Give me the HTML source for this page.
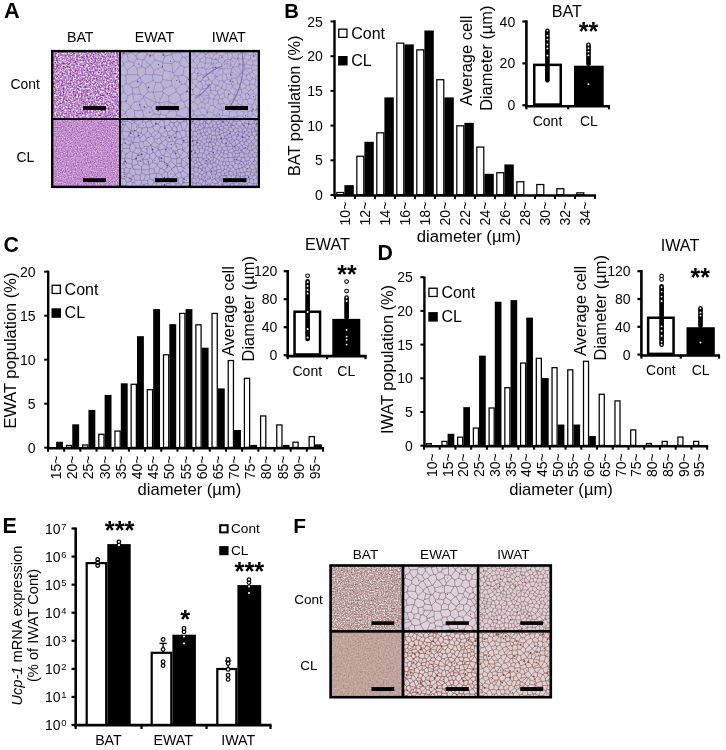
<!DOCTYPE html><html><head><meta charset="utf-8"><style>html,body{margin:0;padding:0;background:#fff;}svg{display:block;will-change:transform;filter:blur(0.3px);}text{font-family:"Liberation Sans", sans-serif;fill:#000;}</style></head><body>
<svg width="726" height="750" viewBox="0 0 726 750">
<rect x="0" y="0" width="726" height="750" fill="#fff"/>
<text x="4.1" y="17.8" font-size="21.7" font-weight="bold">A</text>
<text x="80.2" y="42.4" font-size="14.2" text-anchor="middle">BAT</text>
<text x="154.4" y="42.4" font-size="14.2" text-anchor="middle">EWAT</text>
<text x="228.7" y="42.4" font-size="14.2" text-anchor="middle">IWAT</text>
<text x="25.1" y="88.7" font-size="13.9" text-anchor="middle">Cont</text>
<text x="25.4" y="161.8" font-size="13.9" text-anchor="middle">CL</text>
<rect x="53" y="52" width="66" height="66" filter="url(#n1)"/>
<rect x="53" y="120" width="66" height="66" filter="url(#n2)"/>
<clipPath id="c1"><rect x="121" y="52" width="68" height="66"/></clipPath>
<g clip-path="url(#c1)">
<rect x="121" y="52" width="68" height="66" fill="#bbb5d5"/>
<path fill="none" stroke="#8f7cba" stroke-width="0.65" stroke-linecap="round" d="M117.6 59.6L113.1 57.4M117.6 59.6L116.0 68.7M111.5 68.0L116.0 68.7M114.4 85.4L122.6 86.1M114.3 79.6L118.9 74.1M122.6 86.1L126.4 83.5M126.4 83.5L125.9 76.0M125.9 76.0L118.9 74.1M116.0 68.7L116.5 68.9M116.5 68.9L118.9 74.1M117.6 59.6L120.6 59.7M123.2 65.2L116.5 68.9M123.2 65.2L123.5 63.4M120.6 59.7L123.5 63.4M133.9 65.1L127.4 70.2M133.9 65.1L137.2 68.4M137.2 68.4L137.7 74.7M137.7 74.7L127.1 74.6M127.1 74.6L127.4 70.2M125.9 76.0L127.1 74.6M123.2 65.2L127.4 70.2M123.5 63.4L128.5 60.8M133.9 65.1L133.6 62.7M133.6 62.7L128.5 60.8M137.2 68.4L141.5 66.6M133.6 62.7L136.7 58.6M136.7 58.6L143.1 59.6M141.5 66.6L143.1 59.6M120.6 59.7L122.9 54.9M122.9 54.9L115.2 52.1M115.2 52.1L120.4 46.5M196.4 78.0L192.4 76.1M191.4 69.9L192.4 76.1M191.4 69.9L200.3 68.0M189.8 66.4L194.3 61.8M189.8 66.4L189.7 66.5M189.7 66.5L191.4 69.9M189.8 66.4L185.1 57.4M185.1 57.4L190.8 55.5M190.8 55.5L194.3 57.0M196.0 47.2L193.8 46.5M190.8 55.5L188.4 48.0M193.8 46.5L188.4 48.0M171.3 54.6L174.3 61.4M171.3 54.6L165.0 56.1M165.0 56.1L162.5 62.1M162.9 63.0L171.9 63.6M162.9 63.0L162.5 62.1M171.9 63.6L174.3 61.4M162.6 66.9L164.4 70.4M162.6 66.9L153.9 70.4M153.4 73.8L153.9 70.4M153.4 73.8L162.0 75.9M164.4 70.4L162.0 75.9M162.6 66.9L162.9 63.0M171.9 63.6L172.7 72.4M164.4 70.4L172.7 72.4M122.6 86.1L123.4 91.8M111.3 92.3L118.1 97.8M123.4 91.8L118.1 97.8M198.8 129.6L193.6 122.7M193.6 122.7L186.8 128.6M193.5 119.2L197.9 117.3M193.5 119.2L188.0 115.9M188.0 115.9L188.3 109.2M188.3 109.2L192.7 107.6M192.7 107.6L197.5 108.1M193.6 122.7L193.5 119.2M185.1 117.7L182.7 125.3M185.1 117.7L188.0 115.9M176.2 111.8L185.7 106.8M176.2 111.8L177.0 115.2M185.7 106.8L188.3 109.2M185.1 117.7L177.0 115.2M186.9 91.0L191.2 96.2M186.9 91.0L180.1 95.2M180.1 95.2L181.2 100.0M183.8 102.0L181.2 100.0M183.8 102.0L188.6 99.4M188.6 99.4L191.2 96.2M185.7 106.8L183.8 102.0M192.7 107.6L193.3 102.1M188.6 99.4L193.3 102.1M176.2 111.8L175.0 110.6M181.2 100.0L174.7 104.1M175.0 110.6L174.7 104.1M168.8 96.0L176.1 91.7M168.8 96.0L168.7 101.4M176.1 91.7L180.1 95.2M168.7 101.4L169.3 102.2M174.7 104.1L169.3 102.2M122.9 54.9L124.8 53.8M128.5 60.8L127.0 54.4M124.8 53.8L127.0 54.4M120.4 46.5L123.1 47.4M124.8 53.8L123.1 47.4M155.2 51.5L162.7 52.4M155.2 51.5L153.9 44.7M164.4 46.2L162.7 52.4M153.1 55.0L155.1 60.1M153.1 55.0L146.6 54.6M146.6 54.6L143.9 59.4M143.9 59.4L150.1 65.1M155.1 60.1L150.4 65.1M150.4 65.1L150.1 65.1M165.0 56.1L162.7 52.4M162.5 62.1L155.1 60.1M155.2 51.5L153.1 55.0M141.5 66.6L145.8 68.3M145.8 68.3L150.1 65.1M143.1 59.6L143.9 59.4M153.9 70.4L150.4 65.1M152.5 74.9L145.2 74.2M152.5 74.9L153.0 80.5M153.0 80.5L145.4 84.0M145.2 74.2L140.3 77.6M140.3 77.6L140.3 77.8M140.3 77.8L142.2 82.0M142.2 82.0L145.4 84.0M153.4 73.8L152.5 74.9M145.8 68.3L145.2 74.2M160.9 82.1L155.8 82.6M160.9 82.1L162.7 79.7M155.8 82.6L153.0 80.5M162.7 79.7L162.0 75.9M137.7 74.7L140.3 77.6M126.4 83.5L128.8 84.3M128.8 84.3L140.3 77.8M128.8 84.3L132.3 88.1M132.3 88.1L138.2 87.0M138.2 87.0L142.2 82.0M182.3 57.0L180.5 52.7M182.3 57.0L179.4 62.2M171.3 54.6L172.0 53.7M179.4 62.2L174.3 61.4M180.5 52.7L172.0 53.7M165.3 45.7L171.1 47.0M172.0 53.7L171.1 47.0M185.1 57.4L182.3 57.0M189.7 66.5L184.4 67.3M179.4 62.2L180.6 65.1M184.4 67.3L180.6 65.1M172.7 72.4L173.7 73.1M180.6 65.1L173.7 73.1M118.1 97.8L118.9 100.6M118.9 100.6L111.4 107.4M114.1 130.3L118.8 122.2M122.1 123.7L119.2 121.9M119.2 121.9L118.8 122.2M132.5 124.5L130.5 121.2M129.0 120.7L130.5 121.2M129.0 120.7L122.1 123.7M111.3 123.4L118.8 122.2M118.2 117.3L119.2 121.9M118.2 117.3L125.4 113.2M125.4 113.2L129.0 120.7M118.2 117.3L115.1 115.0M139.3 124.9L140.7 119.1M130.5 121.2L134.5 116.6M134.5 116.6L140.7 119.1M149.3 118.7L150.3 124.1M149.3 118.7L143.9 116.4M140.7 119.1L143.9 116.4M118.9 100.6L121.4 101.6M113.5 110.0L121.1 109.2M121.4 101.6L121.1 109.2M125.4 113.2L125.8 111.9M134.6 110.6L134.5 116.6M134.6 110.6L130.6 107.6M130.6 107.6L125.8 111.9M121.1 109.2L125.8 111.9M168.8 96.0L163.4 92.8M168.7 101.4L159.3 103.0M159.3 103.0L158.9 102.8M163.4 92.8L158.9 102.8M139.5 101.1L143.4 97.5M139.5 101.1L141.1 110.3M143.4 97.5L148.1 106.6M148.1 106.6L142.3 110.8M141.1 110.3L142.3 110.8M149.3 118.7L153.9 113.9M143.9 116.4L142.3 110.8M151.1 107.1L153.9 113.9M151.1 107.1L148.1 106.6M134.6 110.6L141.1 110.3M143.6 96.4L143.6 96.5M143.6 96.4L148.2 91.9M143.6 96.5L156.0 102.5M148.2 91.9L153.2 92.1M153.2 92.1L153.4 92.2M153.4 92.2L156.2 102.4M156.0 102.5L156.2 102.4M138.2 87.0L140.8 94.6M140.8 94.6L143.6 96.4M145.4 84.0L148.2 91.9M151.1 107.1L156.0 102.5M143.4 97.5L143.6 96.5M155.8 82.6L153.2 92.1M160.9 82.1L163.3 89.2M163.3 89.2L162.6 91.5M162.6 91.5L153.4 92.2M163.4 92.8L162.6 91.5M158.9 102.8L156.2 102.4M177.0 115.2L174.5 118.4M174.5 118.4L175.5 125.5M188.3 87.9L194.8 87.2M188.3 87.9L186.9 91.0M191.2 96.2L197.3 95.6M193.3 102.1L198.0 97.1M136.7 58.6L136.1 56.0M146.6 54.6L142.6 46.9M136.1 56.0L142.6 46.9M127.0 54.4L131.2 52.5M136.1 56.0L131.2 52.5M188.4 48.0L183.8 46.0M180.5 52.7L182.4 46.9M171.1 47.0L174.6 43.8M162.7 79.7L171.4 80.6M173.7 73.1L174.6 75.5M174.6 75.5L171.4 80.6M163.3 89.2L172.2 85.2M171.4 80.6L172.2 85.2M176.1 91.7L175.8 89.2M175.8 89.2L172.2 85.2M126.0 101.8L130.5 106.3M126.0 101.8L127.9 95.6M127.9 95.6L132.6 93.7M134.4 102.3L132.6 93.8M134.4 102.3L130.5 106.3M132.6 93.7L132.6 93.8M121.4 101.6L126.0 101.8M130.6 107.6L130.5 106.3M123.4 91.8L127.9 95.6M132.3 88.1L132.6 93.7M140.8 94.6L132.6 93.8M139.5 101.1L134.4 102.3M153.9 113.9L159.2 114.7M159.2 114.7L158.6 125.0M174.5 118.4L167.0 117.5M173.1 127.2L166.4 121.2M167.0 117.5L166.4 121.2M166.4 121.2L160.6 126.6M131.2 52.5L132.3 46.0M123.1 47.4L129.6 43.5M182.7 75.0L177.4 76.1M182.7 75.0L187.7 77.8M177.4 76.1L181.5 84.3M187.7 77.8L185.5 84.0M185.5 84.0L181.5 84.3M184.4 67.3L182.7 75.0M174.6 75.5L177.4 76.1M192.4 76.1L187.7 77.8M175.8 89.2L181.5 84.3M188.3 87.9L185.5 84.0M161.5 108.3L160.7 114.1M161.5 108.3L167.5 107.4M160.7 114.1L165.9 115.7M165.9 115.7L169.3 111.2M169.3 111.2L167.5 107.4M159.3 103.0L161.5 108.3M159.2 114.7L160.7 114.1M169.3 102.2L167.5 107.4M167.0 117.5L165.9 115.7M175.0 110.6L169.3 111.2"/>
<path stroke="#6a4c98" stroke-width="0.8" stroke-linecap="round" d="M159.8 98.2h0M140.0 104.8h0M149.9 56.8h0M164.1 104.9h0M137.2 59.2h0M163.7 87.1h0M140.7 85.0h0M141.9 66.2h0M187.8 107.2h0M140.9 82.3h0"/>
<path stroke="#6a4c98" stroke-width="1.3" stroke-linecap="round" d="M149.7 112.2h0M162.4 66.7h0M179.7 81.9h0M188.6 79.6h0M138.8 64.0h0M139.4 105.0h0M158.5 64.5h0M176.7 80.5h0M170.6 61.2h0M125.8 100.9h0M139.3 52.2h0"/>
<path stroke="#6a4c98" stroke-width="1.8" stroke-linecap="round" d="M148.6 87.4h0M163.3 54.9h0M123.5 53.2h0M137.7 81.5h0M158.1 110.7h0M144.3 106.9h0M150.3 55.7h0M178.2 109.5h0M187.0 91.5h0"/>
</g>
<clipPath id="c2"><rect x="121" y="120" width="68" height="66"/></clipPath>
<g clip-path="url(#c2)">
<rect x="121" y="120" width="68" height="66" fill="#b9b3d4"/>
<path fill="none" stroke="#8a74b6" stroke-width="0.65" stroke-linecap="round" d="M117.3 117.0L115.2 114.7M117.3 117.0L116.9 121.1M116.9 121.1L114.4 122.7M117.3 117.0L122.3 117.8M122.3 117.8L122.5 117.0M121.6 111.2L122.5 117.0M158.5 149.1L159.2 144.2M158.5 149.1L150.9 145.2M150.9 145.2L150.8 145.0M154.2 141.7L159.2 144.2M154.2 141.7L150.9 144.9M150.9 144.9L150.8 145.0M122.3 117.8L123.7 120.9M116.9 121.1L121.1 122.3M123.7 120.9L121.1 122.3M114.5 125.0L117.1 126.5M117.1 126.5L119.9 124.7M121.1 122.3L119.9 124.7M128.3 113.6L130.1 115.6M134.6 110.4L132.6 115.5M130.1 115.6L132.6 115.5M122.5 117.0L128.3 113.6M127.2 121.2L125.6 121.6M127.2 121.2L130.1 115.6M123.7 120.9L125.6 121.6M138.0 136.5L138.1 132.7M138.0 136.5L134.5 137.4M135.8 130.8L138.1 132.7M135.8 130.8L133.0 131.3M134.5 137.4L133.0 131.3M145.9 110.4L146.8 115.2M153.0 110.0L152.6 115.5M146.8 115.2L148.8 116.2M152.6 115.5L148.8 116.2M139.5 115.8L134.8 116.9M139.5 115.8L142.3 119.2M142.3 119.2L134.7 121.4M134.8 116.9L134.7 121.4M140.4 111.1L139.5 115.8M132.6 115.5L134.8 116.9M146.8 115.2L142.5 119.4M142.5 119.4L142.3 119.2M127.2 121.2L131.8 123.6M131.8 123.6L134.4 122.6M134.4 122.6L134.7 121.4M195.8 139.9L193.4 136.5M201.1 133.7L193.4 136.5M191.5 130.9L193.1 136.5M191.5 130.9L191.9 130.4M193.4 136.5L193.1 136.5M191.9 130.4L195.7 130.1M195.3 147.2L193.9 143.8M195.2 147.5L190.1 147.0M193.9 143.8L189.4 140.5M190.1 147.0L188.3 145.6M188.3 145.6L187.8 142.4M189.4 140.5L187.8 142.4M195.8 139.9L193.9 143.8M189.7 138.8L193.1 136.5M189.7 138.8L189.4 140.5M174.9 142.3L175.2 143.2M174.9 142.3L177.1 139.3M181.8 138.6L177.1 139.3M181.8 138.6L183.3 142.2M183.3 142.2L181.7 144.6M175.2 143.2L181.7 144.6M183.3 142.2L187.8 142.4M183.5 149.5L188.3 145.6M183.5 149.5L182.6 148.8M182.6 148.8L181.7 144.6M113.2 184.4L117.4 181.2M113.8 176.9L117.4 181.2M155.3 173.3L149.6 174.1M155.3 173.3L153.7 169.0M153.7 169.0L149.5 168.5M149.5 168.5L148.9 169.7M149.6 174.1L148.9 169.7M182.8 170.8L183.3 167.5M182.8 170.8L187.8 174.5M187.8 174.5L191.1 171.8M187.1 165.1L183.3 167.5M187.1 165.1L191.1 171.7M191.1 171.7L191.1 171.8M198.1 170.6L193.9 169.4M193.9 169.4L191.1 171.7M191.1 171.8L194.6 174.9M164.1 161.7L159.7 161.5M164.1 161.7L166.1 163.4M166.1 163.4L161.2 168.4M159.7 161.5L157.1 164.4M160.1 168.4L161.2 168.4M160.1 168.4L157.3 165.2M157.3 165.2L157.1 164.4M155.3 173.3L156.5 173.9M153.7 169.0L157.3 165.2M156.5 173.9L158.5 173.1M158.5 173.1L160.1 168.4M167.8 163.8L168.4 165.2M167.8 163.8L166.1 163.4M161.2 168.4L164.5 170.3M168.4 165.2L164.5 170.3M158.5 173.1L161.6 174.9M161.6 174.9L165.3 171.7M165.3 171.7L164.5 170.3M125.4 124.7L123.0 128.8M125.4 124.7L130.9 130.9M129.6 131.8L130.9 130.9M129.6 131.8L122.7 131.0M122.7 131.0L123.0 128.8M125.6 121.6L125.4 124.7M119.9 124.7L123.0 128.8M131.8 123.6L131.2 130.8M131.2 130.8L130.9 130.9M143.0 141.6L146.1 140.3M143.0 141.6L140.3 141.1M140.3 141.1L140.0 138.2M140.0 138.2L143.3 134.5M146.5 138.6L144.1 134.5M146.5 138.6L146.1 140.3M144.1 134.5L143.3 134.5M144.3 146.6L143.0 141.6M144.3 146.6L148.3 146.7M148.3 146.7L150.8 145.0M150.9 144.9L146.1 140.3M138.0 136.5L140.0 138.2M141.4 133.0L138.1 132.7M141.4 133.0L143.3 134.5M147.6 130.9L151.3 134.4M147.6 130.9L144.1 134.5M151.8 136.0L151.3 134.4M151.8 136.0L146.5 138.6M138.1 125.1L142.9 120.5M138.1 125.1L138.4 127.1M138.4 127.1L142.0 128.2M142.0 128.2L146.6 127.1M146.6 127.1L145.7 122.7M145.7 122.7L142.9 120.5M134.4 122.6L138.1 125.1M142.5 119.4L142.9 120.5M135.8 130.8L138.4 127.1M131.2 130.8L133.0 131.3M141.4 133.0L142.0 128.2M147.6 130.9L147.6 128.0M147.6 128.0L146.6 127.1M148.8 116.2L148.9 120.8M148.9 120.8L145.7 122.7M134.5 137.4L134.2 138.1M129.6 131.8L128.7 135.7M134.2 138.1L128.7 135.7M195.9 118.1L191.0 116.3M193.0 112.4L191.0 116.3M151.3 134.4L154.6 130.5M147.6 128.0L152.3 126.8M154.6 130.5L152.3 126.8M171.4 115.8L167.6 112.8M171.4 115.8L174.8 114.8M173.8 151.6L173.2 151.6M173.8 151.6L177.0 150.6M173.2 151.6L171.2 148.2M177.0 150.6L177.8 149.6M177.8 149.6L175.1 143.6M171.2 148.2L175.1 143.6M179.7 155.9L179.2 157.6M179.7 155.9L177.0 150.6M179.2 157.6L177.5 158.1M177.5 158.1L173.8 151.6M184.2 151.3L179.7 155.9M184.2 151.3L183.5 149.5M182.6 148.8L177.8 149.6M175.2 143.2L175.1 143.6M174.9 142.3L172.6 141.1M166.5 147.8L171.2 148.2M166.5 147.8L166.4 147.0M166.4 147.0L168.2 142.0M172.6 141.1L168.2 142.0M177.1 139.3L176.0 132.8M176.0 132.8L171.2 136.3M172.6 141.1L171.2 136.3M166.4 147.0L161.2 143.2M161.7 142.0L161.2 143.2M161.7 142.0L165.9 139.5M168.2 142.0L165.9 139.5M157.4 196.3L160.4 190.1M160.4 190.1L165.3 193.3M132.5 166.3L131.8 164.2M132.5 166.3L137.3 164.1M131.8 164.2L132.4 159.7M137.3 164.1L137.9 161.3M137.9 161.3L135.3 159.3M135.3 159.3L132.4 159.7M131.8 164.2L124.7 162.1M125.1 158.0L131.8 158.9M125.1 158.0L124.4 158.7M124.4 158.7L124.7 162.1M132.4 159.7L131.8 158.9M115.6 133.7L118.6 131.6M115.4 134.6L119.5 138.6M118.6 131.6L122.0 131.5M122.0 131.5L123.7 139.0M123.7 139.0L119.5 138.6M117.1 126.5L118.6 131.6M115.1 143.3L116.2 143.1M116.2 143.1L119.5 138.6M122.7 131.0L122.0 131.5M125.2 138.9L124.0 139.3M125.2 138.9L128.6 135.9M124.0 139.3L123.7 139.0M128.6 135.9L128.7 135.7M124.0 139.3L123.6 142.7M123.6 142.7L122.1 144.5M122.1 144.5L120.4 144.6M120.4 144.6L116.2 143.1M126.2 167.4L124.1 163.5M126.2 167.4L130.2 168.9M132.5 166.3L132.3 167.5M124.7 162.1L124.1 163.5M132.3 167.5L130.2 168.9M158.5 149.1L158.7 149.6M159.2 144.2L161.2 143.2M166.5 147.8L166.1 148.6M158.7 149.6L159.6 150.0M166.1 148.6L159.6 150.0M182.8 170.8L180.6 172.2M183.3 167.5L182.1 166.6M178.9 172.4L180.6 172.2M178.9 172.4L176.6 166.4M176.6 166.4L182.1 166.6M187.8 163.9L181.6 159.3M187.8 163.9L187.1 165.1M181.6 159.3L180.9 163.6M182.1 166.6L180.9 163.6M167.5 172.7L171.6 169.6M167.5 172.7L167.9 177.3M167.9 177.3L171.0 178.9M171.0 178.9L175.3 175.1M171.6 169.6L175.5 174.2M175.5 174.2L175.3 175.1M171.6 168.8L168.4 165.2M171.6 168.8L171.6 169.6M165.3 171.7L167.5 172.7M171.6 168.8L175.7 165.9M178.9 172.4L175.5 174.2M175.7 165.9L176.6 166.4M180.6 172.2L181.9 177.5M175.3 175.1L177.9 178.2M177.9 178.2L181.9 177.5M191.9 130.4L191.8 126.0M191.8 126.0L194.2 124.1M191.0 116.3L188.7 116.7M187.5 111.2L187.9 115.0M188.7 116.7L187.9 115.0M194.7 121.8L187.5 119.7M188.7 116.7L187.5 119.7M182.2 112.0L182.0 115.1M187.9 115.0L182.0 115.1M176.1 132.5L177.6 131.7M176.1 132.5L172.2 130.0M172.2 130.0L172.1 128.5M177.6 131.7L176.7 127.3M172.1 128.5L174.2 125.7M176.7 127.3L174.2 125.7M181.8 138.6L182.0 138.1M176.0 132.8L176.1 132.5M177.6 131.7L179.4 131.7M179.4 131.7L182.0 138.1M189.7 138.8L186.1 136.0M191.5 130.9L185.7 131.3M186.1 136.0L185.7 131.3M186.1 136.0L182.0 138.1M190.1 147.0L188.1 152.9M194.1 150.4L188.1 152.9M184.2 151.3L187.6 153.4M179.2 157.6L181.6 159.2M181.6 159.2L188.2 155.7M188.2 155.7L187.6 153.4M188.1 152.9L187.6 153.4M172.1 128.5L168.7 124.7M173.8 122.9L174.2 125.7M173.8 122.9L170.5 122.0M168.7 124.7L170.5 122.0M154.2 141.7L154.4 139.3M161.7 142.0L160.0 138.0M160.0 138.0L154.4 139.3M151.8 136.0L153.6 137.3M153.6 137.3L154.4 139.3M154.6 130.5L158.4 131.5M153.6 137.3L158.6 132.2M158.4 131.5L158.6 132.2M153.0 126.0L156.9 124.0M153.0 126.0L150.7 120.9M156.9 124.0L154.2 118.7M150.7 120.9L154.2 118.7M158.1 124.2L156.9 124.0M158.1 124.2L160.6 126.8M152.3 126.8L153.0 126.0M160.6 126.8L158.4 131.5M148.9 120.8L150.7 120.9M152.6 115.5L154.4 117.8M154.4 117.8L154.2 118.7M154.4 117.8L159.7 115.9M157.1 110.0L159.7 115.9M119.4 172.6L119.7 172.8M119.4 172.6L113.8 176.9M117.4 181.2L118.3 181.3M118.3 181.3L122.0 178.5M122.0 178.5L119.7 172.8M124.6 168.8L126.2 167.4M124.6 168.8L124.3 172.2M129.0 172.5L130.2 168.9M129.0 172.5L127.3 173.6M124.3 172.2L127.3 173.6M154.1 189.0L151.4 186.3M154.1 189.0L157.3 188.4M151.4 186.3L154.0 182.3M154.0 182.3L156.6 183.1M156.6 183.1L157.3 188.4M160.4 190.1L160.3 189.9M154.1 189.0L152.4 193.7M160.3 189.9L157.3 188.4M124.6 168.8L118.8 168.4M124.1 163.5L123.5 163.9M123.5 163.9L118.8 168.4M111.6 169.5L116.3 167.7M119.4 172.6L118.1 168.8M116.3 167.7L118.1 168.8M119.7 172.8L124.3 172.2M118.1 168.8L118.8 168.4M123.5 163.9L115.7 161.9M116.3 167.7L115.7 161.9M141.7 166.9L143.8 163.9M141.7 166.9L137.3 164.1M137.9 161.3L142.7 159.6M142.7 159.6L142.8 159.8M143.8 163.9L142.8 159.8M125.8 154.5L125.1 158.0M125.8 154.5L130.5 151.2M131.8 158.9L132.5 152.3M130.5 151.2L132.5 152.3M125.8 154.5L122.3 150.7M122.3 150.7L123.2 148.5M123.2 148.5L129.6 148.2M130.5 151.2L129.6 148.2M123.2 148.5L122.1 144.5M123.6 142.7L130.0 146.0M129.6 148.2L130.0 146.0M125.2 138.9L132.8 142.9M130.0 146.0L132.8 142.9M128.6 135.9L133.1 142.7M132.8 142.9L133.1 142.7M120.4 144.6L118.1 148.7M118.1 148.7L114.1 148.0M129.0 172.5L132.9 176.0M132.9 176.0L130.6 178.0M127.3 173.6L126.2 176.9M130.6 178.0L126.2 176.9M122.0 178.5L124.6 178.9M126.2 176.9L124.6 178.9M134.8 169.4L135.5 174.4M134.8 169.4L141.5 169.4M135.5 174.4L140.1 175.0M140.1 175.0L141.8 172.7M141.8 172.7L141.8 170.0M141.5 169.4L141.8 170.0M132.9 176.0L133.5 176.1M133.5 176.1L135.5 174.4M132.3 167.5L134.8 169.4M141.7 166.9L141.5 169.4M135.4 180.4L140.4 179.9M135.4 180.4L133.5 176.1M140.4 179.9L140.1 175.0M164.7 156.3L163.9 155.4M164.7 156.3L170.4 157.0M163.9 155.4L166.2 150.5M166.2 150.5L170.6 155.0M170.4 157.0L170.6 155.0M159.0 157.2L159.7 161.5M159.0 157.2L161.7 155.2M164.1 161.7L164.7 156.3M161.7 155.2L163.9 155.4M166.1 148.6L166.2 150.5M159.6 150.0L161.7 155.2M173.2 151.6L170.6 155.0M175.8 165.5L176.7 163.3M175.8 165.5L170.5 160.7M176.7 163.3L176.8 158.6M176.8 158.6L171.3 158.7M170.5 160.7L171.3 158.7M175.7 165.9L175.8 165.5M180.9 163.6L176.7 163.3M167.8 163.8L170.5 160.7M181.6 159.3L181.6 159.2M177.5 158.1L176.8 158.6M170.4 157.0L171.3 158.7M187.8 174.5L187.8 175.8M181.9 177.5L183.1 178.3M187.8 175.8L183.1 178.3M194.6 174.9L192.1 179.0M195.2 179.9L192.1 179.0M187.8 175.8L189.9 179.4M192.1 179.0L189.9 179.4M183.1 178.3L182.6 183.2M182.6 183.2L189.2 182.3M189.9 179.4L189.2 182.3M177.9 178.2L178.3 183.5M182.6 183.2L181.3 184.5M181.3 184.5L178.3 183.5M171.5 181.3L176.3 184.0M171.5 181.3L171.0 178.9M176.3 184.0L178.3 183.5M191.8 126.0L187.6 124.2M187.5 119.7L186.2 121.0M187.6 124.2L186.2 121.0M185.7 131.3L184.5 130.3M187.6 124.2L184.5 130.3M179.4 131.7L182.5 130.1M184.5 130.3L182.5 130.1M194.6 157.6L193.4 157.5M193.4 157.5L190.7 158.3M190.7 158.3L189.6 162.6M189.6 162.6L194.0 165.2M194.0 165.2L199.6 163.2M194.1 150.4L193.4 157.5M188.2 155.7L190.7 158.3M187.8 163.9L189.6 162.6M193.9 169.4L194.0 165.2M167.5 131.7L166.4 130.7M167.5 131.7L167.9 135.1M166.4 130.7L160.8 134.3M167.9 135.1L165.8 137.2M165.8 137.2L161.3 135.7M161.3 135.7L160.8 134.3M172.2 130.0L167.5 131.7M164.6 126.7L168.7 124.7M164.6 126.7L164.6 126.7M164.6 126.7L166.4 130.7M171.2 136.3L167.9 135.1M164.6 126.7L160.6 126.8M158.6 132.2L160.8 134.3M165.9 139.5L165.8 137.2M160.0 138.0L161.3 135.7M163.4 115.3L162.9 115.3M163.4 115.3L166.2 119.3M162.9 115.3L160.4 116.2M160.4 116.2L160.8 119.8M160.8 119.8L164.2 121.3M164.2 121.3L166.2 119.3M167.6 112.8L163.4 115.3M162.0 109.4L162.9 115.3M171.4 115.8L169.8 119.7M169.8 119.7L166.2 119.3M159.7 115.9L160.4 116.2M158.1 124.2L160.8 119.8M164.6 126.7L164.2 121.3M169.8 119.7L170.5 122.0M123.4 189.5L125.7 185.2M123.4 189.5L119.7 189.7M125.7 185.2L120.0 185.2M120.0 185.2L118.9 188.2M118.9 188.2L119.7 189.7M119.6 193.7L119.7 189.7M127.2 194.0L123.4 189.5M114.5 188.3L118.9 188.2M118.3 181.3L120.0 185.2M156.5 173.9L156.2 176.8M149.6 174.1L149.2 174.8M156.2 176.8L152.9 180.0M152.9 180.0L150.0 178.8M150.0 178.8L149.2 174.8M148.9 169.7L141.8 170.0M141.8 172.7L145.7 174.8M149.2 174.8L145.7 174.8M148.6 191.9L147.8 187.9M151.4 186.3L149.4 186.5M147.8 187.9L149.4 186.5M165.1 186.4L166.6 183.8M165.1 186.4L162.6 186.7M162.6 186.7L160.5 181.6M166.6 183.8L163.6 178.9M163.4 178.9L160.8 180.9M163.4 178.9L163.6 178.9M160.8 180.9L160.5 181.6M170.4 182.7L170.1 189.0M170.4 182.7L166.6 183.8M168.8 189.2L170.1 189.0M168.8 189.2L165.1 186.4M165.3 193.3L168.8 189.2M160.3 189.9L162.6 186.7M156.6 183.1L160.5 181.6M171.5 181.3L170.4 182.7M167.9 177.3L163.6 178.9M161.6 174.9L163.4 178.9M156.2 176.8L160.8 180.9M152.9 180.0L154.0 182.3M149.5 168.5L149.1 165.0M157.1 164.4L152.9 162.2M149.1 165.0L152.9 162.2M143.8 163.9L148.8 164.9M149.1 165.0L148.8 164.9M142.8 159.8L147.5 159.2M148.8 164.9L147.5 159.2M135.3 159.3L138.5 154.2M132.5 152.3L133.2 152.2M133.2 152.2L138.5 154.2M146.7 153.1L146.8 153.2M146.7 153.1L141.3 150.9M142.7 159.5L146.8 153.2M142.7 159.5L138.6 154.1M138.6 154.1L141.3 150.9M142.7 159.6L142.7 159.5M138.6 154.1L138.5 154.2M144.3 146.6L141.1 149.2M148.3 146.7L146.7 153.1M141.1 149.2L141.3 150.9M121.9 150.8L119.8 150.8M121.9 150.8L119.7 157.9M119.8 150.8L115.7 154.7M115.7 154.7L117.8 158.0M119.7 157.9L117.8 158.0M122.3 150.7L121.9 150.8M118.1 148.7L119.8 150.8M124.4 158.7L119.7 157.9M115.7 161.9L117.8 158.0M126.1 185.0L130.0 188.8M126.1 185.0L126.6 182.2M126.6 182.2L130.2 181.4M130.7 188.6L130.0 188.8M130.7 188.6L133.2 182.5M133.2 182.5L130.2 181.4M128.0 194.1L130.0 188.8M125.7 185.2L126.1 185.0M124.6 178.9L126.6 182.2M130.6 178.0L130.2 181.4M136.6 189.4L137.6 192.3M136.6 189.4L130.7 188.6M136.6 189.4L137.7 187.3M137.7 187.3L134.1 182.2M134.1 182.2L133.2 182.5M134.1 182.2L135.4 180.4M184.5 190.2L193.3 188.6M184.5 190.2L189.8 183.6M193.3 188.6L190.9 184.5M189.8 183.6L190.9 184.5M189.2 182.3L189.8 183.6M183.8 190.6L184.5 190.2M183.8 190.6L182.7 189.6M181.3 184.5L182.7 189.6M196.5 181.6L190.9 184.5M194.3 189.4L188.2 193.9M193.3 188.6L194.3 189.4M184.2 192.2L183.8 190.6M181.9 189.8L174.2 188.5M181.9 189.8L175.3 193.4M173.7 193.2L172.6 190.2M172.6 190.2L174.2 188.5M182.7 189.6L181.9 189.8M176.3 184.0L174.2 188.5M170.1 189.0L172.6 190.2M184.1 120.9L180.5 123.0M184.1 120.9L181.5 116.0M177.2 121.4L179.7 122.9M177.2 121.4L176.6 116.4M179.7 122.9L180.5 123.0M176.6 116.4L181.5 116.0M186.2 121.0L184.1 120.9M182.5 130.1L180.5 123.0M182.0 115.1L181.5 116.0M176.7 127.3L179.7 122.9M173.8 122.9L177.2 121.4M174.8 114.8L176.6 116.4M142.4 193.1L143.6 189.2M137.7 187.3L138.6 186.8M143.6 189.2L138.6 186.8M147.8 187.9L145.3 187.8M143.6 189.2L145.3 187.8M147.7 180.6L143.9 180.1M147.7 180.6L147.9 183.0M147.9 183.0L143.5 184.8M143.9 180.1L141.4 180.7M141.4 180.7L141.5 183.1M141.5 183.1L143.5 184.8M150.0 178.8L147.7 180.6M145.7 174.8L143.9 180.1M149.4 186.5L147.9 183.0M145.3 187.8L143.5 184.8M140.4 179.9L141.4 180.7M138.6 186.8L141.5 183.1M152.6 160.4L149.9 157.8M152.6 160.4L156.5 156.2M149.9 157.8L149.6 154.4M149.6 154.4L153.0 152.5M156.5 156.2L154.8 152.8M153.0 152.5L154.8 152.8M152.9 162.2L152.6 160.4M147.5 159.2L149.9 157.8M159.0 157.2L156.5 156.2M146.8 153.2L149.6 154.4M150.9 145.2L153.0 152.5M158.7 149.6L154.8 152.8M140.2 148.2L135.9 148.1M140.2 148.2L138.5 142.5M135.9 148.1L133.3 142.7M138.5 142.5L133.6 142.5M133.6 142.5L133.3 142.7M133.2 152.2L135.9 148.1M141.1 149.2L140.2 148.2M140.3 141.1L138.5 142.5M133.1 142.7L133.3 142.7M134.2 138.1L133.6 142.5"/>
<path stroke="#5e4290" stroke-width="0.8" stroke-linecap="round" d="M174.0 150.2h0M176.1 146.4h0M129.7 148.4h0M123.8 162.0h0M181.9 163.1h0M170.8 173.8h0M186.1 180.5h0M167.7 167.6h0M155.2 180.7h0M161.2 160.6h0M142.7 122.4h0M167.2 179.1h0M158.8 158.3h0M143.5 125.4h0M133.0 169.1h0M121.1 122.2h0M155.9 179.1h0M154.2 160.4h0M131.8 120.9h0M169.1 149.8h0M148.3 137.4h0M184.7 168.4h0M132.2 120.0h0M157.1 146.8h0M131.8 180.2h0M121.8 156.4h0M174.2 167.2h0M126.5 163.3h0M136.4 126.9h0M187.1 139.5h0M126.8 153.5h0"/>
<path stroke="#5e4290" stroke-width="1.3" stroke-linecap="round" d="M165.8 149.5h0M133.2 120.2h0M129.9 178.5h0M125.5 143.2h0M131.8 179.2h0M182.5 150.1h0M148.4 162.0h0M124.3 176.6h0M138.1 155.4h0M171.2 144.5h0M188.4 158.1h0M141.2 154.1h0M140.8 161.3h0M122.5 120.2h0M130.1 144.2h0M164.4 177.5h0M124.8 174.2h0M164.7 162.7h0M176.3 131.5h0M146.5 148.8h0M183.9 182.2h0M134.8 130.5h0"/>
<path stroke="#5e4290" stroke-width="1.8" stroke-linecap="round" d="M152.6 149.5h0M175.6 153.3h0M183.7 140.7h0M155.8 123.6h0M122.8 124.4h0M174.9 137.4h0M164.5 184.9h0M184.1 179.1h0M141.7 154.5h0M136.2 158.5h0M161.4 158.2h0M130.7 133.2h0M125.3 161.3h0M164.8 128.1h0M169.4 137.6h0M167.2 165.3h0M138.7 135.6h0"/>
</g>
<clipPath id="c3"><rect x="191" y="52" width="66.5" height="66"/></clipPath>
<g clip-path="url(#c3)">
<rect x="191" y="52" width="66.5" height="66" fill="#bab4d5"/>
<path fill="none" stroke="#917fbd" stroke-width="0.55" stroke-linecap="round" d="M182.8 122.5L188.6 122.9M189.7 124.7L188.6 122.9M223.9 124.5L223.8 122.1M216.9 123.3L221.1 119.4M223.8 122.1L221.1 119.4M188.8 86.7L192.2 82.7M188.8 86.7L189.7 88.5M189.7 88.5L192.2 89.5M192.2 89.5L196.0 86.5M196.0 86.5L196.0 86.1M192.2 82.7L196.0 86.1M260.0 90.6L263.5 88.4M260.0 90.6L259.7 93.7M259.7 93.7L263.3 96.0M260.0 90.6L256.3 87.4M259.7 93.7L255.8 95.2M255.8 95.2L253.9 93.3M256.3 87.4L253.1 90.5M253.9 93.3L253.1 90.5M249.5 98.1L249.6 95.5M249.5 98.1L247.0 99.8M247.0 99.8L245.8 99.4M245.8 99.4L245.5 93.6M249.6 95.5L247.2 93.3M245.5 93.6L247.2 93.3M255.8 95.2L255.2 99.7M254.9 99.9L255.2 99.7M254.9 99.9L249.5 98.1M253.9 93.3L249.6 95.5M243.6 99.8L245.8 99.4M243.6 99.8L241.1 104.8M241.1 104.8L241.4 105.2M241.4 105.2L245.3 106.9M248.4 104.0L245.3 106.9M248.4 104.0L247.0 99.8M248.8 90.8L251.1 89.7M248.8 90.8L247.2 93.3M251.1 89.7L253.1 90.5M224.2 103.5L226.6 105.1M224.2 103.5L220.0 104.0M226.6 105.1L225.5 108.6M222.3 109.9L220.0 104.0M222.3 109.9L222.8 110.1M225.5 108.6L222.8 110.1M234.3 110.1L234.1 106.6M234.3 110.1L229.6 112.0M226.6 105.1L229.5 103.2M225.5 108.6L229.6 112.0M229.5 103.2L234.1 106.6M245.0 88.0L248.8 90.8M245.0 88.0L241.3 89.7M245.5 93.6L241.9 92.3M241.9 92.3L241.3 89.7M236.8 77.9L232.2 78.2M236.8 77.9L237.8 83.6M237.8 83.6L232.4 85.6M230.9 79.4L232.2 78.2M230.9 79.4L231.6 84.5M231.6 84.5L232.4 85.6M218.2 85.1L215.8 85.5M218.2 85.1L221.4 88.3M215.8 85.5L215.4 90.4M215.4 90.4L217.3 91.2M217.3 91.2L221.4 88.3M222.1 98.9L225.2 97.1M222.1 98.9L220.1 98.6M225.2 97.1L224.0 92.9M224.0 92.9L219.1 95.1M220.1 98.6L219.1 95.1M217.3 91.2L217.9 94.0M221.5 88.3L224.8 90.1M221.5 88.3L221.4 88.3M224.8 90.1L224.0 92.9M217.9 94.0L219.1 95.1M197.8 105.1L194.1 101.9M197.8 105.1L201.2 102.2M194.1 101.9L196.4 95.6M196.4 95.6L198.1 95.2M201.2 102.2L198.1 95.2M209.9 119.1L210.2 120.2M209.9 119.1L213.9 114.7M210.2 120.2L211.6 122.1M213.9 114.7L216.3 115.8M214.4 121.8L216.9 116.4M214.4 121.8L211.6 122.1M216.9 116.4L216.3 115.8M204.7 123.0L210.2 120.2M210.5 125.9L211.6 122.1M216.9 123.3L214.4 121.8M221.1 119.4L220.5 117.4M220.5 117.4L216.9 116.4M220.5 117.4L222.4 115.2M219.3 109.6L222.3 109.9M219.3 109.6L216.3 115.8M222.4 115.2L222.8 110.1M186.4 85.5L185.7 79.4M186.4 85.5L184.5 86.4M186.4 85.5L188.8 86.7M189.7 88.5L187.4 91.2M187.4 91.2L183.3 90.4M185.8 79.0L190.9 78.4M192.2 82.7L191.8 79.2M190.9 78.4L191.8 79.2M189.5 117.4L190.9 116.9M189.5 117.4L188.2 116.8M194.1 111.3L193.9 114.0M194.1 111.3L193.6 111.0M193.6 111.0L187.4 111.4M190.9 116.9L193.9 114.0M187.4 111.4L188.2 116.8M188.6 122.9L189.5 117.4M188.2 116.8L183.9 116.6M187.0 105.5L184.8 109.6M187.0 105.5L181.7 104.1M187.4 111.4L184.8 109.6M197.8 105.1L198.0 108.6M194.1 111.3L198.0 108.7M193.6 111.0L189.4 105.4M194.1 101.9L192.8 102.2M198.0 108.6L198.0 108.7M192.8 102.2L189.4 105.4M187.0 105.5L187.3 105.3M187.3 105.3L189.4 105.4M190.9 78.4L191.9 74.0M191.9 74.0L187.0 70.6M187.0 70.6L184.6 72.9M209.1 79.7L205.3 81.2M209.1 79.7L212.1 81.3M210.4 85.3L211.9 83.0M210.4 85.3L205.9 84.1M205.9 84.1L205.3 81.2M212.1 81.3L211.9 83.0M219.2 81.0L215.1 78.4M219.2 81.0L218.2 85.1M215.1 78.4L212.1 81.3M215.8 85.5L211.9 83.0M204.5 68.0L205.3 63.2M204.5 68.0L205.8 69.6M205.8 69.6L206.1 69.5M206.1 69.5L211.8 63.9M205.5 63.1L205.3 63.2M205.5 63.1L211.3 62.9M211.3 62.9L211.8 63.9M215.9 36.3L219.9 47.2M219.9 47.2L221.0 46.9M256.4 87.0L254.8 84.9M256.4 87.0L261.0 83.5M254.8 84.9L255.7 79.5M255.7 79.5L260.8 82.4M260.8 82.4L261.0 83.5M264.3 85.6L261.0 83.5M256.3 87.4L256.4 87.0M257.3 106.1L253.7 103.5M257.3 106.1L255.4 110.4M255.4 110.4L252.2 111.0M252.1 104.6L252.2 110.9M252.1 104.6L253.7 103.5M252.2 110.9L252.2 111.0M248.4 104.0L252.1 104.6M245.3 106.9L246.1 110.0M248.1 110.9L246.1 110.0M248.1 110.9L252.2 110.9M254.9 99.9L253.7 103.5M262.1 98.9L267.0 101.1M262.1 98.9L260.9 101.0M260.9 101.0L262.3 104.6M267.0 101.1L262.3 104.6M263.3 96.0L262.1 98.9M255.2 99.7L260.9 101.0M262.4 106.1L257.3 106.1M262.4 106.1L262.3 104.6M262.7 106.6L262.4 106.1M225.6 121.0L228.9 116.4M225.6 121.0L229.8 122.0M229.8 122.0L231.3 118.3M229.0 116.3L228.9 116.4M229.0 116.3L231.3 117.9M231.3 117.9L231.3 118.3M223.8 122.1L225.6 121.0M222.4 115.2L228.9 116.4M230.5 125.3L229.8 122.0M234.5 123.6L231.3 118.3M229.6 112.0L229.0 116.3M237.6 122.7L236.9 116.6M237.6 122.7L237.3 123.1M236.9 116.6L231.3 117.9M244.0 111.8L242.7 116.3M244.0 111.8L239.5 110.2M242.7 116.3L237.4 115.8M237.4 115.8L236.6 112.1M236.6 112.1L239.5 110.2M241.4 105.2L239.5 110.2M246.1 110.0L244.0 111.8M236.9 116.6L237.4 115.8M234.3 110.1L236.6 112.1M241.1 104.8L238.2 103.9M238.2 103.9L234.1 106.6M248.1 110.9L247.5 116.7M242.7 116.3L244.1 117.7M244.1 117.7L247.5 116.7M252.7 114.0L252.2 111.0M252.7 114.0L250.4 117.5M247.5 116.7L250.4 117.5M233.2 58.0L232.0 53.9M233.2 58.0L230.7 59.8M230.7 59.8L228.1 59.2M228.1 59.2L227.3 53.3M232.0 53.9L229.5 52.6M227.3 53.3L229.5 52.6M241.2 52.6L239.6 48.5M241.2 52.6L238.6 54.8M238.6 54.8L235.2 51.9M239.6 48.5L235.8 49.0M235.8 49.0L235.2 51.9M230.9 79.4L227.4 79.1M226.6 84.1L231.6 84.5M226.6 84.1L224.2 81.4M227.4 79.1L224.2 81.4M219.2 81.0L222.6 80.7M221.5 88.3L223.9 81.4M222.6 80.7L223.9 81.4M226.6 84.1L225.8 89.9M225.8 89.9L224.8 90.1M223.9 81.4L224.2 81.4M239.6 84.6L240.9 89.4M239.6 84.6L242.8 82.4M245.0 88.0L246.7 85.6M241.3 89.7L240.9 89.4M242.8 82.4L246.7 85.6M239.6 84.6L237.8 83.6M236.8 77.9L238.1 76.5M238.1 76.5L239.2 75.6M239.2 75.6L243.6 80.4M242.8 82.4L243.6 80.4M251.1 89.7L249.2 84.8M246.7 85.6L249.2 84.8M254.8 84.9L249.7 84.0M249.7 84.0L249.2 84.8M219.3 109.6L215.4 107.4M213.9 114.7L212.7 112.6M215.4 107.4L212.7 112.6M204.6 115.6L207.2 111.5M204.6 115.6L209.9 119.1M212.7 112.6L207.2 111.5M224.2 103.5L222.1 98.9M225.2 97.1L227.4 97.7M229.5 103.2L229.9 101.4M227.4 97.7L229.9 101.4M240.7 97.2L240.3 95.2M240.7 97.2L237.2 100.8M240.3 95.2L234.4 95.1M237.2 100.8L233.8 98.9M233.8 98.9L234.4 95.1M243.6 99.8L240.7 97.2M241.9 92.3L240.3 95.2M238.2 103.9L237.2 100.8M229.9 101.4L233.8 98.9M220.0 104.0L218.3 103.4M220.1 98.6L218.3 100.2M218.3 100.2L218.3 103.4M215.4 107.4L215.2 106.8M218.3 103.4L215.2 106.8M211.1 105.5L207.0 110.4M211.1 105.5L213.3 105.6M207.2 111.5L207.0 110.4M213.3 105.6L215.2 106.8M217.9 94.0L215.2 95.6M218.3 100.2L213.9 99.1M215.2 95.6L213.9 99.1M213.3 105.6L213.3 99.2M213.3 99.2L213.9 99.1M215.4 90.4L211.5 90.7M215.2 95.6L210.7 92.5M210.7 92.5L211.5 90.7M210.4 85.3L210.1 87.6M210.1 87.6L211.5 90.7M261.5 125.0L263.0 122.0M262.7 106.6L262.2 109.6M262.2 109.6L267.0 114.2M255.4 110.4L259.6 112.1M262.2 109.6L259.6 112.1M190.9 116.9L195.1 122.0M195.1 122.0L191.0 125.4M201.9 121.4L199.6 122.5M201.9 121.4L204.4 115.7M196.5 116.0L198.3 121.8M196.5 116.0L203.0 115.0M199.6 122.5L198.3 121.8M204.4 115.7L203.0 115.0M204.7 123.0L201.9 121.4M199.2 127.1L199.6 122.5M204.6 115.6L204.4 115.7M193.9 114.0L196.5 116.0M195.1 122.0L198.3 121.8M198.0 108.7L203.0 115.0M204.7 107.9L207.0 110.4M204.7 107.9L198.0 108.6M200.2 61.4L205.3 63.2M200.2 61.4L197.4 65.1M197.4 65.1L197.2 67.8M204.5 68.0L197.2 67.8M197.2 67.8L197.2 67.8M188.8 98.2L185.5 98.4M188.8 98.2L192.3 95.0M192.3 95.0L187.7 92.9M187.7 92.9L184.8 97.2M192.8 102.2L188.8 98.2M187.3 105.3L185.5 98.4M196.4 95.6L194.0 94.5M194.0 94.5L192.3 95.0M192.2 89.5L194.0 94.5M187.4 91.2L187.7 92.9M200.2 61.4L199.9 59.4M206.0 57.7L204.8 56.3M206.0 57.7L205.5 63.1M199.9 59.4L204.8 56.3M210.7 47.7L207.6 41.8M210.7 47.7L214.7 46.9M217.8 48.4L219.9 47.2M217.8 48.4L214.7 46.9M206.0 57.7L211.3 58.5M212.0 59.4L211.3 62.9M212.0 59.4L211.9 58.8M211.9 58.8L211.3 58.5M204.8 56.3L204.9 53.8M211.3 58.5L207.8 53.1M204.9 53.8L207.8 53.1M214.0 54.5L211.9 58.8M214.0 54.5L209.9 51.7M207.8 53.1L209.9 51.7M217.2 53.0L217.8 48.4M217.2 53.0L214.0 54.5M210.7 47.7L210.1 48.4M210.1 48.4L209.9 51.7M206.3 73.4L212.8 73.0M206.3 73.4L205.8 69.6M206.1 69.5L213.9 67.9M212.8 73.0L213.9 67.9M225.8 53.0L222.0 56.0M225.8 53.0L227.3 53.3M228.1 59.2L224.8 60.6M224.8 60.6L222.0 56.0M212.0 59.4L218.0 60.0M217.2 53.0L219.8 55.7M218.0 60.0L219.8 55.7M224.2 49.7L221.0 46.9M224.2 49.7L225.8 53.0M219.8 55.7L222.0 56.0M243.0 122.0L244.1 119.5M243.0 122.0L244.9 126.4M244.1 119.5L249.4 122.3M249.4 122.3L245.3 126.5M237.6 122.7L243.0 122.0M244.1 117.7L244.1 119.5M250.4 117.5L252.2 121.7M252.2 121.7L249.4 122.3M254.0 122.6L252.2 121.7M254.0 122.6L254.3 123.5M256.1 76.4L252.1 72.0M256.1 76.4L261.0 73.4M252.1 72.0L252.6 70.6M252.6 70.6L258.1 69.5M258.1 69.5L260.6 71.8M261.0 73.4L260.6 71.8M229.8 46.7L230.6 47.2M230.6 47.2L233.3 46.6M224.2 49.7L229.8 46.7M229.5 52.6L230.6 47.2M232.0 53.9L235.2 51.9M235.8 49.0L233.3 46.6M240.7 46.8L239.6 48.5M232.2 78.2L230.7 72.8M227.4 79.1L226.2 74.8M226.2 74.8L230.7 72.8M238.1 76.5L231.1 71.6M239.2 75.6L240.0 73.9M240.0 73.9L232.6 68.0M232.6 68.0L231.5 68.9M231.5 68.9L231.1 71.6M230.7 72.8L231.1 71.6M233.2 67.2L238.5 66.2M233.2 67.2L237.2 59.0M237.2 59.0L237.6 59.0M237.6 59.0L240.0 64.8M238.5 66.2L240.0 64.8M241.5 72.8L240.0 73.9M241.5 72.8L238.5 66.2M232.7 67.5L233.2 67.2M232.7 67.5L232.6 68.0M231.1 64.3L230.7 59.8M231.1 64.3L232.7 67.5M233.2 58.0L237.2 59.0M238.6 54.8L237.9 58.7M237.9 58.7L237.6 59.0M252.1 72.0L249.8 73.3M252.6 70.6L251.6 68.2M244.8 69.3L249.8 73.3M244.8 69.3L245.1 68.5M251.6 68.2L245.1 68.5M241.5 72.8L241.6 72.7M244.8 69.3L241.6 72.7M240.0 64.8L244.6 65.2M245.1 68.5L244.6 65.2M252.8 61.0L257.8 59.8M252.8 61.0L252.8 64.8M252.8 64.8L257.6 66.0M257.6 66.0L260.8 61.7M257.8 59.8L260.4 60.8M260.8 61.7L260.4 60.8M258.1 69.5L257.6 66.0M251.6 68.2L252.2 65.4M252.2 65.4L252.8 64.8M264.3 63.8L260.8 61.7M264.3 66.5L260.6 71.8M246.4 75.9L249.6 74.0M246.4 75.9L246.5 79.4M249.6 74.0L251.7 79.3M246.5 79.4L249.6 80.9M251.7 79.3L249.6 80.9M241.6 72.7L246.4 75.9M249.8 73.3L249.6 74.0M243.6 80.4L246.5 79.4M255.2 78.7L251.7 79.3M255.2 78.7L256.1 76.4M249.7 84.0L249.6 80.9M255.7 79.5L255.2 78.7M230.5 92.8L234.2 94.8M230.5 92.8L229.4 90.3M234.2 94.8L236.5 90.1M236.5 90.1L232.2 87.0M229.4 90.3L232.2 87.0M227.4 97.7L230.5 92.8M234.4 95.1L234.2 94.8M225.8 89.9L229.4 90.3M240.9 89.4L236.5 90.1M232.4 85.6L232.2 87.0M259.4 114.4L263.7 116.5M259.4 114.4L257.5 116.8M257.5 118.4L257.5 116.8M257.5 118.4L262.2 120.5M262.2 120.5L263.7 116.5M259.6 112.1L259.4 114.4M252.7 114.0L257.5 116.8M254.0 122.6L257.5 118.4M263.0 122.0L262.2 120.5M197.9 75.7L201.5 74.6M197.9 75.7L196.2 79.2M196.2 79.2L199.0 81.4M203.1 75.2L202.2 80.0M203.1 75.2L201.5 74.6M202.2 80.0L200.7 81.3M200.7 81.3L199.0 81.4M194.1 72.1L197.9 75.7M194.1 72.1L195.6 68.6M195.6 68.6L197.2 67.8M197.2 67.8L201.5 74.6M191.8 79.2L196.2 79.2M191.9 74.0L194.1 72.1M196.0 86.1L199.0 81.4M206.2 73.7L209.1 79.7M206.2 73.7L203.1 75.2M205.3 81.2L202.2 80.0M206.2 73.7L206.3 73.4M202.7 86.7L200.7 81.3M202.7 86.7L205.9 84.1M187.0 70.6L187.2 68.9M187.2 68.9L183.6 65.9M195.6 68.6L190.3 66.6M187.2 68.9L190.3 66.6M210.1 48.4L204.2 48.1M203.7 44.0L204.2 48.1M204.0 52.8L204.9 53.8M204.0 52.8L203.9 48.8M203.9 48.8L204.2 48.1M199.9 59.4L196.7 56.2M204.0 52.8L200.5 53.1M200.5 53.1L196.7 56.2M203.9 48.8L198.2 48.8M200.5 53.1L198.2 48.8M215.1 78.4L215.3 76.6M222.6 80.7L222.0 74.5M215.3 76.6L222.0 74.5M212.8 73.0L214.8 75.3M215.3 76.6L214.8 75.3M226.2 74.8L223.0 73.2M222.0 74.5L223.0 73.2M211.8 63.9L213.4 65.5M218.0 60.0L218.8 61.9M213.4 65.5L218.8 61.9M213.9 67.9L214.1 67.5M213.4 65.5L214.1 67.5M214.8 75.3L220.9 68.6M214.1 67.5L220.9 68.6M261.0 73.4L263.3 74.9M260.8 82.4L263.9 75.9M260.4 60.8L262.3 56.6M263.2 56.3L262.3 56.6M248.6 60.2L243.5 58.0M248.6 60.2L245.9 64.0M245.9 64.0L244.9 64.6M244.9 64.6L242.5 59.0M242.5 59.0L243.5 58.0M250.5 58.9L248.6 60.2M250.5 58.9L252.8 61.0M252.2 65.4L245.9 64.0M244.6 65.2L244.9 64.6M237.9 58.7L242.5 59.0M250.5 58.9L250.5 55.8M243.5 58.0L245.4 53.8M250.5 55.8L245.4 53.8M250.8 44.1L252.7 48.9M245.2 46.2L246.5 48.5M252.7 48.9L246.5 48.5M241.2 52.6L245.2 53.4M246.5 48.5L245.2 53.4M245.2 53.4L245.4 53.8M209.2 98.0L208.8 97.5M209.2 98.0L208.0 102.7M208.8 97.5L204.2 99.2M208.0 102.7L205.1 104.0M204.2 99.2L202.3 102.2M202.3 102.2L205.1 104.0M211.1 105.5L208.0 102.7M213.3 99.2L209.2 98.0M204.7 107.9L205.1 104.0M201.2 102.2L202.3 102.2M208.9 94.5L203.1 89.0M208.9 94.5L208.5 95.7M208.5 95.7L199.9 94.6M200.7 89.9L199.3 94.3M200.7 89.9L202.3 88.8M199.3 94.3L199.9 94.6M202.3 88.8L203.1 89.0M210.7 92.5L208.9 94.5M210.1 87.6L203.1 89.0M208.8 97.5L208.5 95.7M204.2 99.2L199.9 94.6M196.0 86.5L200.7 89.9M198.1 95.2L199.3 94.3M202.7 86.7L202.3 88.8M184.8 46.1L187.6 47.3M185.3 55.9L189.1 51.7M187.6 47.3L189.1 51.7M188.1 62.3L189.9 64.0M188.1 62.3L186.9 58.1M186.9 58.1L188.5 57.9M188.5 57.9L193.4 60.3M189.9 64.0L193.5 61.5M193.5 61.5L193.4 60.3M190.3 66.6L189.9 64.0M183.6 65.9L188.1 62.3M185.7 57.4L186.9 58.1M194.4 53.9L193.9 52.4M194.4 53.9L188.5 57.9M189.1 51.7L193.9 52.4M194.4 53.9L196.7 56.2M196.7 56.2L193.4 60.3M197.4 65.1L193.5 61.5M196.7 56.2L196.7 56.2M222.5 69.1L221.9 68.5M222.5 69.1L227.5 68.5M221.9 68.5L222.0 64.1M227.5 68.5L226.8 63.4M222.0 64.1L224.4 61.7M226.8 63.4L224.4 61.7M223.0 73.2L222.5 69.1M220.9 68.6L221.9 68.5M231.5 68.9L227.5 68.5M218.8 61.9L222.0 64.1M231.1 64.3L226.8 63.4M224.8 60.6L224.4 61.7M261.0 48.7L261.0 54.7M261.0 48.7L255.9 48.5M261.0 54.7L255.1 54.1M255.9 48.5L254.1 49.7M254.1 49.7L253.7 53.0M255.1 54.1L253.7 53.0M262.3 56.6L261.0 54.7M264.0 47.0L261.0 48.7M256.0 41.4L255.9 48.5M257.8 59.8L255.1 54.1M252.7 48.9L254.1 49.7M250.5 55.8L253.7 53.0M197.7 48.5L195.0 49.3M197.7 48.5L199.1 44.6M195.0 49.3L192.4 45.9M198.2 48.8L197.7 48.5M193.9 52.4L195.0 49.3M187.6 47.3L192.4 45.9"/>
<path stroke="#6a4c98" stroke-width="0.8" stroke-linecap="round" d="M217.8 86.1h0M231.4 58.2h0M247.1 74.4h0M216.2 53.8h0M223.4 107.8h0M248.4 94.2h0M224.7 64.1h0M251.2 107.3h0M234.0 117.0h0M197.7 73.0h0M202.2 67.7h0M238.7 64.9h0M201.4 107.0h0M200.3 81.5h0M252.6 77.4h0M212.5 67.4h0M232.8 61.4h0M227.8 61.6h0M208.7 79.2h0"/>
<path stroke="#6a4c98" stroke-width="1.2" stroke-linecap="round" d="M210.3 90.1h0M207.4 112.9h0M221.8 57.4h0M256.9 109.2h0M230.0 66.1h0M245.5 115.6h0M228.1 109.5h0M238.0 57.9h0M205.7 54.5h0M253.5 96.7h0M198.0 73.4h0M216.9 76.7h0M251.8 110.9h0M232.8 81.9h0M239.9 63.9h0M192.7 89.7h0M213.2 63.1h0"/>
<path stroke="#6a4c98" stroke-width="1.6" stroke-linecap="round" d="M215.9 59.0h0M230.7 74.8h0M219.3 114.5h0M228.5 94.3h0M215.7 67.5h0M253.6 55.9h0M208.2 85.9h0M230.2 81.1h0M253.1 109.2h0"/>
</g>
<path d="M242 52Q247 82 229 108M203 78Q212 70 222 66M196 98Q205 92 210 84" fill="none" stroke="#7a5cab" stroke-width="1.1" opacity="0.8"/>
<clipPath id="c4"><rect x="191" y="120" width="66.5" height="66"/></clipPath>
<g clip-path="url(#c4)">
<rect x="191" y="120" width="66.5" height="66" fill="#b7b0d3"/>
<path fill="none" stroke="#8670b4" stroke-width="0.6" stroke-linecap="round" d="M220.6 193.5L224.9 190.8M224.9 190.8L220.1 188.9M219.5 191.3L220.1 188.9M191.2 137.0L188.9 139.2M191.2 137.0L191.8 136.9M191.8 136.9L193.7 140.4M188.9 139.2L188.7 141.4M192.8 141.6L193.7 140.4M192.8 141.6L189.0 141.6M189.0 141.6L188.7 141.4M193.7 145.1L195.9 145.0M193.7 145.1L192.8 141.6M197.0 142.8L195.9 145.0M197.0 142.8L197.1 140.4M197.1 140.4L193.7 140.4M260.2 190.6L261.6 188.9M262.9 188.8L261.6 188.9M222.4 164.8L224.3 165.8M222.4 164.8L223.0 161.9M225.8 162.2L223.9 161.2M225.8 162.2L225.9 165.1M225.9 165.1L224.3 165.8M223.0 161.9L223.9 161.2M213.2 201.7L210.1 190.7M215.5 191.4L214.8 190.0M210.1 190.7L211.8 189.3M211.8 189.3L214.8 190.0M219.9 187.2L220.1 188.9M219.9 187.2L216.2 187.9M216.2 187.9L214.8 190.0M189.9 162.2L191.6 160.8M189.9 162.2L186.7 159.5M186.7 159.5L187.4 156.8M191.8 159.0L187.6 156.8M191.8 159.0L191.6 160.8M187.6 156.8L187.4 156.8M184.1 160.9L186.7 159.5M184.1 160.9L186.2 164.1M186.2 164.1L189.3 163.8M189.3 163.8L189.9 162.2M185.6 155.7L187.4 156.8M185.4 184.9L186.8 186.1M179.1 187.3L187.0 190.4M186.8 186.1L187.0 190.4M187.0 190.5L187.0 190.4M189.5 171.2L191.9 174.2M189.5 171.2L186.7 174.8M186.7 174.8L188.5 176.5M188.5 176.5L191.9 174.2M187.2 190.6L187.0 190.5M187.2 190.6L193.8 207.4M204.6 150.2L204.4 149.8M204.6 150.2L203.8 152.8M203.8 152.8L202.6 153.4M204.4 149.8L202.4 148.2M199.6 152.8L202.6 153.4M199.6 152.8L199.3 149.1M202.4 148.2L199.3 149.1M188.1 138.7L184.2 138.5M188.1 138.7L186.4 135.7M186.4 135.7L184.9 134.5M191.2 137.0L190.2 136.2M188.9 139.2L188.1 138.7M190.2 136.2L186.4 135.7M187.9 132.5L186.9 132.5M187.9 132.5L190.2 136.2M186.9 132.5L184.9 134.5M185.1 127.2L186.9 132.5M188.7 141.4L187.6 142.1M187.6 142.1L184.0 141.0M191.8 136.9L192.9 135.8M187.9 132.5L191.6 130.7M192.9 135.8L193.0 131.7M191.6 130.7L193.0 131.7M185.1 127.0L186.4 123.1M174.5 120.9L186.1 121.6M186.4 123.1L186.1 121.6M185.8 118.5L186.3 121.2M186.1 121.6L186.3 121.2M251.4 169.8L251.0 171.7M251.4 169.8L255.9 168.8M255.9 168.8L256.4 170.3M251.0 171.7L254.1 173.4M256.4 170.3L254.1 173.4M262.8 183.3L261.5 183.4M261.6 188.9L259.2 186.9M261.5 183.4L259.2 186.9M260.2 190.6L256.8 191.4M259.2 186.9L257.9 186.9M257.9 186.9L256.8 191.4M249.8 167.8L251.4 169.8M249.8 167.8L249.9 165.4M255.9 168.8L256.0 168.6M256.0 168.6L254.3 165.4M254.3 165.4L251.9 163.6M249.9 165.4L251.9 163.6M257.5 162.0L256.1 164.2M257.5 162.0L254.6 160.6M254.6 160.6L252.0 163.3M256.1 164.2L254.3 165.4M251.9 163.6L252.0 163.3M225.8 162.2L228.5 161.3M225.9 165.1L228.0 165.7M228.5 161.3L229.4 162.2M229.4 162.2L229.5 164.4M228.0 165.7L229.5 164.4M205.4 163.3L206.8 163.7M205.4 163.3L203.5 158.9M203.5 158.9L206.3 157.6M206.8 163.7L208.4 159.3M208.4 159.3L206.3 157.6M294.1 136.2L261.3 131.7M266.8 127.2L261.8 129.1M261.8 129.1L261.3 131.7M260.6 132.8L261.3 131.7M260.6 132.8L260.5 134.6M260.5 134.6L284.8 136.8M259.6 139.1L262.8 138.7M259.6 139.1L261.5 142.1M262.4 142.0L261.5 142.1M262.4 142.0L264.9 140.0M263.3 145.8L262.4 142.0M260.5 134.6L260.5 134.7M260.5 134.7L262.8 138.7M260.5 134.7L259.6 135.2M259.6 139.1L259.0 138.8M259.0 138.8L259.6 135.2M211.7 187.5L215.1 186.1M211.7 187.5L210.3 184.5M210.3 184.5L212.1 182.4M212.1 182.4L215.0 183.6M215.0 183.6L215.1 186.1M211.8 189.3L211.7 187.5M216.2 187.9L215.1 186.1M215.3 174.3L211.7 174.2M215.3 174.3L215.3 178.1M211.7 174.2L210.3 177.7M215.3 178.1L214.9 178.5M214.9 178.5L211.8 179.9M211.8 179.9L210.3 178.4M210.3 177.7L210.3 178.4M206.2 181.5L210.2 184.5M206.2 181.5L208.1 179.0M210.2 184.5L210.3 184.5M208.1 179.0L210.3 178.4M212.1 182.4L211.8 179.9M224.3 169.4L224.3 165.8M224.3 169.4L223.1 170.4M222.4 164.8L219.9 165.5M219.9 165.5L220.6 169.0M223.1 170.4L222.2 170.4M220.6 169.0L222.2 170.4M216.4 166.3L212.6 167.4M216.4 166.3L217.1 170.0M212.6 167.4L212.2 168.2M217.1 170.0L216.3 171.2M216.3 171.2L215.7 170.9M212.2 168.2L215.7 170.9M208.1 179.0L204.9 177.3M206.3 174.0L204.9 177.3M206.3 174.0L210.3 177.7M204.9 177.3L204.9 177.3M206.3 174.0L206.1 172.7M202.1 175.3L204.9 177.3M202.1 175.3L201.6 174.5M206.1 172.7L201.6 174.5M197.6 157.1L198.3 157.5M197.6 157.1L197.8 154.1M197.8 154.1L199.6 152.8M202.6 153.4L201.9 157.8M198.3 157.5L201.9 157.8M203.5 158.9L203.1 158.9M203.8 152.8L206.8 155.2M206.8 155.2L206.3 157.6M203.1 158.9L201.9 157.8M186.2 164.1L185.2 165.4M190.0 165.3L189.3 163.8M190.0 165.3L189.0 168.4M189.0 168.4L188.6 169.0M188.6 169.0L185.9 168.8M187.6 142.1L186.4 145.9M182.5 146.2L186.4 145.9M193.7 145.1L192.8 145.7M189.0 141.6L191.4 145.7M192.8 145.7L191.4 145.7M189.6 170.7L193.6 170.4M189.6 170.7L188.6 169.0M189.0 168.4L193.9 168.1M193.9 168.1L193.6 170.4M190.0 165.3L194.0 166.3M194.0 166.3L194.4 167.0M193.9 168.1L194.4 167.0M189.5 171.2L189.6 170.7M193.3 174.3L191.9 174.2M193.3 174.3L194.7 171.9M194.7 171.9L193.6 170.4M194.0 166.3L194.8 163.8M191.6 160.8L193.0 161.5M193.0 161.5L194.8 163.8M193.1 157.2L191.8 159.0M193.1 157.2L196.8 157.5M196.8 157.5L196.0 160.2M193.0 161.5L196.0 160.2M186.8 186.1L188.6 185.8M185.6 183.4L187.1 181.6M187.1 181.6L190.2 183.2M188.6 185.8L190.2 183.2M187.1 181.6L187.2 180.3M187.2 180.3L189.0 178.0M189.0 178.0L191.8 179.2M191.8 179.2L192.6 182.6M190.2 183.2L192.6 182.6M187.2 190.6L189.9 189.5M188.6 185.8L190.8 187.2M189.9 189.5L190.8 187.2M192.6 182.6L193.0 183.0M193.0 183.0L191.7 186.8M191.7 186.8L190.8 187.2M187.2 180.3L184.6 179.2M193.9 175.8L193.1 178.1M193.9 175.8L198.1 176.3M193.1 178.1L195.8 179.0M195.8 179.0L198.2 177.1M198.1 176.3L198.2 177.1M188.5 176.5L189.0 178.0M193.3 174.3L193.9 175.8M191.8 179.2L193.1 178.1M210.1 190.7L208.3 190.5M210.2 184.5L206.3 186.6M208.3 190.5L206.3 186.6M202.4 148.2L202.5 146.4M199.3 149.1L197.8 148.2M197.4 146.8L200.2 145.1M197.4 146.8L197.8 148.2M202.5 146.4L200.2 145.1M197.0 142.8L200.0 143.7M195.9 145.0L197.4 146.8M200.0 143.7L200.2 145.1M260.6 132.8L257.3 130.6M259.6 135.2L256.9 135.0M256.9 135.0L255.9 131.0M257.3 130.6L255.9 131.0M256.2 183.7L257.7 186.8M256.2 183.7L253.9 183.5M257.7 186.8L253.2 188.1M253.9 183.5L253.2 183.9M253.2 183.9L252.6 185.9M252.6 185.9L253.2 188.1M257.7 186.8L257.9 186.9M256.0 192.2L253.1 188.3M253.2 188.1L253.1 188.3M249.8 167.8L246.7 169.1M251.0 171.7L250.8 172.0M246.7 169.1L245.9 171.7M250.8 172.0L245.9 171.7M258.2 144.0L257.9 145.3M258.2 144.0L261.5 142.1M263.3 145.8L260.0 146.8M257.9 145.3L260.0 146.8M264.5 150.2L260.4 148.5M260.4 148.5L260.0 146.8M237.7 150.4L238.9 148.6M237.7 150.4L239.2 153.0M238.9 148.6L242.3 149.6M242.3 149.6L242.1 152.0M239.2 153.0L242.1 152.0M258.7 175.4L257.2 176.3M258.7 175.4L261.1 175.9M261.1 175.9L261.1 178.8M261.1 178.8L258.8 181.7M257.2 176.3L256.6 178.4M256.6 178.4L258.4 181.6M258.8 181.7L258.4 181.6M256.4 170.3L258.2 172.3M258.2 172.3L258.7 175.4M254.4 175.1L254.1 173.4M254.4 175.1L257.2 176.3M258.2 172.3L260.6 171.0M262.7 175.4L261.1 175.9M260.6 171.0L263.7 171.6M262.7 180.3L261.1 178.8M261.5 183.4L258.8 181.7M256.2 183.7L258.4 181.6M253.9 183.5L253.7 179.7M253.7 179.7L256.6 178.4M260.0 167.3L262.4 167.2M260.0 167.3L259.0 167.0M259.0 167.0L258.9 166.1M258.9 166.1L259.3 162.5M262.4 167.2L262.8 164.1M262.8 164.1L260.9 162.2M259.3 162.5L260.9 162.2M260.6 171.0L260.0 167.3M265.9 169.3L262.4 167.2M256.0 168.6L259.0 167.0M256.1 164.2L258.9 166.1M257.5 162.0L258.7 162.0M258.7 162.0L259.3 162.5M277.1 160.9L261.9 161.1M261.9 161.1L260.9 162.2M233.8 183.9L234.4 185.9M233.8 183.9L237.5 181.6M238.0 186.4L234.4 185.9M238.0 186.4L239.1 183.8M239.1 183.8L237.5 181.6M235.3 178.1L237.6 181.2M235.3 178.1L231.9 180.1M233.8 183.9L232.6 183.2M231.9 180.1L232.6 183.2M237.6 181.2L237.5 181.6M224.9 190.8L226.0 190.6M226.0 190.6L228.4 199.2M249.9 165.4L246.9 164.3M246.9 164.3L246.3 161.0M252.0 163.3L249.4 160.2M246.3 161.0L249.4 160.2M235.9 150.2L235.3 145.7M235.9 150.2L234.1 151.0M234.1 151.0L232.3 148.5M232.3 148.5L232.6 146.2M235.3 145.7L232.6 146.2M219.9 187.2L219.9 187.1M215.0 183.6L217.8 183.0M219.9 187.1L217.8 183.0M214.9 178.5L218.1 182.6M217.8 183.0L218.1 182.6M229.4 162.2L233.8 160.7M229.5 164.4L233.3 166.1M235.1 163.4L233.3 166.1M235.1 163.4L234.7 161.9M234.7 161.9L233.8 160.7M240.4 160.8L237.7 160.3M240.4 160.8L240.4 161.1M240.4 161.1L239.6 163.4M239.6 163.4L238.1 164.2M235.1 163.4L238.1 164.2M234.7 161.9L237.7 160.3M230.4 168.8L228.1 166.5M230.4 168.8L229.6 171.2M228.9 171.5L229.6 171.2M228.9 171.5L226.4 169.5M226.4 169.5L228.1 166.5M228.0 165.7L228.1 166.5M233.4 166.8L233.3 166.1M233.4 166.8L230.4 168.8M232.9 172.3L235.3 169.3M232.9 172.3L229.6 171.2M233.4 166.8L235.3 169.3M224.3 169.4L226.4 169.5M219.2 160.7L219.1 160.3M219.2 160.7L218.2 164.6M219.1 160.3L216.7 158.9M216.7 158.9L214.9 162.8M214.9 162.8L217.6 164.7M218.2 164.6L217.6 164.7M224.3 158.2L223.9 161.2M224.3 158.2L222.5 156.9M222.5 156.9L221.9 156.9M223.0 161.9L219.2 160.7M221.9 156.9L219.1 160.3M219.9 165.5L218.2 164.6M221.9 156.9L219.5 155.1M219.5 155.1L216.5 158.7M216.5 158.7L216.7 158.9M216.4 166.3L217.6 164.7M212.6 167.4L211.9 163.9M211.9 163.9L213.5 162.7M213.5 162.7L214.9 162.8M217.1 170.0L220.6 169.0M258.2 144.0L256.6 140.4M259.0 138.8L256.6 140.3M256.6 140.4L256.6 140.3M215.3 174.3L216.4 173.5M211.7 174.2L210.9 172.5M216.3 171.2L216.6 172.9M215.7 170.9L210.9 172.5M216.4 173.5L216.6 172.9M222.2 170.4L220.7 172.6M216.6 172.9L220.7 172.6M210.4 169.3L209.8 171.0M210.4 169.3L207.4 166.1M209.8 171.0L206.3 172.2M206.3 172.2L205.2 168.0M207.4 166.1L205.2 168.0M212.2 168.2L210.4 169.3M210.9 172.5L209.8 171.0M211.9 163.9L210.7 163.5M210.7 163.5L207.2 164.2M207.2 164.2L207.4 166.1M206.2 172.2L206.1 172.7M206.2 172.2L206.3 172.2M198.3 157.5L199.2 161.8M203.1 158.9L200.3 162.4M199.2 161.8L200.3 162.4M196.8 157.5L197.6 157.1M196.0 160.2L197.1 162.3M199.2 161.8L197.1 162.3M194.8 163.8L196.4 163.2M197.1 162.3L196.4 163.2M185.1 149.9L187.0 149.6M186.4 145.9L188.3 147.7M188.3 147.7L187.0 149.6M191.4 145.7L188.5 147.7M188.3 147.7L188.5 147.7M185.4 153.2L187.1 152.2M187.0 149.6L187.1 152.2M194.4 167.0L198.0 167.5M194.7 171.9L197.7 172.0M198.0 167.5L197.7 172.0M206.2 172.2L202.0 170.2M201.6 174.5L199.4 173.6M199.4 173.6L199.3 173.3M202.0 170.2L199.3 173.3M199.4 173.6L198.1 176.3M199.3 173.3L197.7 172.0M184.2 176.3L186.5 174.8M184.5 172.1L186.5 174.8M186.7 174.8L186.5 174.8M208.3 190.5L205.8 192.5M194.4 124.2L194.4 126.0M194.4 124.2L192.0 123.2M194.4 126.0L191.3 129.6M191.2 123.9L192.0 123.2M191.2 123.9L189.5 127.3M189.5 127.3L191.3 129.6M197.6 120.1L196.7 118.9M197.6 120.1L194.7 124.1M194.7 124.1L194.4 124.2M191.7 121.8L196.7 118.9M191.7 121.8L192.0 123.2M191.6 130.7L191.3 129.6M193.0 131.7L194.9 131.3M194.9 131.3L195.6 127.8M195.6 127.8L194.4 126.0M185.1 127.1L189.5 127.3M186.4 123.1L191.2 123.9M196.4 131.6L194.9 131.3M196.4 131.6L199.1 129.7M195.6 127.8L198.1 127.6M198.1 127.6L199.1 129.7M194.7 124.1L198.5 125.4M198.1 127.6L198.5 125.4M199.8 115.0L202.0 117.0M199.8 115.0L201.0 113.1M202.0 117.0L203.8 115.5M203.8 115.5L203.4 113.6M185.8 118.5L187.6 116.6M187.6 116.6L187.5 113.9M199.8 115.0L198.4 114.9M238.8 147.5L241.5 145.5M238.8 147.5L236.0 145.2M236.1 144.8L236.0 145.2M236.1 144.8L239.6 143.1M239.6 143.1L241.5 145.5M238.9 148.6L238.8 147.5M242.3 145.7L241.5 145.5M242.3 145.7L243.3 148.4M243.3 148.4L242.3 149.6M237.7 150.4L235.9 150.2M235.3 145.7L236.0 145.2M244.3 144.0L244.5 142.0M244.3 144.0L242.3 145.7M244.5 142.0L242.6 140.9M239.8 141.7L242.6 140.9M239.8 141.7L239.6 143.1M246.1 140.9L244.5 142.0M246.1 140.9L246.7 139.7M242.6 140.9L242.3 137.0M242.3 137.0L245.1 137.8M246.7 139.7L245.1 137.8M265.8 119.0L261.2 115.9M261.9 113.7L261.2 115.9M259.8 119.2L263.1 121.2M259.8 119.2L259.7 119.0M259.7 119.0L260.1 117.0M261.2 115.9L260.1 117.0M263.1 123.3L261.0 124.3M261.8 129.1L259.8 127.7M261.0 124.3L259.8 127.7M257.3 130.6L259.0 127.8M259.8 127.7L259.0 127.8M260.1 117.0L256.0 114.4M253.2 183.9L249.1 182.2M252.6 185.9L247.2 186.5M247.2 186.5L247.2 183.5M249.1 182.2L247.2 183.5M250.4 191.4L251.2 189.3M251.2 189.3L247.1 186.9M247.7 192.3L245.7 188.9M247.1 186.9L245.8 188.3M245.8 188.3L245.7 188.9M253.1 188.3L251.2 189.3M247.2 186.5L247.1 186.9M242.4 191.5L245.7 188.9M243.4 182.2L241.8 184.2M243.4 182.2L244.9 182.2M241.8 184.2L242.2 186.5M242.2 186.5L245.8 188.3M244.9 182.2L247.2 183.5M235.3 178.1L235.6 175.8M236.3 175.5L235.6 175.8M236.3 175.5L240.1 176.6M240.1 176.6L240.2 176.7M237.6 181.2L240.5 179.2M240.2 176.7L240.5 179.2M243.4 182.2L241.8 179.9M241.8 184.2L239.1 183.8M240.5 179.2L241.8 179.9M243.4 163.7L241.4 164.6M243.4 163.7L245.2 165.4M241.4 164.6L242.2 167.6M242.2 167.6L244.6 166.8M245.2 165.4L244.6 166.8M240.4 161.1L243.5 162.2M239.6 163.4L241.4 164.6M243.5 162.2L243.4 163.7M246.9 164.3L245.2 165.4M243.5 162.2L245.7 160.6M245.7 160.6L246.3 161.0M246.7 169.1L244.6 166.8M242.1 167.8L242.2 167.6M242.1 167.8L244.4 172.4M244.4 172.4L244.9 172.6M245.9 171.7L244.9 172.6M235.8 169.4L238.8 168.7M235.8 169.4L237.2 173.4M240.2 172.2L239.1 168.8M240.2 172.2L237.2 173.4M239.1 168.8L238.8 168.7M238.1 164.2L238.8 168.7M235.3 169.3L235.8 169.4M232.9 172.3L233.5 174.6M233.5 174.6L235.6 175.8M236.3 175.5L237.2 173.4M242.1 167.8L239.1 168.8M244.4 172.4L240.9 172.7M240.9 172.7L240.2 172.2M240.9 172.7L240.1 176.6M261.9 158.6L260.5 157.4M261.9 158.6L267.5 157.2M260.5 157.4L261.8 153.7M262.6 153.6L261.8 153.7M258.9 157.9L260.5 157.4M258.9 157.9L258.7 162.0M261.9 161.1L261.9 158.6M259.0 152.3L260.4 148.5M259.0 152.3L261.8 153.7M254.6 160.6L254.5 157.6M258.9 157.9L256.3 156.8M254.5 157.6L256.3 156.8M240.0 190.7L240.7 190.5M240.0 190.7L237.6 190.1M240.7 190.5L241.1 187.4M237.6 190.1L238.5 187.1M238.5 187.1L241.1 187.4M236.6 202.2L240.0 190.7M242.4 191.5L240.7 190.5M235.5 191.0L237.6 190.1M242.2 186.5L241.1 187.4M238.0 186.4L238.5 187.1M234.4 185.9L233.4 189.4M235.5 191.0L233.4 189.4M232.7 189.5L230.0 184.9M232.7 189.5L232.0 189.7M232.0 189.7L229.2 189.1M229.2 189.1L228.9 186.1M230.0 184.9L228.9 186.1M232.6 183.2L230.4 184.1M230.4 184.1L230.0 184.9M233.4 189.4L232.7 189.5M228.4 199.2L232.0 189.7M226.0 190.6L226.0 190.4M226.0 190.4L229.2 189.1M249.4 160.2L250.1 157.9M254.5 157.6L252.9 156.8M250.1 157.9L252.9 156.8M231.9 180.1L231.0 179.5M230.4 184.1L227.2 182.2M231.0 179.5L227.2 182.2M233.5 174.6L231.6 175.8M231.6 175.8L230.6 178.8M231.0 179.5L230.6 178.8M223.1 170.4L224.8 173.4M228.9 171.5L228.8 171.8M224.8 173.4L228.8 171.8M231.6 175.8L228.7 174.6M228.8 171.8L228.7 174.6M203.8 115.5L205.7 115.7M205.7 115.7L207.7 114.7M204.4 149.8L206.2 146.4M202.5 146.4L204.1 144.1M204.1 144.1L206.2 146.4M204.6 150.2L207.9 150.0M207.9 150.0L209.2 147.0M209.2 147.0L208.7 146.4M206.2 146.4L208.7 146.4M213.2 148.9L217.1 150.3M213.2 148.9L212.7 147.2M217.1 150.3L218.9 146.1M218.9 146.1L215.5 144.9M212.7 147.2L212.9 146.7M215.5 144.9L212.9 146.7M230.8 113.5L227.6 116.9M226.2 116.4L227.5 116.9M226.2 116.4L227.0 113.3M227.6 116.9L227.5 116.9M235.6 153.7L234.7 157.2M235.6 153.7L239.1 153.4M239.1 153.4L239.2 156.2M239.2 156.2L237.1 157.1M237.1 157.1L234.7 157.2M239.2 153.0L239.1 153.4M234.1 151.0L233.9 151.5M233.9 151.5L235.6 153.7M240.4 160.8L241.3 157.8M241.3 157.8L239.2 156.2M237.7 160.3L237.1 157.1M233.8 160.7L233.6 157.7M233.6 157.7L234.7 157.2M233.2 157.4L232.0 153.0M233.2 157.4L228.1 157.6M228.0 157.5L228.1 157.6M228.0 157.5L227.8 154.1M232.0 153.0L228.7 152.3M227.8 154.1L228.7 152.3M233.9 151.5L232.0 153.0M233.6 157.7L233.2 157.4M228.5 161.3L228.1 157.6M224.3 158.2L228.0 157.5M223.8 153.9L222.5 156.9M223.8 153.9L227.8 154.1M232.3 148.5L228.1 150.4M228.1 150.4L228.7 152.3M219.2 154.4L217.1 153.0M219.2 154.4L221.1 152.7M221.1 152.7L221.0 150.6M221.0 150.6L217.2 150.8M217.2 150.8L217.1 153.0M223.6 153.2L221.1 152.7M223.6 153.2L223.8 153.9M219.5 155.1L219.2 154.4M213.5 162.7L212.9 160.1M216.5 158.7L214.0 157.3M214.0 157.3L212.9 160.1M210.7 163.5L210.3 160.6M212.9 160.1L210.3 160.6M207.2 164.2L206.8 163.7M208.4 159.3L208.8 159.3M210.3 160.6L208.8 159.3M214.0 157.3L213.8 157.0M208.8 159.3L211.2 157.2M211.2 157.2L213.8 157.0M206.8 155.2L208.4 154.4M211.2 157.2L208.4 154.4M251.5 141.0L254.6 138.9M251.5 141.0L248.8 138.9M248.8 138.9L249.4 136.4M249.4 136.4L252.2 134.9M252.2 134.9L254.4 136.5M254.4 136.5L254.6 138.9M256.6 140.4L253.0 144.1M256.6 140.3L254.6 138.9M251.5 142.1L253.0 144.1M251.5 142.1L251.5 141.0M246.1 140.9L248.9 143.8M246.7 139.7L248.8 138.9M248.9 143.8L251.5 142.1M256.9 135.0L254.4 136.5M252.0 132.4L252.2 134.9M252.0 132.4L255.5 130.9M255.9 131.0L255.5 130.9M239.8 141.7L238.6 140.1M242.3 137.0L242.1 136.7M242.1 136.7L238.6 140.1M248.6 132.0L247.7 135.1M248.6 132.0L246.8 130.6M246.8 130.6L244.2 133.0M244.2 133.0L246.6 135.0M246.6 135.0L247.7 135.1M251.8 132.2L252.0 132.4M251.8 132.2L248.6 132.0M249.4 136.4L247.7 135.1M251.8 132.2L251.2 129.2M247.1 128.3L246.8 130.6M247.1 128.3L247.7 127.9M251.2 129.2L247.7 127.9M243.0 133.1L244.2 133.0M243.0 133.1L242.0 136.3M245.1 137.8L246.6 135.0M242.1 136.7L242.0 136.3M240.6 120.9L242.4 124.1M240.6 120.9L242.5 119.2M242.5 119.2L245.6 119.8M245.6 119.8L244.7 123.3M244.7 123.3L242.6 124.1M242.6 124.1L242.4 124.1M239.2 120.5L238.5 117.8M239.2 120.5L240.6 120.9M238.5 117.8L240.9 115.1M243.1 115.8L240.9 115.1M243.1 115.8L242.5 119.2M248.8 123.8L249.0 124.0M248.8 123.8L244.7 123.3M247.1 128.3L245.1 127.7M247.7 127.9L249.0 124.0M245.1 127.7L242.6 124.1M236.2 116.3L238.5 117.8M236.2 116.3L236.0 114.0M240.9 115.1L239.6 112.9M190.3 153.7L190.1 153.1M190.3 153.7L192.3 154.8M190.1 153.1L190.9 150.7M192.3 154.8L195.4 152.4M190.9 150.7L193.6 149.9M195.4 152.4L194.9 150.5M194.9 150.5L193.6 149.9M187.6 156.8L190.3 153.7M187.1 152.2L190.1 153.1M193.1 157.2L192.3 154.8M188.5 147.7L190.9 150.7M197.8 154.1L195.4 152.4M192.8 145.7L193.6 149.9M197.8 148.2L194.9 150.5M203.0 167.7L201.7 164.9M203.0 167.7L201.9 169.8M201.9 169.8L198.1 167.4M201.7 164.9L201.3 164.8M201.3 164.8L199.0 166.2M199.0 166.2L198.1 167.4M205.4 163.3L201.7 164.9M205.2 168.0L203.0 167.7M202.0 170.2L201.9 169.8M198.0 167.5L198.1 167.4M200.3 162.4L201.3 164.8M196.4 163.2L199.0 166.2M202.3 222.8L201.8 190.4M205.8 192.5L203.1 190.2M201.8 190.4L203.1 190.2M206.3 186.6L205.4 186.4M203.1 190.2L205.4 186.4M193.4 191.3L193.9 190.3M193.9 190.3L199.2 190.2M194.2 203.5L199.2 190.2M189.9 189.5L193.4 191.3M191.7 186.8L194.2 188.6M194.2 188.6L193.9 190.3M199.6 189.6L201.8 190.4M199.6 189.6L199.2 190.2M197.6 120.1L199.6 120.5M196.7 118.9L196.6 118.7M202.0 117.0L201.8 119.5M196.6 118.7L198.4 114.9M199.6 120.5L201.8 119.5M192.5 115.9L190.1 118.3M192.5 115.9L193.9 116.5M193.9 116.5L194.5 117.5M194.5 117.5L191.3 120.9M190.1 118.3L190.5 120.2M190.5 120.2L191.3 120.9M191.7 114.3L192.5 115.9M187.6 116.6L190.1 118.3M195.5 114.4L193.9 116.5M196.6 118.7L194.5 117.5M191.7 121.8L191.3 120.9M186.3 121.2L190.5 120.2M251.2 129.2L252.4 127.8M249.0 124.0L251.1 124.3M251.1 124.3L252.4 127.8M255.5 130.9L254.6 127.8M259.0 127.8L256.1 125.9M256.1 125.9L254.6 127.8M254.6 127.8L252.4 127.8M259.7 119.0L256.6 118.4M256.0 114.4L255.6 115.2M256.6 118.4L255.6 115.2M244.9 182.2L245.8 179.1M241.8 179.9L244.8 177.4M245.8 179.1L244.8 177.4M240.2 176.7L245.0 175.6M244.8 177.4L245.0 175.6M244.9 172.6L245.5 174.8M245.5 174.8L245.0 175.6M256.3 156.8L257.6 152.8M252.9 156.8L252.6 155.1M252.6 155.1L254.4 152.5M254.4 152.5L257.6 152.8M259.0 152.3L258.1 152.4M258.1 152.4L257.6 152.8M243.3 148.4L247.6 149.0M242.1 152.0L243.7 153.0M243.7 153.0L247.6 149.1M247.6 149.0L247.6 149.1M244.3 144.0L247.9 146.4M247.6 149.0L247.9 146.4M248.9 143.8L248.2 146.1M247.9 146.4L248.2 146.1M226.0 190.4L225.1 187.7M228.9 186.1L227.6 185.8M227.6 185.8L225.1 187.7M219.9 187.1L223.2 185.7M223.2 185.7L225.1 187.7M248.2 153.7L248.2 156.3M248.2 153.7L244.1 153.9M248.2 156.3L244.4 157.8M244.1 153.9L243.6 157.3M243.6 157.3L244.4 157.8M250.1 157.9L248.2 156.3M252.6 155.1L249.3 152.0M249.3 152.0L248.2 153.7M243.7 153.0L244.1 153.9M249.3 152.0L249.4 150.7M249.4 150.7L247.6 149.1M245.7 160.6L244.4 157.8M241.3 157.8L243.6 157.3M215.3 178.1L219.0 178.1M218.1 182.6L220.1 180.7M220.1 180.7L219.0 178.1M216.4 173.5L219.4 176.7M220.7 172.6L221.3 175.5M221.3 175.5L219.4 176.7M219.0 178.1L219.4 176.7M230.6 178.8L226.6 177.5M228.7 174.6L226.4 176.8M226.6 177.5L226.4 176.8M224.8 173.4L224.7 175.5M226.4 176.8L224.7 175.5M221.3 175.5L222.6 175.9M224.7 175.5L222.6 175.9M192.9 135.8L196.5 136.6M196.4 131.6L197.7 133.8M197.7 133.8L196.5 136.6M197.1 140.4L197.7 139.7M197.7 139.7L197.7 138.4M196.5 136.6L197.7 138.4M200.0 143.7L201.8 141.9M204.1 144.1L204.2 143.7M204.2 143.7L201.8 141.9M197.7 139.7L201.5 140.9M201.8 141.9L201.5 140.9M197.7 133.8L200.8 134.0M197.7 138.4L201.6 135.9M200.8 134.0L201.6 135.9M203.1 138.7L201.5 140.9M203.1 138.7L202.4 136.3M202.4 136.3L201.6 135.9M210.7 134.3L211.4 130.9M210.7 134.3L209.4 134.5M208.8 127.6L210.1 128.1M208.8 127.6L207.1 128.1M209.4 134.5L207.1 131.5M211.4 130.9L210.1 128.1M207.1 128.1L207.1 131.5M207.3 135.8L205.2 135.0M207.3 135.8L209.4 134.5M205.2 135.0L204.8 132.9M207.1 131.5L204.8 132.9M212.0 135.4L215.2 135.3M212.0 135.4L211.4 138.9M211.4 138.9L214.5 139.6M216.0 135.8L215.2 135.3M216.0 135.8L216.8 138.9M216.8 138.9L214.5 139.6M210.7 134.3L212.0 135.4M215.6 131.8L215.2 135.3M215.6 131.8L215.3 130.7M211.4 130.9L215.3 130.7M215.6 131.8L219.0 132.1M219.0 132.1L219.4 134.4M219.4 134.4L216.0 135.8M214.3 154.8L214.1 155.2M214.3 154.8L212.0 151.1M214.1 155.2L209.0 153.6M212.0 151.1L209.4 151.8M209.4 151.8L209.0 153.6M217.1 153.0L214.3 154.8M213.8 157.0L214.1 155.2M213.2 148.9L212.0 151.1M217.1 150.3L217.2 150.8M208.4 154.4L209.0 153.6M207.9 150.0L209.4 151.8M209.2 147.0L212.7 147.2M236.1 144.8L234.6 140.3M238.6 140.1L236.5 139.2M236.5 139.2L234.6 140.3M232.6 146.2L232.3 146.0M232.3 146.0L231.4 143.6M231.4 143.6L234.5 140.3M234.6 140.3L234.5 140.3M243.0 133.1L242.1 132.1M245.1 127.7L242.4 129.6M242.1 132.1L242.4 129.6M242.4 124.1L240.0 126.5M242.4 129.6L240.0 126.5M232.0 114.0L232.3 117.1M236.2 116.3L234.9 117.5M234.9 117.5L232.3 117.1M227.6 116.9L230.6 119.0M232.3 117.1L230.6 119.0M227.5 116.9L226.8 120.9M226.8 120.9L228.6 122.5M228.6 122.5L230.7 119.2M230.6 119.0L230.7 119.2M239.2 120.5L236.6 121.7M234.9 117.5L234.9 120.8M236.6 121.7L234.9 120.8M239.9 126.5L240.0 126.5M239.9 126.5L236.3 123.9M236.6 121.7L236.3 123.9M230.7 119.2L233.2 121.0M233.2 121.0L234.9 120.8M206.2 181.5L205.4 181.8M205.4 186.4L205.1 186.1M205.4 181.8L205.1 186.1M194.2 188.6L196.5 186.5M199.6 189.6L199.3 188.7M196.5 186.5L199.3 188.7M193.0 183.0L196.1 183.5M196.5 186.5L196.1 183.5M205.1 186.1L201.8 185.2M199.3 188.7L201.8 185.2M195.8 179.0L196.4 183.3M196.4 183.3L196.1 183.5M198.5 125.4L199.6 124.8M199.6 120.5L199.9 124.1M199.6 124.8L199.9 124.1M254.0 120.4L254.0 123.1M254.0 120.4L258.5 121.2M254.0 123.1L255.9 124.6M255.9 124.6L258.1 123.2M258.5 121.2L258.1 123.2M259.8 119.2L258.5 121.2M256.6 118.4L254.0 120.4M254.0 120.4L254.0 120.4M251.1 124.3L254.0 123.1M256.1 125.9L255.9 124.6M261.0 124.3L258.1 123.2M243.2 115.7L243.9 112.5M243.2 115.7L245.9 116.1M245.9 116.1L247.4 113.4M243.1 115.8L243.2 115.7M247.0 118.9L247.2 118.0M247.0 118.9L248.8 121.5M247.2 118.0L251.0 116.7M248.8 121.5L252.5 119.0M251.0 116.7L252.0 117.4M252.5 119.0L252.0 117.4M245.6 119.8L247.0 118.9M245.9 116.1L247.2 118.0M248.8 123.8L248.8 121.5M250.5 113.3L251.0 116.7M254.0 120.4L252.5 119.0M255.6 115.2L252.0 117.4M250.3 174.1L248.2 175.8M250.3 174.1L252.8 175.9M248.2 175.8L249.6 178.9M252.8 175.9L251.7 178.5M251.7 178.5L249.7 179.0M249.7 179.0L249.6 178.9M250.8 172.0L250.3 174.1M245.5 174.8L248.2 175.8M254.4 175.1L252.8 175.9M245.8 179.1L249.6 178.9M253.7 179.7L251.7 178.5M249.1 182.2L249.7 179.0M252.5 149.9L255.7 147.8M252.5 149.9L252.0 149.9M252.0 149.9L251.7 146.0M256.2 146.2L255.7 147.8M256.2 146.2L253.3 144.7M253.3 144.7L251.7 146.0M254.4 152.5L252.5 149.9M258.1 152.4L255.7 147.8M249.4 150.7L252.0 149.9M248.2 146.1L251.7 146.0M257.9 145.3L256.2 146.2M253.0 144.1L253.3 144.7M218.9 146.1L219.4 145.9M221.0 150.6L222.1 149.6M219.4 145.9L221.7 147.8M222.1 149.6L221.7 147.8M223.6 153.2L224.2 150.8M222.1 149.6L224.2 150.8M228.1 150.4L227.4 149.7M224.2 150.8L227.4 149.7M232.3 146.0L227.0 146.9M227.4 149.7L227.0 146.9M215.5 144.9L215.2 143.3M219.4 145.9L220.5 143.8M215.2 143.3L216.9 140.8M220.5 143.8L216.9 140.8M215.2 143.3L213.5 142.1M213.5 142.1L214.5 139.6M216.8 138.9L216.9 139.0M216.9 140.8L216.9 139.0M220.1 134.6L219.4 134.4M220.1 134.6L221.8 139.0M216.9 139.0L221.8 139.0M231.4 143.6L230.1 143.0M227.0 146.9L226.6 146.1M230.1 143.0L226.6 146.1M221.7 147.8L226.4 146.1M226.6 146.1L226.4 146.1M226.2 178.3L222.5 179.0M226.2 178.3L225.9 182.1M225.9 182.1L225.6 182.4M225.6 182.4L224.0 183.0M224.0 183.0L221.1 180.9M221.1 180.9L222.5 179.0M226.6 177.5L226.2 178.3M222.6 175.9L222.5 179.0M227.2 182.2L225.9 182.1M227.6 185.8L225.6 182.4M223.2 185.7L224.0 183.0M220.1 180.7L221.1 180.9M206.8 142.0L206.3 139.6M206.8 142.0L208.5 142.7M208.5 142.7L210.7 142.0M207.1 138.4L206.3 139.6M207.1 138.4L211.3 139.1M211.3 139.1L210.8 141.8M210.7 142.0L210.8 141.8M203.1 138.7L206.3 139.6M204.2 143.7L206.8 142.0M208.7 146.4L208.5 142.7M212.9 146.7L210.7 142.0M207.3 135.8L207.1 138.4M205.2 135.0L202.4 136.3M211.4 138.9L211.3 139.1M213.5 142.1L210.8 141.8M210.1 128.1L212.6 126.9M215.3 130.7L216.4 128.3M216.4 128.3L212.6 126.9M208.8 124.4L211.5 121.6M208.8 124.4L208.8 127.6M211.5 121.6L212.9 125.5M212.6 126.9L212.9 125.5M206.0 120.4L209.6 119.2M206.0 120.4L205.7 115.7M207.7 114.7L209.7 117.9M209.6 119.2L209.7 117.9M200.9 133.7L203.5 131.8M200.9 133.7L199.8 129.8M203.5 131.8L203.4 128.3M199.8 129.8L203.3 128.2M203.3 128.2L203.4 128.3M200.8 134.0L200.9 133.7M204.8 132.9L203.5 131.8M199.1 129.7L199.8 129.8M199.6 124.8L203.3 128.2M242.0 136.3L238.4 135.9M236.5 139.2L236.9 136.6M238.4 135.9L236.9 136.6M242.1 132.1L239.0 131.7M238.4 135.9L239.0 131.7M202.9 179.7L201.5 179.1M202.9 179.7L203.4 180.9M203.4 180.9L201.1 184.0M201.5 179.1L199.8 179.2M199.8 179.2L198.2 182.7M198.2 182.7L201.1 184.0M202.1 175.3L201.5 179.1M204.9 177.3L202.9 179.7M205.4 181.8L203.4 180.9M201.8 185.2L201.1 184.0M198.2 177.1L199.8 179.2M196.4 183.3L198.2 182.7M202.8 123.8L204.2 127.8M202.8 123.8L204.4 120.9M205.8 122.1L205.2 121.0M205.8 122.1L204.7 127.7M204.7 127.7L204.2 127.8M205.2 121.0L204.4 120.9M199.9 124.1L202.8 123.8M203.4 128.3L204.2 127.8M201.8 119.5L204.4 120.9M206.0 120.4L205.2 121.0M208.8 124.4L205.8 122.1M211.5 121.6L211.6 121.1M211.6 121.1L209.6 119.2M207.1 128.1L204.7 127.7M234.5 140.3L232.2 138.9M230.1 143.0L229.3 141.3M229.3 141.3L232.2 138.9M236.9 136.6L235.0 134.4M231.8 136.1L235.0 134.4M231.8 136.1L231.5 137.3M232.2 138.9L231.5 137.3M220.5 143.8L222.0 142.6M221.8 139.0L222.2 139.3M222.0 142.6L222.2 139.3M226.4 146.1L225.6 144.5M222.0 142.6L225.6 144.5M229.3 141.3L227.4 140.6M225.6 144.5L227.4 140.6M220.7 113.2L219.6 116.7M219.6 116.7L224.8 116.2M222.5 112.6L224.8 116.2M226.2 116.4L225.2 116.5M225.2 116.5L224.8 116.2M236.3 123.9L234.6 125.6M233.2 121.0L232.0 123.8M234.6 125.6L232.6 125.3M232.0 123.8L232.6 125.3M228.6 122.5L228.6 122.7M232.0 123.8L228.6 122.7M216.4 128.3L217.6 127.7M216.4 123.5L212.9 125.5M216.4 123.5L217.0 124.8M217.6 127.7L217.0 124.8M216.4 123.5L216.4 122.1M211.6 121.1L213.0 120.8M216.4 122.1L213.0 120.8M239.0 131.7L238.2 131.2M235.0 134.4L235.1 132.7M235.1 132.7L238.2 131.2M239.9 126.5L237.9 128.7M234.6 125.6L235.5 127.8M235.5 127.8L237.9 128.7M237.9 128.7L238.2 131.2M226.8 139.6L224.3 138.4M226.8 139.6L229.0 137.5M227.4 135.1L224.8 136.5M227.4 135.1L229.0 137.5M224.8 136.5L224.3 138.4M222.2 139.3L224.3 138.4M227.4 140.6L226.8 139.6M231.5 137.3L229.0 137.5M227.6 134.9L227.4 135.1M227.6 134.9L226.1 132.0M223.3 133.1L223.6 132.4M223.3 133.1L224.8 136.5M226.1 132.0L223.6 132.4M227.6 134.9L230.2 133.7M230.2 133.7L231.8 136.1M220.1 134.6L223.3 133.1M231.0 127.0L229.0 127.5M231.0 127.0L233.4 129.9M229.0 127.5L228.2 129.9M228.2 129.9L230.5 131.9M230.5 131.9L233.3 131.1M233.4 129.9L233.3 131.1M232.6 125.3L231.0 127.0M228.6 122.7L227.2 124.9M227.2 124.9L229.0 127.5M235.5 127.8L233.4 129.9M230.2 133.7L230.5 131.9M226.1 132.0L228.2 129.9M228.2 129.9L228.2 129.9M235.1 132.7L233.3 131.1M228.2 129.9L223.9 128.1M223.6 132.4L222.7 130.6M222.7 130.6L223.9 128.1M219.0 132.1L219.7 130.0M222.7 130.6L219.7 130.0M217.6 127.7L218.3 127.9M219.7 130.0L218.3 127.9M217.9 117.5L214.2 118.0M217.9 117.5L215.7 113.9M214.2 118.0L213.1 115.4M213.5 113.9L213.1 115.4M216.4 122.1L219.2 119.9M213.0 120.8L214.2 118.0M219.2 119.9L218.7 118.0M218.7 118.0L217.9 117.5M219.6 116.7L218.7 118.0M209.7 117.9L213.1 115.4M225.4 124.9L223.6 126.7M225.4 124.9L223.1 121.0M223.6 126.7L221.2 126.0M221.2 126.0L220.9 123.8M220.9 123.8L221.3 120.9M221.3 120.9L222.7 120.7M223.1 121.0L222.7 120.7M227.2 124.9L225.4 124.9M223.9 128.1L223.6 126.7M226.8 120.9L223.1 121.0M218.3 127.9L221.2 126.0M217.0 124.8L220.9 123.8M219.2 119.9L221.3 120.9M225.2 116.5L222.7 120.7"/>
<path stroke="#5e4290" stroke-width="0.8" stroke-linecap="round" d="M219.5 177.3h0M246.8 141.1h0M209.3 137.0h0M241.4 161.3h0M248.5 162.8h0M207.1 123.7h0M213.7 129.0h0M209.0 162.4h0M233.6 180.9h0M212.4 177.3h0M217.6 182.1h0M238.2 175.1h0M197.2 130.3h0M236.2 177.1h0M244.8 184.5h0M256.8 135.1h0M253.3 161.2h0M215.3 129.9h0M248.9 176.5h0M221.6 141.4h0M198.2 168.4h0M253.8 161.4h0M219.8 135.3h0M210.8 185.6h0M205.1 123.4h0M247.6 168.5h0M242.9 177.0h0M236.6 173.1h0M201.0 168.6h0M238.6 178.2h0"/>
<path stroke="#5e4290" stroke-width="1.2" stroke-linecap="round" d="M237.8 134.4h0M220.8 178.9h0M244.2 131.5h0M226.2 175.5h0M234.7 159.7h0M226.2 138.1h0M207.1 184.8h0M205.2 180.2h0M216.0 179.9h0M212.7 148.1h0M256.3 172.2h0M248.4 177.4h0M254.5 129.0h0M209.8 141.9h0M249.0 136.5h0M236.4 159.4h0M219.9 129.2h0M255.8 120.6h0M241.0 150.7h0"/>
<path stroke="#5e4290" stroke-width="1.6" stroke-linecap="round" d="M222.1 184.1h0M231.0 125.2h0M234.2 146.8h0M244.0 125.8h0M213.2 152.6h0M192.7 140.9h0M256.7 123.7h0M245.1 147.9h0M206.3 160.8h0M222.8 122.1h0M211.6 171.0h0M221.1 138.4h0M191.6 151.4h0M195.0 153.1h0M242.7 137.1h0M226.1 143.2h0M244.6 180.3h0M248.5 124.0h0M193.0 121.4h0M197.0 142.4h0M229.9 133.3h0"/>
</g>
<rect x="52.2" y="51.1" width="206.6" height="135.8" fill="none" stroke="#000" stroke-width="2.4"/>
<rect x="119" y="51" width="2" height="136" fill="#000"/>
<rect x="189" y="51" width="2" height="136" fill="#000"/>
<rect x="52" y="118" width="207" height="2" fill="#000"/>
<rect x="83" y="106" width="23" height="4" fill="#000"/>
<rect x="155.7" y="106" width="23.2" height="4" fill="#000"/>
<rect x="225" y="106" width="23" height="4" fill="#000"/>
<rect x="83" y="178.2" width="23" height="3.9" fill="#000"/>
<rect x="155" y="178.2" width="22.2" height="3.9" fill="#000"/>
<rect x="223" y="178.2" width="23.5" height="3.9" fill="#000"/>
<text x="284.2" y="17.6" font-size="20.3" font-weight="bold">B</text>
<rect x="336.82" y="192.5" width="6.95" height="2.17" fill="#fff" stroke="#000" stroke-width="1.25"/>
<rect x="344.4" y="185.15" width="9.4" height="10.15" fill="#000"/>
<rect x="356.82" y="156.28" width="6.95" height="38.4" fill="#fff" stroke="#000" stroke-width="1.25"/>
<rect x="364.4" y="141.77" width="9.4" height="53.53" fill="#000"/>
<rect x="376.82" y="132.82" width="6.95" height="61.86" fill="#fff" stroke="#000" stroke-width="1.25"/>
<rect x="384.4" y="97.42" width="9.4" height="97.88" fill="#000"/>
<rect x="396.82" y="43.15" width="6.95" height="151.52" fill="#fff" stroke="#000" stroke-width="1.25"/>
<rect x="404.4" y="44.4" width="9.4" height="150.9" fill="#000"/>
<rect x="416.82" y="49.88" width="6.95" height="144.79" fill="#fff" stroke="#000" stroke-width="1.25"/>
<rect x="424.4" y="30.52" width="9.4" height="164.78" fill="#000"/>
<rect x="436.82" y="79.73" width="6.95" height="114.95" fill="#fff" stroke="#000" stroke-width="1.25"/>
<rect x="444.4" y="97.42" width="9.4" height="97.88" fill="#000"/>
<rect x="456.82" y="125.81" width="6.95" height="68.87" fill="#fff" stroke="#000" stroke-width="1.25"/>
<rect x="464.4" y="122.82" width="9.4" height="72.48" fill="#000"/>
<rect x="476.82" y="147.04" width="6.95" height="47.63" fill="#fff" stroke="#000" stroke-width="1.25"/>
<rect x="484.4" y="173.83" width="9.4" height="21.47" fill="#000"/>
<rect x="496.82" y="172.72" width="6.95" height="21.95" fill="#fff" stroke="#000" stroke-width="1.25"/>
<rect x="504.4" y="164.46" width="9.4" height="30.84" fill="#000"/>
<rect x="516.83" y="181.75" width="6.95" height="12.93" fill="#fff" stroke="#000" stroke-width="1.25"/>
<rect x="536.83" y="184.52" width="6.95" height="10.15" fill="#fff" stroke="#000" stroke-width="1.25"/>
<rect x="556.83" y="188.69" width="6.95" height="5.99" fill="#fff" stroke="#000" stroke-width="1.25"/>
<rect x="576.83" y="192.85" width="6.95" height="1.83" fill="#fff" stroke="#000" stroke-width="1.25"/>
<line x1="334.5" y1="20.2" x2="334.5" y2="196.2" stroke="#000" stroke-width="2.4" stroke-linecap="butt"/>
<line x1="330.5" y1="195" x2="334.5" y2="195" stroke="#000" stroke-width="2" stroke-linecap="butt"/>
<text x="322.8" y="200" font-size="14" text-anchor="end">0</text>
<line x1="330.5" y1="160.3" x2="334.5" y2="160.3" stroke="#000" stroke-width="2" stroke-linecap="butt"/>
<text x="322.8" y="165.3" font-size="14" text-anchor="end">5</text>
<line x1="330.5" y1="125.6" x2="334.5" y2="125.6" stroke="#000" stroke-width="2" stroke-linecap="butt"/>
<text x="322.8" y="130.6" font-size="14" text-anchor="end">10</text>
<line x1="330.5" y1="90.9" x2="334.5" y2="90.9" stroke="#000" stroke-width="2" stroke-linecap="butt"/>
<text x="322.8" y="95.9" font-size="14" text-anchor="end">15</text>
<line x1="330.5" y1="56.2" x2="334.5" y2="56.2" stroke="#000" stroke-width="2" stroke-linecap="butt"/>
<text x="322.8" y="61.2" font-size="14" text-anchor="end">20</text>
<line x1="330.5" y1="21.5" x2="334.5" y2="21.5" stroke="#000" stroke-width="2" stroke-linecap="butt"/>
<text x="322.8" y="26.5" font-size="14" text-anchor="end">25</text>
<line x1="333.3" y1="195.5" x2="596" y2="195.5" stroke="#000" stroke-width="2.4" stroke-linecap="butt"/>
<line x1="335" y1="195" x2="335" y2="199" stroke="#000" stroke-width="2" stroke-linecap="butt"/>
<line x1="355" y1="195" x2="355" y2="199" stroke="#000" stroke-width="2" stroke-linecap="butt"/>
<line x1="375" y1="195" x2="375" y2="199" stroke="#000" stroke-width="2" stroke-linecap="butt"/>
<line x1="395" y1="195" x2="395" y2="199" stroke="#000" stroke-width="2" stroke-linecap="butt"/>
<line x1="415" y1="195" x2="415" y2="199" stroke="#000" stroke-width="2" stroke-linecap="butt"/>
<line x1="435" y1="195" x2="435" y2="199" stroke="#000" stroke-width="2" stroke-linecap="butt"/>
<line x1="455" y1="195" x2="455" y2="199" stroke="#000" stroke-width="2" stroke-linecap="butt"/>
<line x1="475" y1="195" x2="475" y2="199" stroke="#000" stroke-width="2" stroke-linecap="butt"/>
<line x1="495" y1="195" x2="495" y2="199" stroke="#000" stroke-width="2" stroke-linecap="butt"/>
<line x1="515" y1="195" x2="515" y2="199" stroke="#000" stroke-width="2" stroke-linecap="butt"/>
<line x1="535" y1="195" x2="535" y2="199" stroke="#000" stroke-width="2" stroke-linecap="butt"/>
<line x1="555" y1="195" x2="555" y2="199" stroke="#000" stroke-width="2" stroke-linecap="butt"/>
<line x1="575" y1="195" x2="575" y2="199" stroke="#000" stroke-width="2" stroke-linecap="butt"/>
<line x1="595" y1="195" x2="595" y2="199" stroke="#000" stroke-width="2" stroke-linecap="butt"/>
<text transform="translate(350.05 201.6) rotate(-90)" font-size="14.1" text-anchor="end">10~</text>
<text transform="translate(370.05 201.6) rotate(-90)" font-size="14.1" text-anchor="end">12~</text>
<text transform="translate(390.05 201.6) rotate(-90)" font-size="14.1" text-anchor="end">14~</text>
<text transform="translate(410.05 201.6) rotate(-90)" font-size="14.1" text-anchor="end">16~</text>
<text transform="translate(430.05 201.6) rotate(-90)" font-size="14.1" text-anchor="end">18~</text>
<text transform="translate(450.05 201.6) rotate(-90)" font-size="14.1" text-anchor="end">20~</text>
<text transform="translate(470.05 201.6) rotate(-90)" font-size="14.1" text-anchor="end">22~</text>
<text transform="translate(490.05 201.6) rotate(-90)" font-size="14.1" text-anchor="end">24~</text>
<text transform="translate(510.05 201.6) rotate(-90)" font-size="14.1" text-anchor="end">26~</text>
<text transform="translate(530.05 201.6) rotate(-90)" font-size="14.1" text-anchor="end">28~</text>
<text transform="translate(550.05 201.6) rotate(-90)" font-size="14.1" text-anchor="end">30~</text>
<text transform="translate(570.05 201.6) rotate(-90)" font-size="14.1" text-anchor="end">32~</text>
<text transform="translate(590.05 201.6) rotate(-90)" font-size="14.1" text-anchor="end">34~</text>
<text transform="translate(300.4 105.8) rotate(-90)" font-size="16.4" text-anchor="middle">BAT population (%)</text>
<text x="468.9" y="242.2" font-size="16.7" text-anchor="middle">diameter (µm)</text>
<rect x="338.75" y="29.15" width="8.2" height="8.2" fill="#fff" stroke="#000" stroke-width="1.3"/>
<rect x="338.1" y="56" width="9.5" height="9.5" fill="#000"/>
<text x="351.2" y="38.5" font-size="16">Cont</text>
<text x="351.2" y="65.7" font-size="16">CL</text>
<rect x="534.25" y="64.86" width="26.5" height="39.69" fill="#fff" stroke="#000" stroke-width="2.5"/>
<rect x="574" y="65.7" width="29.7" height="40.1" fill="#000"/>
<rect x="545.05" y="28.4" width="4.7" height="54.3" rx="2.35" fill="#000"/>
<circle cx="547.4" cy="30.6" r="0.95" fill="#fff"/>
<circle cx="547.4" cy="35.8" r="0.95" fill="#fff"/>
<circle cx="547.4" cy="39.6" r="0.95" fill="#fff"/>
<circle cx="547.4" cy="44.5" r="0.95" fill="#fff"/>
<circle cx="547.4" cy="48.4" r="0.95" fill="#fff"/>
<circle cx="547.4" cy="55.5" r="0.95" fill="#fff"/>
<rect x="586.15" y="42.5" width="4.7" height="23.5" rx="2.35" fill="#000"/>
<circle cx="588.5" cy="44.8" r="0.95" fill="#fff"/>
<circle cx="588.5" cy="48.2" r="0.95" fill="#fff"/>
<circle cx="588.5" cy="51.6" r="0.95" fill="#fff"/>
<circle cx="588.5" cy="55.2" r="0.95" fill="#fff"/>
<circle cx="588.5" cy="84.2" r="0.95" fill="#fff"/>
<line x1="526.4" y1="20.3" x2="526.4" y2="106.8" stroke="#000" stroke-width="2.6" stroke-linecap="butt"/>
<line x1="522.4" y1="105.3" x2="526.4" y2="105.3" stroke="#000" stroke-width="2.2" stroke-linecap="butt"/>
<text x="515.2" y="110.3" font-size="14" text-anchor="end">0</text>
<line x1="522.4" y1="63.4" x2="526.4" y2="63.4" stroke="#000" stroke-width="2.2" stroke-linecap="butt"/>
<text x="515.2" y="68.4" font-size="14" text-anchor="end">20</text>
<line x1="522.4" y1="21.5" x2="526.4" y2="21.5" stroke="#000" stroke-width="2.2" stroke-linecap="butt"/>
<text x="515.2" y="26.5" font-size="14" text-anchor="end">40</text>
<line x1="525.1" y1="106.2" x2="610" y2="106.2" stroke="#000" stroke-width="2.6" stroke-linecap="butt"/>
<line x1="526.4" y1="105.3" x2="526.4" y2="109.3" stroke="#000" stroke-width="2.2" stroke-linecap="butt"/>
<line x1="568.2" y1="105.3" x2="568.2" y2="109.3" stroke="#000" stroke-width="2.2" stroke-linecap="butt"/>
<line x1="609" y1="105.3" x2="609" y2="109.3" stroke="#000" stroke-width="2.2" stroke-linecap="butt"/>
<text x="547.5" y="126" font-size="14" text-anchor="middle">Cont</text>
<text x="588.85" y="126" font-size="14" text-anchor="middle">CL</text>
<text x="566.8" y="16.6" font-size="16.2" text-anchor="middle">BAT</text>
<text x="588.6" y="39.6" font-size="25" text-anchor="middle" font-weight="bold">**</text>
<text transform="translate(471.6 60.7) rotate(-90)" font-size="16.45" text-anchor="middle">Average cell</text>
<text transform="translate(491.5 58.2) rotate(-90)" font-size="16.45" text-anchor="middle">Diameter (µm)</text>
<text x="3.4" y="252.3" font-size="21.3" font-weight="bold">C</text>
<rect x="56.09" y="441.76" width="6.88" height="6.24" fill="#000"/>
<rect x="66.42" y="445.44" width="5.22" height="1.93" fill="#fff" stroke="#000" stroke-width="1.25"/>
<rect x="72.27" y="424.31" width="6.88" height="23.69" fill="#000"/>
<rect x="82.6" y="445.01" width="5.22" height="2.37" fill="#fff" stroke="#000" stroke-width="1.25"/>
<rect x="88.45" y="409.92" width="6.88" height="38.08" fill="#000"/>
<rect x="98.78" y="434.28" width="5.22" height="13.1" fill="#fff" stroke="#000" stroke-width="1.25"/>
<rect x="104.63" y="394.91" width="6.88" height="53.09" fill="#000"/>
<rect x="114.96" y="431.05" width="5.22" height="16.33" fill="#fff" stroke="#000" stroke-width="1.25"/>
<rect x="120.81" y="383.31" width="6.88" height="64.69" fill="#000"/>
<rect x="131.14" y="384.28" width="5.22" height="63.09" fill="#fff" stroke="#000" stroke-width="1.25"/>
<rect x="136.99" y="336.19" width="6.88" height="111.81" fill="#000"/>
<rect x="147.32" y="389.69" width="5.22" height="57.68" fill="#fff" stroke="#000" stroke-width="1.25"/>
<rect x="153.17" y="309.14" width="6.88" height="138.86" fill="#000"/>
<rect x="163.5" y="354.79" width="5.22" height="92.58" fill="#fff" stroke="#000" stroke-width="1.25"/>
<rect x="169.35" y="324.15" width="6.88" height="123.85" fill="#000"/>
<rect x="179.68" y="313.43" width="5.22" height="133.94" fill="#fff" stroke="#000" stroke-width="1.25"/>
<rect x="185.53" y="309.14" width="6.88" height="138.86" fill="#000"/>
<rect x="195.86" y="324.78" width="5.22" height="122.6" fill="#fff" stroke="#000" stroke-width="1.25"/>
<rect x="201.71" y="347.71" width="6.88" height="100.29" fill="#000"/>
<rect x="212.04" y="313.43" width="5.22" height="133.94" fill="#fff" stroke="#000" stroke-width="1.25"/>
<rect x="217.89" y="388.37" width="6.88" height="59.63" fill="#000"/>
<rect x="228.22" y="360.55" width="5.22" height="86.83" fill="#fff" stroke="#000" stroke-width="1.25"/>
<rect x="234.07" y="429.99" width="6.88" height="18.01" fill="#000"/>
<rect x="244.4" y="378.35" width="5.22" height="69.03" fill="#fff" stroke="#000" stroke-width="1.25"/>
<rect x="250.25" y="444.91" width="6.88" height="3.09" fill="#000"/>
<rect x="260.58" y="415.95" width="5.22" height="31.42" fill="#fff" stroke="#000" stroke-width="1.25"/>
<rect x="276.76" y="424.94" width="5.22" height="22.44" fill="#fff" stroke="#000" stroke-width="1.25"/>
<rect x="282.61" y="444.91" width="6.88" height="3.09" fill="#000"/>
<rect x="292.94" y="442.22" width="5.22" height="5.16" fill="#fff" stroke="#000" stroke-width="1.25"/>
<rect x="309.12" y="436.63" width="5.22" height="10.74" fill="#fff" stroke="#000" stroke-width="1.25"/>
<rect x="314.97" y="444.38" width="6.88" height="3.62" fill="#000"/>
<line x1="48.2" y1="270.6" x2="48.2" y2="448.9" stroke="#000" stroke-width="2.4" stroke-linecap="butt"/>
<line x1="44.2" y1="447.7" x2="48.2" y2="447.7" stroke="#000" stroke-width="2" stroke-linecap="butt"/>
<text x="35.6" y="452.7" font-size="14" text-anchor="end">0</text>
<line x1="44.2" y1="403.7" x2="48.2" y2="403.7" stroke="#000" stroke-width="2" stroke-linecap="butt"/>
<text x="35.6" y="408.7" font-size="14" text-anchor="end">5</text>
<line x1="44.2" y1="359.7" x2="48.2" y2="359.7" stroke="#000" stroke-width="2" stroke-linecap="butt"/>
<text x="35.6" y="364.7" font-size="14" text-anchor="end">10</text>
<line x1="44.2" y1="315.7" x2="48.2" y2="315.7" stroke="#000" stroke-width="2" stroke-linecap="butt"/>
<text x="35.6" y="320.7" font-size="14" text-anchor="end">15</text>
<line x1="44.2" y1="271.7" x2="48.2" y2="271.7" stroke="#000" stroke-width="2" stroke-linecap="butt"/>
<text x="35.6" y="276.7" font-size="14" text-anchor="end">20</text>
<line x1="47" y1="448.2" x2="324.06" y2="448.2" stroke="#000" stroke-width="2.4" stroke-linecap="butt"/>
<line x1="48" y1="447.7" x2="48" y2="451.7" stroke="#000" stroke-width="2" stroke-linecap="butt"/>
<line x1="64.18" y1="447.7" x2="64.18" y2="451.7" stroke="#000" stroke-width="2" stroke-linecap="butt"/>
<line x1="80.36" y1="447.7" x2="80.36" y2="451.7" stroke="#000" stroke-width="2" stroke-linecap="butt"/>
<line x1="96.54" y1="447.7" x2="96.54" y2="451.7" stroke="#000" stroke-width="2" stroke-linecap="butt"/>
<line x1="112.72" y1="447.7" x2="112.72" y2="451.7" stroke="#000" stroke-width="2" stroke-linecap="butt"/>
<line x1="128.9" y1="447.7" x2="128.9" y2="451.7" stroke="#000" stroke-width="2" stroke-linecap="butt"/>
<line x1="145.08" y1="447.7" x2="145.08" y2="451.7" stroke="#000" stroke-width="2" stroke-linecap="butt"/>
<line x1="161.26" y1="447.7" x2="161.26" y2="451.7" stroke="#000" stroke-width="2" stroke-linecap="butt"/>
<line x1="177.44" y1="447.7" x2="177.44" y2="451.7" stroke="#000" stroke-width="2" stroke-linecap="butt"/>
<line x1="193.62" y1="447.7" x2="193.62" y2="451.7" stroke="#000" stroke-width="2" stroke-linecap="butt"/>
<line x1="209.8" y1="447.7" x2="209.8" y2="451.7" stroke="#000" stroke-width="2" stroke-linecap="butt"/>
<line x1="225.98" y1="447.7" x2="225.98" y2="451.7" stroke="#000" stroke-width="2" stroke-linecap="butt"/>
<line x1="242.16" y1="447.7" x2="242.16" y2="451.7" stroke="#000" stroke-width="2" stroke-linecap="butt"/>
<line x1="258.34" y1="447.7" x2="258.34" y2="451.7" stroke="#000" stroke-width="2" stroke-linecap="butt"/>
<line x1="274.52" y1="447.7" x2="274.52" y2="451.7" stroke="#000" stroke-width="2" stroke-linecap="butt"/>
<line x1="290.7" y1="447.7" x2="290.7" y2="451.7" stroke="#000" stroke-width="2" stroke-linecap="butt"/>
<line x1="306.88" y1="447.7" x2="306.88" y2="451.7" stroke="#000" stroke-width="2" stroke-linecap="butt"/>
<line x1="323.06" y1="447.7" x2="323.06" y2="451.7" stroke="#000" stroke-width="2" stroke-linecap="butt"/>
<text transform="translate(61.1 455.6) rotate(-90)" font-size="14" text-anchor="end">15~</text>
<text transform="translate(77.28 455.6) rotate(-90)" font-size="14" text-anchor="end">20~</text>
<text transform="translate(93.46 455.6) rotate(-90)" font-size="14" text-anchor="end">25~</text>
<text transform="translate(109.64 455.6) rotate(-90)" font-size="14" text-anchor="end">30~</text>
<text transform="translate(125.82 455.6) rotate(-90)" font-size="14" text-anchor="end">35~</text>
<text transform="translate(142 455.6) rotate(-90)" font-size="14" text-anchor="end">40~</text>
<text transform="translate(158.18 455.6) rotate(-90)" font-size="14" text-anchor="end">45~</text>
<text transform="translate(174.36 455.6) rotate(-90)" font-size="14" text-anchor="end">50~</text>
<text transform="translate(190.54 455.6) rotate(-90)" font-size="14" text-anchor="end">55~</text>
<text transform="translate(206.72 455.6) rotate(-90)" font-size="14" text-anchor="end">60~</text>
<text transform="translate(222.9 455.6) rotate(-90)" font-size="14" text-anchor="end">65~</text>
<text transform="translate(239.08 455.6) rotate(-90)" font-size="14" text-anchor="end">70~</text>
<text transform="translate(255.26 455.6) rotate(-90)" font-size="14" text-anchor="end">75~</text>
<text transform="translate(271.44 455.6) rotate(-90)" font-size="14" text-anchor="end">80~</text>
<text transform="translate(287.62 455.6) rotate(-90)" font-size="14" text-anchor="end">85~</text>
<text transform="translate(303.8 455.6) rotate(-90)" font-size="14" text-anchor="end">90~</text>
<text transform="translate(319.98 455.6) rotate(-90)" font-size="14" text-anchor="end">95~</text>
<text transform="translate(15.7 350.6) rotate(-90)" font-size="16.45" text-anchor="middle">EWAT population (%)</text>
<text x="189.4" y="494.5" font-size="16.6" text-anchor="middle">diameter (µm)</text>
<rect x="52.15" y="285.25" width="8.2" height="8.2" fill="#fff" stroke="#000" stroke-width="1.3"/>
<rect x="51.5" y="308.3" width="9.5" height="9.5" fill="#000"/>
<text x="64.6" y="294.6" font-size="16">Cont</text>
<text x="64.6" y="318" font-size="16">CL</text>
<rect x="294.55" y="311.72" width="25.5" height="42.73" fill="#fff" stroke="#000" stroke-width="2.5"/>
<rect x="332.3" y="318.87" width="28" height="36.83" fill="#000"/>
<circle cx="307.6" cy="275.8" r="1.85" fill="#fff" stroke="#000" stroke-width="1.05"/>
<rect x="305.25" y="279" width="4.7" height="62.3" rx="2.35" fill="#000"/>
<circle cx="307.6" cy="282" r="0.95" fill="#fff"/>
<circle cx="307.6" cy="286" r="0.95" fill="#fff"/>
<circle cx="307.6" cy="290" r="0.95" fill="#fff"/>
<circle cx="307.6" cy="293.5" r="0.95" fill="#fff"/>
<circle cx="307.6" cy="312" r="0.95" fill="#fff"/>
<circle cx="307.6" cy="329" r="0.95" fill="#fff"/>
<circle cx="307.6" cy="337.5" r="0.95" fill="#fff"/>
<circle cx="346.6" cy="281.5" r="1.85" fill="#fff" stroke="#000" stroke-width="1.05"/>
<circle cx="346.6" cy="291" r="1.85" fill="#fff" stroke="#000" stroke-width="1.05"/>
<rect x="344.25" y="295.2" width="4.7" height="24.8" rx="2.35" fill="#000"/>
<circle cx="346.6" cy="297.5" r="0.95" fill="#fff"/>
<circle cx="346.6" cy="301" r="0.95" fill="#fff"/>
<circle cx="346.6" cy="329.9" r="0.95" fill="#fff"/>
<circle cx="346.6" cy="336.6" r="0.95" fill="#fff"/>
<circle cx="346.6" cy="339.7" r="0.95" fill="#fff"/>
<circle cx="346.6" cy="344.6" r="0.95" fill="#fff"/>
<line x1="287.7" y1="270" x2="287.7" y2="356.7" stroke="#000" stroke-width="2.6" stroke-linecap="butt"/>
<line x1="283.7" y1="355.2" x2="287.7" y2="355.2" stroke="#000" stroke-width="2.2" stroke-linecap="butt"/>
<text x="277.3" y="360.2" font-size="14" text-anchor="end">0</text>
<line x1="283.7" y1="327.2" x2="287.7" y2="327.2" stroke="#000" stroke-width="2.2" stroke-linecap="butt"/>
<text x="277.3" y="332.2" font-size="14" text-anchor="end">40</text>
<line x1="283.7" y1="299.2" x2="287.7" y2="299.2" stroke="#000" stroke-width="2.2" stroke-linecap="butt"/>
<text x="277.3" y="304.2" font-size="14" text-anchor="end">80</text>
<line x1="283.7" y1="271.2" x2="287.7" y2="271.2" stroke="#000" stroke-width="2.2" stroke-linecap="butt"/>
<text x="277.3" y="276.2" font-size="14" text-anchor="end">120</text>
<line x1="286.4" y1="356.1" x2="366.5" y2="356.1" stroke="#000" stroke-width="2.6" stroke-linecap="butt"/>
<line x1="287.7" y1="355.2" x2="287.7" y2="359.2" stroke="#000" stroke-width="2.2" stroke-linecap="butt"/>
<line x1="327.1" y1="355.2" x2="327.1" y2="359.2" stroke="#000" stroke-width="2.2" stroke-linecap="butt"/>
<line x1="365.5" y1="355.2" x2="365.5" y2="359.2" stroke="#000" stroke-width="2.2" stroke-linecap="butt"/>
<text x="307.3" y="375.9" font-size="14" text-anchor="middle">Cont</text>
<text x="346.3" y="375.9" font-size="14" text-anchor="middle">CL</text>
<text x="327.4" y="250.4" font-size="16.2" text-anchor="middle">EWAT</text>
<text x="347" y="283.3" font-size="25" text-anchor="middle" font-weight="bold">**</text>
<text transform="translate(234.3 311.2) rotate(-90)" font-size="16.45" text-anchor="middle">Average cell</text>
<text transform="translate(254.2 308.8) rotate(-90)" font-size="16.45" text-anchor="middle">Diameter (µm)</text>
<text x="377.6" y="259.7" font-size="21.3" font-weight="bold">D</text>
<rect x="426.2" y="443.63" width="5.04" height="1.75" fill="#fff" stroke="#000" stroke-width="1.25"/>
<rect x="441.93" y="441.4" width="5.04" height="3.97" fill="#fff" stroke="#000" stroke-width="1.25"/>
<rect x="447.6" y="433.77" width="6.69" height="12.23" fill="#000"/>
<rect x="457.66" y="437.16" width="5.04" height="8.22" fill="#fff" stroke="#000" stroke-width="1.25"/>
<rect x="463.32" y="407.15" width="6.69" height="38.85" fill="#000"/>
<rect x="473.39" y="428.06" width="5.04" height="17.32" fill="#fff" stroke="#000" stroke-width="1.25"/>
<rect x="479.06" y="355.65" width="6.69" height="90.35" fill="#000"/>
<rect x="489.12" y="407.97" width="5.04" height="37.4" fill="#fff" stroke="#000" stroke-width="1.25"/>
<rect x="494.79" y="301.73" width="6.69" height="144.27" fill="#000"/>
<rect x="504.85" y="387.69" width="5.04" height="57.69" fill="#fff" stroke="#000" stroke-width="1.25"/>
<rect x="510.51" y="300.12" width="6.69" height="145.88" fill="#000"/>
<rect x="520.58" y="363.02" width="5.04" height="82.36" fill="#fff" stroke="#000" stroke-width="1.25"/>
<rect x="526.25" y="317.64" width="6.69" height="128.36" fill="#000"/>
<rect x="536.31" y="358.37" width="5.04" height="87.01" fill="#fff" stroke="#000" stroke-width="1.25"/>
<rect x="541.98" y="378.03" width="6.69" height="67.97" fill="#000"/>
<rect x="552.04" y="367.67" width="5.04" height="77.71" fill="#fff" stroke="#000" stroke-width="1.25"/>
<rect x="557.71" y="424.54" width="6.69" height="21.46" fill="#000"/>
<rect x="567.77" y="369.83" width="5.04" height="75.55" fill="#fff" stroke="#000" stroke-width="1.25"/>
<rect x="573.43" y="424.54" width="6.69" height="21.46" fill="#000"/>
<rect x="583.5" y="361.27" width="5.04" height="84.11" fill="#fff" stroke="#000" stroke-width="1.25"/>
<rect x="589.16" y="435.99" width="6.69" height="10.01" fill="#000"/>
<rect x="599.23" y="394.29" width="5.04" height="51.08" fill="#fff" stroke="#000" stroke-width="1.25"/>
<rect x="614.96" y="400.9" width="5.04" height="44.48" fill="#fff" stroke="#000" stroke-width="1.25"/>
<rect x="630.69" y="429.95" width="5.04" height="15.43" fill="#fff" stroke="#000" stroke-width="1.25"/>
<rect x="646.42" y="443.49" width="5.04" height="1.88" fill="#fff" stroke="#000" stroke-width="1.25"/>
<rect x="662.15" y="441.4" width="5.04" height="3.97" fill="#fff" stroke="#000" stroke-width="1.25"/>
<rect x="677.88" y="437.02" width="5.04" height="8.35" fill="#fff" stroke="#000" stroke-width="1.25"/>
<rect x="693.61" y="441.4" width="5.04" height="3.97" fill="#fff" stroke="#000" stroke-width="1.25"/>
<line x1="424.4" y1="276.5" x2="424.4" y2="446.9" stroke="#000" stroke-width="2.4" stroke-linecap="butt"/>
<line x1="420.4" y1="445.7" x2="424.4" y2="445.7" stroke="#000" stroke-width="2" stroke-linecap="butt"/>
<text x="412.8" y="450.7" font-size="14" text-anchor="end">0</text>
<line x1="420.4" y1="412" x2="424.4" y2="412" stroke="#000" stroke-width="2" stroke-linecap="butt"/>
<text x="412.8" y="417" font-size="14" text-anchor="end">5</text>
<line x1="420.4" y1="378.3" x2="424.4" y2="378.3" stroke="#000" stroke-width="2" stroke-linecap="butt"/>
<text x="412.8" y="383.3" font-size="14" text-anchor="end">10</text>
<line x1="420.4" y1="344.6" x2="424.4" y2="344.6" stroke="#000" stroke-width="2" stroke-linecap="butt"/>
<text x="412.8" y="349.6" font-size="14" text-anchor="end">15</text>
<line x1="420.4" y1="310.9" x2="424.4" y2="310.9" stroke="#000" stroke-width="2" stroke-linecap="butt"/>
<text x="412.8" y="315.9" font-size="14" text-anchor="end">20</text>
<line x1="420.4" y1="277.2" x2="424.4" y2="277.2" stroke="#000" stroke-width="2" stroke-linecap="butt"/>
<text x="412.8" y="282.2" font-size="14" text-anchor="end">25</text>
<line x1="423.2" y1="446.2" x2="708.14" y2="446.2" stroke="#000" stroke-width="2.4" stroke-linecap="butt"/>
<line x1="424" y1="445.7" x2="424" y2="449.7" stroke="#000" stroke-width="2" stroke-linecap="butt"/>
<line x1="439.73" y1="445.7" x2="439.73" y2="449.7" stroke="#000" stroke-width="2" stroke-linecap="butt"/>
<line x1="455.46" y1="445.7" x2="455.46" y2="449.7" stroke="#000" stroke-width="2" stroke-linecap="butt"/>
<line x1="471.19" y1="445.7" x2="471.19" y2="449.7" stroke="#000" stroke-width="2" stroke-linecap="butt"/>
<line x1="486.92" y1="445.7" x2="486.92" y2="449.7" stroke="#000" stroke-width="2" stroke-linecap="butt"/>
<line x1="502.65" y1="445.7" x2="502.65" y2="449.7" stroke="#000" stroke-width="2" stroke-linecap="butt"/>
<line x1="518.38" y1="445.7" x2="518.38" y2="449.7" stroke="#000" stroke-width="2" stroke-linecap="butt"/>
<line x1="534.11" y1="445.7" x2="534.11" y2="449.7" stroke="#000" stroke-width="2" stroke-linecap="butt"/>
<line x1="549.84" y1="445.7" x2="549.84" y2="449.7" stroke="#000" stroke-width="2" stroke-linecap="butt"/>
<line x1="565.57" y1="445.7" x2="565.57" y2="449.7" stroke="#000" stroke-width="2" stroke-linecap="butt"/>
<line x1="581.3" y1="445.7" x2="581.3" y2="449.7" stroke="#000" stroke-width="2" stroke-linecap="butt"/>
<line x1="597.03" y1="445.7" x2="597.03" y2="449.7" stroke="#000" stroke-width="2" stroke-linecap="butt"/>
<line x1="612.76" y1="445.7" x2="612.76" y2="449.7" stroke="#000" stroke-width="2" stroke-linecap="butt"/>
<line x1="628.49" y1="445.7" x2="628.49" y2="449.7" stroke="#000" stroke-width="2" stroke-linecap="butt"/>
<line x1="644.22" y1="445.7" x2="644.22" y2="449.7" stroke="#000" stroke-width="2" stroke-linecap="butt"/>
<line x1="659.95" y1="445.7" x2="659.95" y2="449.7" stroke="#000" stroke-width="2" stroke-linecap="butt"/>
<line x1="675.68" y1="445.7" x2="675.68" y2="449.7" stroke="#000" stroke-width="2" stroke-linecap="butt"/>
<line x1="691.41" y1="445.7" x2="691.41" y2="449.7" stroke="#000" stroke-width="2" stroke-linecap="butt"/>
<line x1="707.14" y1="445.7" x2="707.14" y2="449.7" stroke="#000" stroke-width="2" stroke-linecap="butt"/>
<text transform="translate(436.88 453.2) rotate(-90)" font-size="14" text-anchor="end">10~</text>
<text transform="translate(452.61 453.2) rotate(-90)" font-size="14" text-anchor="end">15~</text>
<text transform="translate(468.34 453.2) rotate(-90)" font-size="14" text-anchor="end">20~</text>
<text transform="translate(484.07 453.2) rotate(-90)" font-size="14" text-anchor="end">25~</text>
<text transform="translate(499.8 453.2) rotate(-90)" font-size="14" text-anchor="end">30~</text>
<text transform="translate(515.53 453.2) rotate(-90)" font-size="14" text-anchor="end">35~</text>
<text transform="translate(531.26 453.2) rotate(-90)" font-size="14" text-anchor="end">40~</text>
<text transform="translate(546.99 453.2) rotate(-90)" font-size="14" text-anchor="end">45~</text>
<text transform="translate(562.72 453.2) rotate(-90)" font-size="14" text-anchor="end">50~</text>
<text transform="translate(578.45 453.2) rotate(-90)" font-size="14" text-anchor="end">55~</text>
<text transform="translate(594.18 453.2) rotate(-90)" font-size="14" text-anchor="end">60~</text>
<text transform="translate(609.91 453.2) rotate(-90)" font-size="14" text-anchor="end">65~</text>
<text transform="translate(625.64 453.2) rotate(-90)" font-size="14" text-anchor="end">70~</text>
<text transform="translate(641.37 453.2) rotate(-90)" font-size="14" text-anchor="end">75~</text>
<text transform="translate(657.1 453.2) rotate(-90)" font-size="14" text-anchor="end">80~</text>
<text transform="translate(672.83 453.2) rotate(-90)" font-size="14" text-anchor="end">85~</text>
<text transform="translate(688.56 453.2) rotate(-90)" font-size="14" text-anchor="end">90~</text>
<text transform="translate(704.29 453.2) rotate(-90)" font-size="14" text-anchor="end">95~</text>
<text transform="translate(392.6 359.5) rotate(-90)" font-size="16.4" text-anchor="middle">IWAT population (%)</text>
<text x="561" y="494.7" font-size="16.6" text-anchor="middle">diameter (µm)</text>
<rect x="428.95" y="288.25" width="8.2" height="8.2" fill="#fff" stroke="#000" stroke-width="1.3"/>
<rect x="428.3" y="312.1" width="9.5" height="9.5" fill="#000"/>
<text x="441.4" y="297.6" font-size="16">Cont</text>
<text x="441.4" y="321.8" font-size="16">CL</text>
<rect x="648.15" y="317.76" width="25.4" height="36.09" fill="#fff" stroke="#000" stroke-width="2.5"/>
<rect x="686.5" y="327.22" width="28.3" height="27.88" fill="#000"/>
<circle cx="661.6" cy="276.1" r="1.85" fill="#fff" stroke="#000" stroke-width="1.05"/>
<circle cx="661.6" cy="279.4" r="1.85" fill="#fff" stroke="#000" stroke-width="1.05"/>
<rect x="659.25" y="284" width="4.7" height="63" rx="2.35" fill="#000"/>
<circle cx="661.6" cy="287.2" r="0.95" fill="#fff"/>
<circle cx="661.6" cy="291.6" r="0.95" fill="#fff"/>
<circle cx="661.6" cy="296.6" r="0.95" fill="#fff"/>
<circle cx="661.6" cy="301" r="0.95" fill="#fff"/>
<circle cx="661.6" cy="326.4" r="0.95" fill="#fff"/>
<circle cx="661.6" cy="330.8" r="0.95" fill="#fff"/>
<circle cx="661.6" cy="335.9" r="0.95" fill="#fff"/>
<circle cx="661.6" cy="341.6" r="0.95" fill="#fff"/>
<circle cx="661.6" cy="344.7" r="0.95" fill="#fff"/>
<rect x="698.15" y="306.1" width="4.7" height="21.9" rx="2.35" fill="#000"/>
<circle cx="700.5" cy="308.2" r="0.95" fill="#fff"/>
<circle cx="700.5" cy="312.5" r="0.95" fill="#fff"/>
<circle cx="700.5" cy="315.6" r="0.95" fill="#fff"/>
<circle cx="700.5" cy="342.5" r="0.95" fill="#fff"/>
<line x1="641.4" y1="270" x2="641.4" y2="356.1" stroke="#000" stroke-width="2.6" stroke-linecap="butt"/>
<line x1="637.4" y1="354.6" x2="641.4" y2="354.6" stroke="#000" stroke-width="2.2" stroke-linecap="butt"/>
<text x="630.6" y="359.6" font-size="14" text-anchor="end">0</text>
<line x1="637.4" y1="326.8" x2="641.4" y2="326.8" stroke="#000" stroke-width="2.2" stroke-linecap="butt"/>
<text x="630.6" y="331.8" font-size="14" text-anchor="end">40</text>
<line x1="637.4" y1="299" x2="641.4" y2="299" stroke="#000" stroke-width="2.2" stroke-linecap="butt"/>
<text x="630.6" y="304" font-size="14" text-anchor="end">80</text>
<line x1="637.4" y1="271.2" x2="641.4" y2="271.2" stroke="#000" stroke-width="2.2" stroke-linecap="butt"/>
<text x="630.6" y="276.2" font-size="14" text-anchor="end">120</text>
<line x1="640.1" y1="355.5" x2="720" y2="355.5" stroke="#000" stroke-width="2.6" stroke-linecap="butt"/>
<line x1="641.4" y1="354.6" x2="641.4" y2="358.6" stroke="#000" stroke-width="2.2" stroke-linecap="butt"/>
<line x1="680.7" y1="354.6" x2="680.7" y2="358.6" stroke="#000" stroke-width="2.2" stroke-linecap="butt"/>
<line x1="719" y1="354.6" x2="719" y2="358.6" stroke="#000" stroke-width="2.2" stroke-linecap="butt"/>
<text x="660.85" y="375.4" font-size="14" text-anchor="middle">Cont</text>
<text x="700.65" y="375.4" font-size="14" text-anchor="middle">CL</text>
<text x="680" y="251" font-size="16.2" text-anchor="middle">IWAT</text>
<text x="700.3" y="286.2" font-size="25" text-anchor="middle" font-weight="bold">**</text>
<text transform="translate(586.2 311) rotate(-90)" font-size="16.45" text-anchor="middle">Average cell</text>
<text transform="translate(605.8 307.8) rotate(-90)" font-size="16.45" text-anchor="middle">Diameter (µm)</text>
<text x="2.6" y="533.1" font-size="21.5" font-weight="bold">E</text>
<line x1="75.7" y1="527.5" x2="75.7" y2="727" stroke="#000" stroke-width="2.6" stroke-linecap="butt"/>
<line x1="71.5" y1="725" x2="75.7" y2="725" stroke="#000" stroke-width="2.2" stroke-linecap="butt"/>
<text x="60.5" y="730" font-size="14" text-anchor="end">10</text>
<text x="61.3" y="726" font-size="9.4">0</text>
<line x1="71.5" y1="696.93" x2="75.7" y2="696.93" stroke="#000" stroke-width="2.2" stroke-linecap="butt"/>
<text x="60.5" y="701.93" font-size="14" text-anchor="end">10</text>
<text x="61.3" y="697.93" font-size="9.4">1</text>
<line x1="71.5" y1="668.86" x2="75.7" y2="668.86" stroke="#000" stroke-width="2.2" stroke-linecap="butt"/>
<text x="60.5" y="673.86" font-size="14" text-anchor="end">10</text>
<text x="61.3" y="669.86" font-size="9.4">2</text>
<line x1="71.5" y1="640.79" x2="75.7" y2="640.79" stroke="#000" stroke-width="2.2" stroke-linecap="butt"/>
<text x="60.5" y="645.79" font-size="14" text-anchor="end">10</text>
<text x="61.3" y="641.79" font-size="9.4">3</text>
<line x1="71.5" y1="612.72" x2="75.7" y2="612.72" stroke="#000" stroke-width="2.2" stroke-linecap="butt"/>
<text x="60.5" y="617.72" font-size="14" text-anchor="end">10</text>
<text x="61.3" y="613.72" font-size="9.4">4</text>
<line x1="71.5" y1="584.65" x2="75.7" y2="584.65" stroke="#000" stroke-width="2.2" stroke-linecap="butt"/>
<text x="60.5" y="589.65" font-size="14" text-anchor="end">10</text>
<text x="61.3" y="585.65" font-size="9.4">5</text>
<line x1="71.5" y1="556.58" x2="75.7" y2="556.58" stroke="#000" stroke-width="2.2" stroke-linecap="butt"/>
<text x="60.5" y="561.58" font-size="14" text-anchor="end">10</text>
<text x="61.3" y="557.58" font-size="9.4">6</text>
<line x1="71.5" y1="528.51" x2="75.7" y2="528.51" stroke="#000" stroke-width="2.2" stroke-linecap="butt"/>
<text x="60.5" y="533.51" font-size="14" text-anchor="end">10</text>
<text x="61.3" y="529.51" font-size="9.4">7</text>
<line x1="74.4" y1="725.1" x2="271.5" y2="725.1" stroke="#000" stroke-width="2.6" stroke-linecap="butt"/>
<line x1="75.7" y1="725" x2="75.7" y2="729" stroke="#000" stroke-width="2.2" stroke-linecap="butt"/>
<line x1="141.5" y1="725" x2="141.5" y2="729" stroke="#000" stroke-width="2.2" stroke-linecap="butt"/>
<line x1="206.5" y1="725" x2="206.5" y2="729" stroke="#000" stroke-width="2.2" stroke-linecap="butt"/>
<line x1="270.5" y1="725" x2="270.5" y2="729" stroke="#000" stroke-width="2.2" stroke-linecap="butt"/>
<rect x="86.7" y="563.1" width="19.5" height="161.8" fill="#fff" stroke="#000" stroke-width="2.2"/>
<rect x="107.3" y="544.1" width="23.4" height="181.9" fill="#000"/>
<rect x="151.7" y="652.8" width="19.6" height="72.1" fill="#fff" stroke="#000" stroke-width="2.2"/>
<rect x="172.4" y="634.7" width="23.5" height="91.3" fill="#000"/>
<rect x="217.3" y="669" width="19" height="55.9" fill="#fff" stroke="#000" stroke-width="2.2"/>
<rect x="237.4" y="585.1" width="23.8" height="140.9" fill="#000"/>
<line x1="163.1" y1="651.7" x2="163.1" y2="643.4" stroke="#000" stroke-width="1.4" stroke-linecap="butt"/>
<line x1="159.5" y1="643.4" x2="166.7" y2="643.4" stroke="#000" stroke-width="1.4" stroke-linecap="butt"/>
<line x1="228.1" y1="667.9" x2="228.1" y2="661" stroke="#000" stroke-width="1.4" stroke-linecap="butt"/>
<line x1="225" y1="661" x2="231.2" y2="661" stroke="#000" stroke-width="1.4" stroke-linecap="butt"/>
<path fill="#fff" stroke="#000" stroke-width="1.25" d="M95.9 559.5a1.8 1.8 0 1 0 3.6 0a1.8 1.8 0 1 0 -3.6 0M95.9 562.5a1.8 1.8 0 1 0 3.6 0a1.8 1.8 0 1 0 -3.6 0M95.9 565.5a1.8 1.8 0 1 0 3.6 0a1.8 1.8 0 1 0 -3.6 0"/>
<path fill="#fff" stroke="#000" stroke-width="1.25" d="M117.1 541.8a1.8 1.8 0 1 0 3.6 0a1.8 1.8 0 1 0 -3.6 0M117.1 545a1.8 1.8 0 1 0 3.6 0a1.8 1.8 0 1 0 -3.6 0"/>
<path fill="#fff" stroke="#000" stroke-width="1.25" d="M161.3 639.5a1.8 1.8 0 1 0 3.6 0a1.8 1.8 0 1 0 -3.6 0M161.3 649.4a1.8 1.8 0 1 0 3.6 0a1.8 1.8 0 1 0 -3.6 0M161.3 661.7a1.8 1.8 0 1 0 3.6 0a1.8 1.8 0 1 0 -3.6 0M161.3 665.6a1.8 1.8 0 1 0 3.6 0a1.8 1.8 0 1 0 -3.6 0"/>
<path fill="#fff" stroke="#000" stroke-width="1.25" d="M182.2 628.5a1.8 1.8 0 1 0 3.6 0a1.8 1.8 0 1 0 -3.6 0M182.2 631.8a1.8 1.8 0 1 0 3.6 0a1.8 1.8 0 1 0 -3.6 0"/>
<path fill="#fff" stroke="none" stroke-width="0" d="M183 636.6a1 1 0 1 0 2 0a1 1 0 1 0 -2 0M183 643.4a1 1 0 1 0 2 0a1 1 0 1 0 -2 0"/>
<path fill="#fff" stroke="#000" stroke-width="1.25" d="M226.3 659.4a1.8 1.8 0 1 0 3.6 0a1.8 1.8 0 1 0 -3.6 0M226.3 663.6a1.8 1.8 0 1 0 3.6 0a1.8 1.8 0 1 0 -3.6 0M226.3 669.4a1.8 1.8 0 1 0 3.6 0a1.8 1.8 0 1 0 -3.6 0M226.3 675.2a1.8 1.8 0 1 0 3.6 0a1.8 1.8 0 1 0 -3.6 0M226.3 679.4a1.8 1.8 0 1 0 3.6 0a1.8 1.8 0 1 0 -3.6 0"/>
<path fill="#fff" stroke="#000" stroke-width="1.25" d="M247.2 579.6a1.8 1.8 0 1 0 3.6 0a1.8 1.8 0 1 0 -3.6 0M247.2 582.6a1.8 1.8 0 1 0 3.6 0a1.8 1.8 0 1 0 -3.6 0"/>
<path fill="#fff" stroke="none" stroke-width="0" d="M248 586.4a1 1 0 1 0 2 0a1 1 0 1 0 -2 0M248 592.9a1 1 0 1 0 2 0a1 1 0 1 0 -2 0"/>
<text x="119.6" y="539" font-size="25.5" text-anchor="middle" font-weight="bold">***</text>
<text x="185.1" y="628.3" font-size="25.5" text-anchor="middle" font-weight="bold">*</text>
<text x="249.4" y="579.7" font-size="25.5" text-anchor="middle" font-weight="bold">***</text>
<text x="108.4" y="745.2" font-size="14.2" text-anchor="middle">BAT</text>
<text x="173.2" y="745.2" font-size="14.2" text-anchor="middle">EWAT</text>
<text x="238.2" y="745.2" font-size="14.2" text-anchor="middle">IWAT</text>
<rect x="220.2" y="525.2" width="7.4" height="7.2" fill="#fff" stroke="#000" stroke-width="2"/>
<rect x="219.2" y="546.1" width="9.4" height="9.1" fill="#000"/>
<text x="231" y="532.9" font-size="13.6">Cont</text>
<text x="231" y="555.3" font-size="13.6">CL</text>
<text transform="translate(22.3 625.6) rotate(-90)" font-size="14.6" text-anchor="middle"><tspan font-style="italic">Ucp-1</tspan> mRNA expression</text>
<text transform="translate(37.6 625.5) rotate(-90)" font-size="14.7" text-anchor="middle">(% of IWAT Cont)</text>
<text x="293.3" y="532.8" font-size="20.8" font-weight="bold">F</text>
<text x="365.5" y="559.2" font-size="13.6" text-anchor="middle">BAT</text>
<text x="439" y="559.2" font-size="13.6" text-anchor="middle">EWAT</text>
<text x="513.4" y="559.2" font-size="13.6" text-anchor="middle">IWAT</text>
<text x="308.5" y="603.6" font-size="13.6" text-anchor="middle">Cont</text>
<text x="308.9" y="670" font-size="13.6" text-anchor="middle">CL</text>
<rect x="331.5" y="566.5" width="70.5" height="64" filter="url(#n3)"/>
<rect x="331.5" y="632.5" width="70.5" height="64.5" filter="url(#n4)"/>
<clipPath id="c5"><rect x="404" y="566.5" width="73.5" height="64"/></clipPath>
<g clip-path="url(#c5)">
<rect x="404" y="566.5" width="73.5" height="64" fill="#ddd2da"/>
<path fill="none" stroke="#8e7680" stroke-width="0.7" stroke-linecap="round" d="M426.1 636.5L426.4 635.4M426.4 635.4L434.3 636.3M423.6 630.0L425.5 631.0M423.6 630.0L416.8 634.2M416.8 634.2L417.0 637.0M426.4 635.4L425.5 631.0M492.6 621.0L480.5 616.8M484.4 624.1L480.5 616.8M483.8 611.6L480.4 616.6M480.5 616.8L480.4 616.6M480.4 616.6L475.3 618.0M474.5 612.8L475.3 618.0M474.5 612.8L476.7 609.7M476.7 609.7L483.7 610.2M423.6 630.0L420.5 624.7M420.5 624.7L420.7 624.1M420.7 624.1L427.1 620.4M427.1 620.4L430.4 623.0M425.5 631.0L427.4 629.9M430.4 623.0L427.4 629.9M427.1 618.4L427.1 620.4M427.1 618.4L433.8 616.5M434.1 622.7L430.4 623.0M434.1 622.7L435.3 620.8M435.3 620.8L433.8 616.5M472.4 637.6L475.1 634.8M475.1 634.8L481.6 635.7M487.0 637.2L482.2 635.4M484.3 627.7L481.2 631.1M481.2 631.1L482.2 635.4M481.6 635.7L482.2 635.4M475.5 559.5L472.0 562.1M468.9 560.5L472.0 562.1M450.2 564.0L442.0 562.1M450.2 564.0L450.5 563.4M441.1 557.4L442.0 562.1M450.5 563.4L446.9 556.4M421.0 581.5L423.3 580.8M421.0 581.5L415.8 576.8M415.8 576.8L417.8 573.6M424.4 579.4L423.3 580.8M424.4 579.4L422.3 575.2M422.3 575.2L417.8 573.6M430.2 575.6L425.5 570.9M430.2 575.6L427.9 578.5M427.9 578.5L424.4 579.4M422.3 575.2L425.5 570.9M450.3 565.0L450.2 564.0M450.3 565.0L448.5 567.4M442.0 562.1L440.9 563.6M440.9 563.6L442.3 569.5M442.3 569.5L448.5 567.4M418.3 585.2L423.3 590.2M418.3 585.2L421.0 581.5M423.3 580.8L426.7 587.1M423.3 590.2L426.7 587.1M424.4 599.6L425.7 593.7M424.4 599.6L423.3 600.7M425.7 593.7L423.1 591.5M423.1 591.5L417.9 595.3M417.9 595.3L417.2 598.3M417.2 598.3L423.3 600.7M424.4 599.6L428.8 598.5M428.8 598.5L431.0 605.0M423.3 600.7L424.9 604.1M431.0 605.0L424.9 604.1M426.4 616.7L422.9 614.6M426.4 616.7L431.9 610.4M422.9 614.6L424.7 610.4M431.9 610.4L424.7 610.4M419.5 619.6L420.7 624.1M419.5 619.6L420.9 615.0M427.1 618.4L426.4 616.7M420.9 615.0L422.9 614.6M417.2 569.6L417.8 573.6M417.2 569.6L418.8 567.4M425.0 568.3L425.5 570.9M425.0 568.3L422.6 567.0M422.6 567.0L418.8 567.4M426.4 560.2L423.9 562.3M423.9 562.3L419.0 558.2M415.2 561.0L418.8 567.4M423.9 562.3L422.6 567.0M399.4 615.5L395.3 617.5M399.4 615.5L395.5 608.6M406.9 605.2L404.1 607.3M406.9 605.2L406.2 600.2M406.2 600.2L401.0 598.8M401.0 598.8L402.0 606.0M402.0 606.0L404.1 607.3M400.0 615.5L404.4 611.8M400.0 615.5L399.4 615.5M404.4 611.8L404.1 607.3M395.3 606.3L402.0 606.0M401.9 618.7L409.2 619.5M401.9 618.7L402.2 623.5M402.2 623.5L402.4 623.8M402.4 623.8L410.7 621.2M409.2 619.5L410.7 621.1M410.7 621.2L410.7 621.1M400.0 615.5L401.9 618.7M404.4 611.8L407.0 613.0M407.0 613.0L409.2 619.5M395.8 623.5L402.2 623.5M416.8 634.2L414.7 632.6M420.5 624.7L414.5 625.6M414.7 632.6L414.5 625.6M419.5 619.6L413.5 618.1M413.5 618.1L410.7 621.1M410.7 621.2L412.0 624.4M414.5 625.6L412.0 624.4M474.5 612.8L469.9 610.4M469.9 610.4L466.6 613.1M472.4 618.3L466.5 614.1M472.4 618.3L475.2 618.0M475.2 618.0L475.3 618.0M466.5 614.1L466.6 613.1M455.1 596.6L450.8 600.6M455.1 596.6L450.6 592.7M450.8 600.6L445.7 597.6M450.6 592.7L445.5 593.5M445.7 597.6L445.5 593.5M459.4 603.8L459.2 601.8M459.4 603.8L456.3 606.2M451.0 602.6L456.3 606.2M451.0 602.6L450.8 600.6M455.1 596.6L456.0 596.6M456.0 596.6L459.2 601.8M431.0 605.0L431.6 605.3M424.9 604.1L422.9 607.0M422.9 607.0L424.7 610.4M431.9 610.4L432.6 610.1M431.6 605.3L432.6 610.1M433.8 616.5L434.4 611.3M434.4 611.3L432.6 610.1M478.3 629.8L475.2 630.4M478.3 629.8L478.7 624.4M475.2 630.4L473.0 628.9M476.4 622.9L478.7 624.4M476.4 622.9L472.6 627.1M472.6 627.1L473.0 628.9M475.1 634.8L475.2 630.4M481.2 631.1L478.3 629.8M484.4 624.1L478.7 624.4M468.2 636.1L467.9 633.4M467.9 633.4L473.0 628.9M475.2 618.0L476.4 622.9M467.1 624.0L467.1 623.9M467.1 624.0L472.6 627.1M467.1 623.9L472.4 618.3M467.1 624.0L464.3 629.1M467.9 633.4L464.3 629.1M466.9 637.1L459.8 635.2M459.8 635.2L455.2 663.6M486.9 598.9L481.4 597.2M483.6 606.9L479.1 602.5M479.1 602.5L481.4 597.2M463.5 605.2L466.7 603.8M463.5 605.2L463.7 609.8M469.9 610.4L470.5 606.6M463.7 609.8L466.6 613.1M466.7 603.8L470.5 606.6M476.7 609.7L474.4 605.3M470.5 606.6L474.4 605.3M452.7 561.6L455.8 555.5M452.7 561.6L460.3 563.9M459.8 556.8L462.5 562.4M462.5 562.4L460.3 563.9M450.5 563.4L452.7 561.6M450.3 565.0L455.2 569.2M459.2 566.3L455.2 569.2M459.2 566.3L460.3 563.9M463.1 562.5L468.9 560.5M463.1 562.5L462.5 562.4M481.0 560.3L480.9 567.9M480.9 567.9L484.0 568.9M472.0 562.1L472.6 566.3M472.6 566.3L477.3 569.5M480.9 567.9L477.3 569.5M399.0 561.5L399.6 566.5M399.0 561.5L393.7 559.6M399.6 566.5L398.3 567.4M453.8 586.7L445.8 585.1M453.8 586.7L450.6 592.7M445.5 593.5L444.6 592.6M444.6 592.6L444.4 586.2M445.8 585.1L444.4 586.2M437.0 564.5L433.2 560.6M437.0 564.5L436.2 566.3M436.2 566.3L431.3 567.7M430.5 562.5L433.2 560.6M430.5 562.5L429.8 566.6M429.8 566.6L431.3 567.7M440.9 563.6L437.0 564.5M442.3 569.5L441.1 571.9M441.1 571.9L438.4 572.5M438.4 572.5L436.2 566.3M435.4 574.9L438.4 572.5M435.4 574.9L433.7 574.5M433.7 574.5L431.3 567.7M426.4 560.2L430.5 562.5M425.0 568.3L429.8 566.6M430.2 575.6L433.7 574.5M427.4 587.1L430.8 594.9M427.4 587.1L432.3 585.4M432.3 585.4L432.8 585.5M432.8 585.5L434.8 588.1M434.8 588.1L435.0 591.4M435.0 591.4L432.6 594.7M432.6 594.7L430.9 594.9M430.9 594.9L430.8 594.9M425.7 593.7L430.8 594.9M423.1 591.5L423.3 590.2M426.7 587.1L427.4 587.1M427.9 578.5L432.3 585.4M437.0 579.4L432.8 585.5M437.0 579.4L435.4 574.9M437.0 579.4L438.9 580.2M438.9 580.2L442.7 585.6M442.7 585.6L434.8 588.1M440.4 593.3L444.6 592.6M440.4 593.3L435.0 591.4M444.4 586.2L442.7 585.6M428.8 598.5L430.9 594.9M407.3 591.1L415.4 591.4M407.3 591.1L408.1 586.8M408.1 586.8L411.8 583.6M411.8 583.6L416.0 585.7M416.0 585.7L415.4 591.4M417.9 595.3L415.4 591.4M417.2 598.3L415.2 599.8M415.2 599.8L409.5 596.8M409.5 596.8L406.7 592.0M406.7 592.0L407.3 591.1M418.3 585.2L416.0 585.7M401.0 598.8L400.6 598.3M398.8 598.4L400.6 598.3M409.5 596.8L406.2 600.2M406.7 592.0L403.4 592.6M400.6 598.3L403.4 592.6M399.0 561.5L402.4 557.7M399.6 566.5L403.9 567.1M407.2 565.7L403.9 567.1M407.2 565.7L407.7 564.4M402.4 557.7L407.7 564.4M417.2 569.6L410.3 569.9M410.3 569.9L407.2 565.7M412.2 560.8L407.7 564.4M414.2 614.6L411.1 612.1M414.2 614.6L418.2 613.0M411.1 612.1L414.0 604.6M418.2 613.0L418.0 607.8M418.0 607.8L414.1 604.5M414.0 604.6L414.1 604.5M407.0 613.0L411.1 612.1M413.5 618.1L414.2 614.6M420.9 615.0L418.2 613.0M406.9 605.2L414.0 604.6M422.9 607.0L418.0 607.8M415.2 599.8L414.1 604.5M402.4 623.8L403.2 628.8M403.2 628.8L394.8 629.7M467.1 623.9L463.9 620.9M466.5 614.1L462.9 617.5M463.9 620.9L462.9 617.5M443.3 624.8L441.4 619.6M443.3 624.8L448.5 625.3M448.5 625.3L449.0 624.4M449.0 624.4L446.8 617.2M441.4 619.6L442.6 617.2M442.6 617.2L446.8 617.2M434.1 622.7L435.6 626.1M435.3 620.8L441.4 619.6M435.6 626.1L442.0 626.5M442.0 626.5L443.3 624.8M440.2 611.2L434.4 611.3M440.2 611.2L442.6 617.2M442.1 635.9L447.2 634.8M442.1 635.9L440.6 634.2M441.9 630.8L440.6 634.2M441.9 630.8L449.8 629.4M447.2 634.8L449.8 629.4M447.2 634.8L452.0 638.3M442.0 626.5L441.9 630.8M448.5 625.3L450.3 628.8M449.8 629.4L450.3 628.8M459.7 629.8L459.5 634.7M459.7 629.8L457.5 628.2M457.5 628.2L453.0 629.5M459.5 634.7L453.5 636.0M453.5 636.0L453.0 629.5M464.3 629.1L459.7 629.8M459.8 635.2L459.5 634.7M463.9 620.9L457.6 624.9M457.6 624.9L457.5 628.2M457.6 624.9L454.6 620.0M454.6 620.0L449.0 624.4M450.3 628.8L453.0 629.5M456.0 596.6L458.7 593.6M459.2 601.8L464.7 596.8M458.7 593.6L462.9 593.8M462.9 593.8L464.7 596.8M463.5 605.2L459.4 603.8M466.7 603.8L467.9 599.2M467.9 599.2L467.5 598.5M467.5 598.5L464.7 596.8M431.3 630.2L435.2 627.8M431.3 630.2L435.2 635.4M435.2 627.8L439.0 634.0M435.2 635.4L439.0 634.0M427.4 629.9L431.3 630.2M435.6 626.1L435.2 627.8M434.3 636.3L435.2 635.4M440.6 634.2L439.0 634.0M463.1 562.5L465.9 569.4M472.6 566.3L467.5 570.3M465.9 569.4L467.5 570.3M459.2 566.3L462.4 570.2M465.9 569.4L462.4 570.2M455.2 569.2L455.4 570.6M455.4 570.6L459.4 573.3M462.4 570.2L459.4 573.3M477.2 602.9L473.8 598.1M477.2 602.9L474.5 605.2M474.5 605.2L470.7 599.3M473.8 598.1L470.7 599.3M479.1 602.5L477.2 602.9M474.4 605.3L474.5 605.2M467.9 599.2L470.7 599.3M415.8 576.8L413.3 577.9M410.3 569.9L409.7 572.6M409.7 572.6L413.3 577.9M411.8 583.6L411.6 580.7M413.3 577.9L411.6 580.7M445.0 575.2L448.5 574.7M445.0 575.2L444.1 577.9M444.1 577.9L446.4 582.9M446.4 582.9L451.9 578.0M448.5 574.7L451.0 576.0M451.0 576.0L451.9 578.0M441.1 571.9L445.0 575.2M448.5 567.4L448.5 574.7M438.9 580.2L444.1 577.9M445.8 585.1L446.4 582.9M455.4 570.6L451.0 576.0M403.4 592.6L400.4 590.6M400.4 590.6L394.6 593.9M408.1 586.8L404.2 584.2M404.2 584.2L398.0 585.8M400.4 590.6L398.0 585.8M408.6 627.7L411.4 633.2M408.6 627.7L403.6 629.2M403.6 629.2L404.7 636.8M411.4 633.2L407.2 637.2M414.7 632.6L411.4 633.2M412.0 624.4L408.6 627.7M403.2 628.8L403.6 629.2M458.8 616.3L454.7 618.9M458.8 616.3L458.2 611.9M454.7 618.9L450.3 615.4M458.2 611.9L455.6 608.9M455.6 608.9L450.6 611.4M450.3 615.4L450.6 611.4M462.9 617.5L458.8 616.3M454.6 620.0L454.7 618.9M463.7 609.8L458.2 611.9M446.8 617.2L450.3 615.4M456.3 606.2L455.6 608.9M451.0 602.6L448.7 604.9M448.7 604.9L448.2 609.5M448.2 609.5L450.6 611.4M440.2 611.2L441.4 609.8M441.4 609.8L448.2 609.5M441.5 605.6L443.5 603.1M441.5 605.6L435.5 601.5M438.5 598.9L443.8 599.9M438.5 598.9L435.7 600.1M443.8 599.9L443.5 603.1M435.7 600.1L435.5 601.5M441.4 609.8L441.5 605.6M448.7 604.9L443.5 603.1M431.6 605.3L435.5 601.5M445.7 597.6L443.8 599.9M440.4 593.3L438.5 598.9M432.6 594.7L435.7 600.1M453.8 586.7L455.0 586.2M451.9 578.0L454.7 580.0M454.7 580.0L455.0 586.2M458.7 593.6L456.5 587.0M456.5 587.0L455.0 586.2M409.7 572.6L405.5 575.1M411.6 580.7L405.3 578.1M405.5 575.1L405.3 578.1M403.9 567.1L403.4 573.1M405.5 575.1L403.4 573.1M404.2 584.2L404.0 579.0M404.0 579.0L405.3 578.1M462.9 593.8L465.0 590.7M467.5 598.5L469.9 593.9M465.0 590.7L469.9 593.9M459.4 573.3L459.6 573.9M454.7 580.0L458.8 578.1M459.6 573.9L458.8 578.1M403.4 573.1L400.7 573.6M404.0 579.0L399.6 578.8M399.6 578.8L400.7 573.6M397.5 571.5L400.7 573.6M473.8 598.1L475.4 594.9M469.9 593.9L473.0 592.2M473.0 592.2L475.4 594.9M486.6 589.9L481.7 591.7M483.9 581.8L478.9 587.7M478.9 587.7L481.7 591.7M481.4 597.2L480.3 595.0M475.4 594.9L480.3 595.0M480.3 595.0L481.7 591.7M473.0 592.2L472.7 587.8M478.9 587.7L475.6 586.8M475.6 586.8L472.7 587.8M399.6 578.8L396.2 580.2M467.5 570.3L467.6 571.3M459.6 573.9L465.7 575.1M467.6 571.3L465.7 575.1M472.2 575.0L471.8 578.9M472.2 575.0L476.9 571.8M471.8 578.9L477.5 579.9M476.9 571.8L479.1 576.2M479.1 576.2L479.8 578.8M479.8 578.8L477.5 579.9M477.3 569.5L476.9 571.8M467.6 571.3L472.2 575.0M485.4 570.9L479.1 576.2M483.4 580.1L479.8 578.8M475.6 586.8L477.5 579.9M469.0 581.0L466.2 579.7M469.0 581.0L469.9 586.1M461.0 585.7L463.0 580.5M461.0 585.7L465.6 588.6M463.0 580.5L466.2 579.7M465.6 588.6L469.9 586.1M465.7 575.1L466.2 579.7M471.8 578.9L469.0 581.0M472.7 587.8L469.9 586.1M456.5 587.0L461.0 585.7M458.8 578.1L463.0 580.5M465.0 590.7L465.6 588.6"/>
<path stroke="#8a5a50" stroke-width="0.6" stroke-linecap="round" d="M406.4 617.0h0M457.9 609.9h0M462.6 615.8h0M456.1 570.8h0M442.6 587.6h0M459.2 607.2h0M453.4 614.2h0"/>
<path stroke="#8a5a50" stroke-width="1" stroke-linecap="round" d="M449.4 610.8h0M429.1 618.4h0M447.5 578.2h0M473.1 592.9h0M418.6 580.6h0M462.2 597.2h0M467.7 569.7h0M475.4 603.8h0M423.1 610.9h0M461.7 622.2h0"/>
<path stroke="#8a5a50" stroke-width="1.4" stroke-linecap="round" d="M461.8 572.4h0M470.5 614.2h0M447.4 594.4h0"/>
</g>
<clipPath id="c6"><rect x="404" y="632.5" width="73.5" height="64.5"/></clipPath>
<g clip-path="url(#c6)">
<rect x="404" y="632.5" width="73.5" height="64.5" fill="#ddd3d8"/>
<path fill="none" stroke="#9c6c60" stroke-width="0.8" stroke-linecap="round" d="M482.0 689.7L482.7 690.9M482.0 689.7L484.5 686.7M484.5 673.2L482.5 677.5M482.5 677.5L489.2 681.6M489.2 681.6L481.6 682.5M484.2 686.5L481.6 682.5M482.5 677.5L481.6 677.9M481.6 677.9L480.4 681.9M480.4 681.9L481.6 682.5M482.0 689.7L479.3 689.4M478.8 685.3L484.2 686.5M478.8 685.3L479.1 689.1M479.3 689.4L479.1 689.1M478.8 685.3L478.1 683.6M479.1 689.1L473.8 687.6M473.8 687.6L474.2 685.4M474.2 685.4L478.1 683.6M480.4 681.9L478.2 683.2M478.2 683.2L478.1 683.6M426.9 780.7L429.3 701.5M429.3 701.5L430.8 701.0M430.8 701.0L433.2 702.9M481.6 630.5L483.1 627.7M481.6 630.5L482.3 633.0M487.5 633.0L482.3 633.0M472.2 627.9L475.6 630.9M472.2 627.9L474.2 625.4M475.6 630.9L477.3 628.7M477.3 628.7L477.6 626.1M481.6 630.5L477.3 628.7M450.9 649.8L447.7 647.1M450.9 649.8L452.2 649.3M447.7 647.1L447.7 645.2M452.2 649.3L454.3 645.5M447.7 644.9L447.7 645.2M447.7 644.9L449.0 643.8M449.0 643.8L454.3 645.5M472.8 681.9L475.8 680.2M472.8 681.9L470.4 678.3M470.4 678.3L472.4 676.7M472.4 676.7L475.3 677.1M475.3 677.1L475.8 680.2M474.2 685.4L472.4 683.8M472.4 683.8L472.8 681.9M478.2 683.2L475.8 680.2M481.6 677.9L477.1 675.8M477.1 675.8L475.3 677.1M398.9 697.4L403.9 694.2M403.9 694.2L403.5 692.8M403.5 692.8L398.7 692.0M401.0 688.5L398.3 689.6M401.0 688.5L405.0 690.4M403.5 692.8L405.0 690.4M401.0 688.5L402.6 685.1M399.3 684.7L397.2 688.4M399.3 684.7L402.6 685.1M397.9 682.1L399.3 684.7M399.0 713.5L400.8 701.8M400.8 701.8L399.3 698.5M396.7 700.6L399.3 698.5M398.9 697.4L399.3 698.5M399.3 698.5L399.3 698.5M467.2 689.1L469.2 690.4M467.2 689.1L466.1 685.7M466.1 685.7L468.1 683.9M472.3 688.9L469.2 690.4M472.3 688.9L468.9 684.0M468.9 684.0L468.1 683.9M461.1 688.8L462.6 685.4M461.1 688.8L463.6 692.0M463.6 692.0L467.2 689.1M462.6 685.4L463.8 685.2M463.8 685.2L466.1 685.7M473.8 687.6L473.0 688.8M472.4 683.8L468.9 684.0M473.0 688.8L472.3 688.9M466.3 703.7L468.6 699.4M468.6 699.4L472.0 702.2M480.0 702.9L484.2 700.3M487.6 693.6L482.1 697.3M484.2 700.3L482.1 697.3M455.8 679.7L455.9 676.6M455.8 679.7L453.9 680.5M453.9 680.5L452.3 680.0M452.3 680.0L451.7 675.9M455.9 676.6L453.7 675.2M451.7 675.9L453.7 675.2M449.4 690.5L446.9 693.5M449.4 690.5L447.2 688.0M446.9 693.5L443.7 689.1M447.2 688.0L443.7 689.1M450.6 697.1L449.5 697.2M450.6 697.1L453.5 693.2M446.9 693.5L446.9 693.5M446.9 693.5L447.3 695.8M447.3 695.8L449.5 697.2M450.3 690.5L453.5 693.2M450.3 690.5L449.4 690.5M446.9 693.5L441.9 693.2M441.9 693.2L441.5 692.0M441.5 692.0L442.7 689.0M442.7 689.0L443.7 689.1M450.6 697.1L453.9 699.9M453.9 699.9L448.9 702.9M449.5 697.2L448.0 701.2M448.9 702.9L448.0 701.2M451.4 688.9L456.2 688.2M451.4 688.9L451.7 685.2M452.9 684.8L451.7 685.2M452.9 684.8L456.0 686.3M456.0 686.3L456.2 688.2M455.8 679.7L458.8 681.7M453.9 680.5L452.9 684.8M459.1 683.0L458.8 681.7M459.1 683.0L456.0 686.3M459.2 689.4L456.3 688.4M459.2 689.4L459.0 693.6M456.3 688.4L454.6 693.1M454.6 693.1L456.9 694.6M459.0 693.6L456.9 694.6M461.1 688.8L459.2 689.4M462.6 685.4L459.1 683.0M456.2 688.2L456.3 688.4M462.3 693.9L463.3 693.5M462.3 693.9L459.0 693.6M463.6 692.0L463.3 693.5M450.3 690.5L451.4 688.9M453.5 693.2L454.6 693.1M459.9 697.9L457.0 695.4M459.9 697.9L460.0 700.9M460.0 700.9L459.6 701.4M459.6 701.4L456.5 701.1M457.0 695.4L454.9 700.3M456.5 701.1L455.0 700.5M455.0 700.5L454.9 700.3M462.3 693.9L461.2 696.9M461.2 696.9L459.9 697.9M456.9 694.6L457.0 695.4M461.2 696.9L463.7 698.6M462.5 700.4L463.7 698.6M462.5 700.4L460.0 700.9M462.5 700.4L466.3 703.7M464.6 720.5L459.6 701.4M462.3 833.0L456.5 701.1M453.9 699.9L454.9 700.3M449.9 712.6L455.0 700.5M464.4 694.5L469.5 693.3M464.4 694.5L465.5 697.5M465.5 697.5L468.6 699.0M470.1 694.2L469.5 693.3M470.1 694.2L469.1 698.5M469.1 698.5L468.6 699.0M463.3 693.5L464.4 694.5M469.2 690.4L469.5 693.3M463.7 698.6L465.5 697.5M468.6 699.4L468.6 699.0M478.9 666.7L481.4 665.8M478.9 666.7L476.0 662.3M481.4 665.8L477.5 660.9M476.0 662.3L477.5 660.9M484.3 673.1L478.8 671.9M482.9 668.7L478.4 670.2M478.4 670.2L478.8 671.9M483.6 665.7L481.4 665.8M478.9 666.7L477.7 669.2M478.4 670.2L477.7 669.2M477.1 675.8L477.3 674.8M477.3 674.8L478.8 671.9M469.4 644.9L465.1 647.3M469.4 644.9L471.5 645.3M465.1 647.3L465.2 648.4M471.5 645.3L470.2 648.1M470.2 648.1L466.4 649.4M465.2 648.4L466.4 649.4M446.5 627.2L444.7 631.4M440.4 629.1L441.1 626.5M440.4 629.1L442.2 631.6M442.2 631.6L444.7 631.4M398.7 634.0L399.0 633.1M399.0 633.1L397.0 629.5M435.1 642.7L438.1 639.9M435.1 642.7L436.7 645.3M438.1 639.9L440.6 643.9M436.7 645.3L437.7 645.8M437.7 645.8L440.0 645.3M440.6 643.9L440.0 645.3M443.0 642.0L440.6 643.9M443.0 642.0L447.7 644.9M447.7 645.2L441.3 646.7M441.3 646.7L440.0 645.3M411.7 650.5L412.5 652.8M411.7 650.5L409.4 650.3M412.5 652.8L407.3 653.2M409.4 650.3L407.1 652.8M407.3 653.2L407.1 652.8M407.7 647.9L404.7 649.3M407.7 647.9L409.4 650.3M404.7 649.3L405.8 652.2M405.8 652.2L407.1 652.8M408.0 656.0L411.2 656.0M408.0 656.0L407.3 653.2M412.5 652.8L412.7 653.1M412.7 653.1L411.2 656.0M469.5 631.9L468.8 630.6M469.5 631.9L469.2 633.0M468.8 630.6L463.0 633.8M463.0 633.8L464.1 634.9M469.2 633.0L464.1 634.9M468.5 628.8L467.6 628.4M468.5 628.8L469.9 628.0M467.6 628.4L466.8 621.7M469.9 628.0L471.1 622.5M462.6 632.2L462.5 633.5M462.6 632.2L465.7 628.3M468.8 630.6L468.5 628.8M465.7 628.3L467.6 628.4M462.5 633.5L463.0 633.8M472.2 627.9L469.9 628.0M465.7 628.3L462.4 625.9M457.2 630.2L455.1 626.9M457.2 630.2L460.4 628.7M460.4 628.7L461.1 626.3M462.6 632.2L460.4 628.7M476.0 662.3L475.6 662.4M477.7 669.2L473.7 668.7M475.6 662.4L473.7 668.7M470.4 678.3L470.0 678.4M468.1 683.9L468.1 680.5M468.1 680.5L470.0 678.4M468.1 672.6L471.1 672.5M468.1 672.6L467.0 675.4M471.1 672.5L472.4 676.7M470.0 678.4L467.0 675.4M455.9 676.6L459.1 674.1M459.1 674.1L458.9 672.9M453.7 675.2L453.6 672.9M458.9 672.9L453.6 672.9M465.3 669.8L465.1 669.8M465.3 669.8L468.1 672.6M465.1 669.8L463.6 673.3M467.0 675.4L465.0 676.0M463.6 673.3L465.0 676.0M450.9 649.8L450.2 652.3M447.7 647.1L445.3 650.0M445.3 650.0L445.9 653.1M450.2 652.3L447.0 654.0M445.9 653.1L447.0 654.0M397.0 657.0L399.3 658.1M399.3 658.1L401.7 655.1M396.9 653.4L400.4 653.4M400.4 653.4L401.6 654.8M401.6 654.8L401.7 655.1M399.0 661.3L399.3 658.1M403.4 661.5L404.8 658.1M403.4 661.5L399.0 661.3M404.8 658.1L401.7 655.1M396.7 649.0L401.3 649.4M401.3 649.4L400.4 653.4M404.7 649.3L402.2 648.3M405.8 652.2L401.6 654.8M401.3 649.4L402.2 648.3M408.0 656.0L406.4 657.7M406.4 657.7L404.8 658.1M438.5 655.7L441.3 657.2M438.5 655.7L435.5 658.7M435.5 658.7L435.8 659.4M435.8 659.4L439.6 661.2M441.3 657.2L441.7 658.9M441.7 658.9L440.5 660.8M440.5 660.8L439.6 661.2M433.8 663.7L438.5 665.1M433.8 663.7L432.7 664.6M432.7 664.6L433.7 668.1M433.7 668.1L438.5 665.3M438.5 665.3L438.5 665.1M434.3 661.5L435.8 659.4M434.3 661.5L433.8 663.7M439.6 661.2L438.5 665.1M429.9 664.0L428.2 667.3M429.9 664.0L432.7 664.6M433.7 668.1L433.5 669.4M433.5 669.4L428.2 667.3M421.9 665.6L422.3 669.1M421.9 665.6L425.3 665.9M425.3 665.9L426.7 667.5M426.7 667.5L424.0 669.8M424.0 669.8L422.3 669.1M417.2 667.5L421.4 665.0M417.2 667.5L419.8 670.5M421.4 665.0L421.9 665.6M419.8 670.5L422.3 669.1M421.4 665.0L421.2 663.4M421.2 663.4L421.5 663.1M421.5 663.1L426.2 661.9M426.2 661.9L425.3 665.9M406.4 657.7L409.8 661.4M411.2 656.0L413.1 659.0M413.1 659.0L411.2 661.6M409.8 661.4L411.2 661.6M428.5 675.6L425.8 677.7M428.5 675.6L427.7 672.7M425.8 677.7L423.1 675.4M427.7 672.7L424.9 672.2M424.9 672.2L422.8 674.5M423.1 675.4L422.8 674.5M425.7 679.7L425.8 677.7M425.7 679.7L424.6 681.0M420.9 678.3L422.3 681.1M420.9 678.3L423.1 675.4M422.3 681.1L422.7 681.4M424.6 681.0L422.7 681.4M428.5 671.7L427.8 667.6M428.5 671.7L427.7 672.7M427.8 667.6L426.7 667.5M424.0 669.8L424.9 672.2M419.3 673.1L419.8 670.5M419.3 673.1L422.8 674.5M418.9 673.4L417.9 677.4M418.9 673.4L419.3 673.1M420.9 678.3L417.9 677.4M399.3 698.5L404.7 697.9M400.8 701.8L405.3 700.3M404.7 697.9L405.3 700.3M403.9 694.2L405.3 696.0M404.7 697.9L405.3 696.0M397.6 735.4L406.8 701.7M406.8 701.7L405.3 700.3M411.0 678.4L413.4 681.3M411.0 678.4L407.3 679.0M413.4 681.3L410.0 683.3M407.3 679.0L410.0 683.3M397.9 682.1L401.3 681.2M402.6 685.1L404.2 684.5M401.3 681.2L404.0 683.4M404.2 684.5L404.0 683.4M401.3 681.2L401.9 676.9M401.9 676.9L403.9 676.9M406.1 678.5L404.0 683.4M406.1 678.5L405.8 677.9M403.9 676.9L405.8 677.9M412.9 674.6L411.8 675.4M412.9 674.6L413.4 673.3M413.4 673.3L408.7 670.6M411.8 675.4L408.2 674.9M408.2 674.9L407.6 671.7M408.7 670.6L407.6 671.7M418.9 673.4L414.3 672.4M414.3 672.4L413.4 673.3M417.9 677.4L416.3 678.7M416.3 678.7L412.9 674.6M411.0 678.4L411.8 675.4M407.3 679.0L406.1 678.5M405.8 677.9L408.2 674.9M417.4 662.1L415.9 664.3M417.4 662.1L413.5 659.0M413.5 659.0L413.1 659.0M411.2 661.6L411.9 663.6M415.9 664.3L411.9 663.6M417.2 667.5L416.7 667.4M417.4 662.1L418.6 661.7M418.6 661.7L421.2 663.4M415.9 664.3L416.7 667.4M397.3 678.8L399.6 676.0M401.9 676.9L399.9 675.9M399.9 675.9L399.6 676.0M473.0 688.8L475.8 693.4M470.1 694.2L474.9 694.2M474.9 694.2L475.8 693.4M482.7 690.9L480.5 696.2M482.1 697.3L480.9 697.0M480.5 696.2L480.9 697.0M479.3 689.4L476.7 693.3M480.5 696.2L476.7 693.3M476.7 693.3L475.8 693.4M447.2 688.0L447.5 686.2M451.7 685.2L451.2 685.0M451.2 685.0L447.5 686.2M430.8 701.0L432.7 697.8M433.2 702.9L437.1 699.6M437.1 699.6L436.4 698.1M432.7 697.8L434.7 697.6M436.4 698.1L434.7 697.6M441.9 693.2L441.3 695.3M441.5 692.0L436.8 691.4M441.3 695.3L437.8 696.3M437.8 696.3L436.8 691.4M444.8 700.9L443.3 702.8M444.8 700.9L443.8 697.7M443.8 697.7L443.3 697.6M443.3 697.6L438.7 701.3M439.2 702.6L438.7 701.3M448.0 701.2L444.8 700.9M447.3 695.8L443.8 697.7M441.3 695.3L443.3 697.6M437.1 699.6L438.7 701.3M436.4 698.1L437.8 696.3M471.5 645.3L472.9 644.7M472.9 644.7L474.8 645.9M474.8 645.9L473.8 652.1M470.2 648.1L471.5 651.8M473.8 652.1L471.5 651.8M466.4 649.4L467.9 652.9M467.9 652.9L469.7 652.6M469.7 652.6L471.5 651.8M485.4 648.3L481.7 653.4M481.7 653.4L490.3 656.5M483.6 659.5L481.2 653.6M481.2 653.6L481.7 653.4M482.3 633.0L481.6 633.8M481.6 633.8L482.7 638.3M481.1 642.9L480.8 642.0M481.1 642.9L496.1 644.1M482.7 638.3L481.1 639.4M481.1 639.4L480.8 642.0M481.1 642.9L480.0 644.7M477.7 641.3L480.8 642.0M477.7 641.3L477.3 645.3M477.3 645.3L480.0 644.7M464.7 669.6L460.1 670.4M464.7 669.6L463.0 664.8M459.6 665.4L459.4 668.6M459.6 665.4L462.6 664.6M460.1 670.4L459.4 668.6M462.6 664.6L463.0 664.8M465.1 669.8L464.7 669.6M459.1 674.1L459.5 674.4M458.9 672.5L458.9 672.9M458.9 672.5L460.1 670.4M463.6 673.3L459.5 674.4M454.7 645.4L454.6 642.1M454.7 645.4L456.3 645.9M456.3 645.9L459.1 644.4M454.6 642.1L456.6 640.3M456.6 640.3L459.8 642.6M459.1 644.4L459.8 642.6M464.5 646.2L465.1 647.3M464.5 646.2L460.6 645.7M460.6 645.7L461.0 650.0M465.2 648.4L463.9 649.3M463.9 649.3L461.0 650.0M477.7 638.0L475.7 638.7M477.7 638.0L479.5 634.2M473.8 637.1L475.2 638.7M473.8 637.1L474.4 632.7M475.2 638.7L475.7 638.7M479.5 634.2L475.5 631.7M474.4 632.7L475.5 631.7M477.7 641.3L475.7 638.7M481.1 639.4L477.7 638.0M481.6 633.8L479.5 634.2M469.5 631.9L474.4 632.7M469.5 637.1L469.2 633.0M469.5 637.1L473.8 637.1M472.9 644.7L473.0 643.2M474.8 645.9L476.0 646.0M473.0 643.2L475.2 638.7M476.0 646.0L477.3 645.3M475.6 630.9L475.5 631.7M441.1 636.4L442.9 637.6M441.1 636.4L442.2 631.6M442.9 637.6L446.9 635.3M444.7 631.4L446.6 632.4M446.9 635.3L446.6 632.4M456.5 633.3L455.1 633.8M456.5 633.3L459.9 634.5M455.1 633.8L454.4 636.9M459.9 634.5L459.7 637.8M459.7 637.8L456.5 638.8M454.4 636.9L456.5 638.8M462.5 633.5L459.9 634.5M457.2 630.2L456.5 633.3M412.0 626.6L412.3 627.5M412.3 627.5L414.8 629.8M416.7 625.6L417.5 628.1M417.5 628.1L414.8 629.8M410.4 630.9L412.3 627.5M410.4 630.9L407.7 629.4M407.7 629.4L407.4 626.5M422.2 626.2L421.9 628.6M421.9 628.6L420.5 629.6M420.5 629.6L417.5 628.1M420.5 629.6L419.9 632.1M414.7 633.4L414.8 629.8M414.7 633.4L416.8 634.5M419.9 632.1L416.8 634.5M410.5 637.3L412.3 636.3M410.5 637.3L408.4 636.3M408.4 636.3L409.6 633.2M412.3 636.3L414.4 633.5M414.4 633.5L410.7 632.3M410.7 632.3L409.6 633.2M414.7 633.4L414.4 633.5M416.4 639.5L415.5 639.9M416.4 639.5L416.9 634.6M415.5 639.9L412.3 636.3M416.8 634.5L416.9 634.6M410.4 630.9L410.7 632.3M442.4 648.9L440.1 652.2M442.4 648.9L441.5 647.2M441.5 647.2L437.4 652.1M440.1 652.2L437.7 652.2M437.7 652.2L437.4 652.1M445.3 650.0L442.4 648.9M445.9 653.1L442.6 654.0M442.6 654.0L440.1 652.2M441.3 646.7L441.5 647.2M436.2 650.1L437.2 652.0M436.2 650.1L437.7 645.8M437.2 652.0L437.4 652.1M442.6 654.0L441.3 657.2M438.5 655.7L437.7 652.2M437.2 652.0L434.2 654.5M434.2 654.5L434.2 657.6M434.2 657.6L435.5 658.7M430.1 625.5L428.0 627.7M428.0 627.7L426.2 624.5M428.7 634.7L429.9 633.4M428.7 634.7L426.0 632.1M429.9 633.4L427.8 629.1M426.0 632.1L426.1 630.2M426.1 630.2L427.8 629.1M421.9 628.6L426.1 630.2M419.9 632.1L423.6 635.0M423.6 635.0L426.0 632.1M428.0 628.9L427.8 629.1M428.0 628.9L428.0 627.7M428.0 628.9L433.1 629.9M429.9 633.4L433.0 632.3M433.0 632.3L433.1 629.9M428.8 636.5L432.9 635.9M428.8 636.5L428.7 634.7M432.9 635.9L433.3 633.0M433.0 632.3L433.3 633.0M435.3 625.8L434.7 629.0M431.5 625.0L433.3 629.7M434.7 629.0L433.3 629.7M440.4 629.1L438.3 629.7M434.7 629.0L438.3 629.7M433.1 629.9L433.3 629.7M438.3 638.2L435.8 637.7M438.3 638.2L440.7 636.4M435.8 637.7L436.1 633.8M440.7 636.4L437.2 633.6M437.2 633.6L436.1 633.8M432.2 641.4L434.1 637.9M432.2 641.4L435.1 642.7M434.1 637.9L435.8 637.7M438.1 639.9L438.3 638.2M441.1 636.4L440.7 636.4M443.5 639.0L442.9 637.6M443.5 639.0L443.0 642.0M432.9 635.9L434.1 637.9M433.3 633.0L436.1 633.8M438.3 629.7L437.2 633.6M412.7 653.1L413.9 653.2M413.5 659.0L416.1 657.1M413.9 653.2L416.1 657.1M428.8 636.5L428.1 637.5M432.2 641.4L431.5 641.6M428.1 637.5L431.5 641.6M434.4 646.0L430.4 649.0M434.4 646.0L436.7 645.3M436.2 650.1L430.4 649.0M430.4 649.0L430.4 649.0M473.0 643.2L472.3 642.6M469.5 637.1L468.9 637.6M472.3 642.6L468.9 637.6M460.3 642.1L461.1 639.7M460.3 642.1L464.7 643.3M461.1 639.7L465.5 638.1M464.7 643.3L466.3 641.7M466.3 641.7L466.5 640.2M466.5 640.2L466.4 638.7M465.5 638.1L466.4 638.7M456.6 640.3L456.5 638.8M459.8 642.6L460.3 642.1M459.7 637.8L461.1 639.7M464.5 646.2L464.7 643.3M460.6 645.7L459.1 644.4M464.1 634.9L465.5 638.1M469.4 644.9L466.3 641.7M472.3 642.6L466.5 640.2M468.9 637.6L466.4 638.7M467.9 652.9L467.7 653.0M463.9 649.3L463.9 653.4M463.9 653.4L467.7 653.0M458.4 657.4L460.0 660.8M458.4 657.4L462.7 656.9M462.7 656.9L463.8 657.8M463.8 657.8L463.3 660.5M460.0 660.8L462.6 661.8M462.6 661.8L463.3 660.5M462.7 654.3L463.9 653.4M462.7 654.3L462.7 656.9M467.7 653.0L467.3 657.3M467.3 657.3L463.8 657.8M456.7 663.4L457.0 664.4M456.7 663.4L460.0 660.8M457.0 664.4L459.6 665.4M462.6 664.6L462.6 661.8M464.1 664.6L463.0 664.8M464.1 664.6L466.9 661.6M466.9 661.6L463.3 660.5M464.1 664.6L468.6 664.8M465.3 669.8L467.4 668.3M468.6 664.8L467.4 668.3M464.0 680.8L461.7 678.7M464.0 680.8L467.1 680.2M467.1 680.2L464.4 677.0M464.4 677.0L461.9 678.0M461.7 678.7L461.9 678.0M463.8 685.2L464.0 680.8M458.8 681.7L461.7 678.7M468.1 680.5L467.1 680.2M465.0 676.0L464.4 677.0M459.5 674.4L461.9 678.0M457.1 657.0L456.7 657.1M457.1 657.0L459.6 651.4M456.7 657.1L454.1 653.9M454.1 653.9L455.1 651.4M455.1 651.4L457.6 650.1M457.6 650.1L459.5 651.2M459.6 651.4L459.5 651.2M462.7 654.3L459.6 651.4M458.4 657.4L457.1 657.0M452.2 649.3L455.1 651.4M450.2 652.3L452.7 653.9M452.7 653.9L454.1 653.9M454.3 645.5L454.7 645.4M456.3 645.9L457.6 650.1M461.0 650.0L459.5 651.2M403.4 661.5L403.5 661.6M409.8 661.4L407.2 663.0M403.5 661.6L407.2 663.0M398.8 665.0L403.2 666.5M403.5 661.6L403.2 666.5M417.4 680.9L416.0 679.7M417.4 680.9L418.6 683.9M416.0 679.7L413.8 681.3M413.8 681.3L416.0 686.8M418.6 683.9L416.0 686.8M422.3 681.1L417.4 680.9M416.3 678.7L416.0 679.7M422.7 681.4L421.6 683.8M421.6 683.8L418.6 683.9M413.4 681.3L413.8 681.3M415.9 687.4L416.0 686.8M415.9 687.4L410.2 686.0M410.0 683.3L409.0 685.3M410.2 686.0L409.0 685.3M404.2 684.5L406.6 686.3M409.0 685.3L406.6 686.3M405.0 690.4L406.2 689.5M406.6 686.3L406.2 689.5M414.3 670.1L409.1 669.2M414.3 670.1L414.8 668.7M414.8 668.7L411.1 666.0M411.1 666.0L409.0 667.4M409.1 669.2L409.0 667.4M414.3 672.4L414.3 670.1M408.7 670.6L409.1 669.2M416.7 667.4L414.8 668.7M411.9 663.6L411.1 666.0M407.2 663.0L407.3 666.5M407.3 666.5L409.0 667.4M399.6 676.0L396.2 673.0M401.5 672.1L400.1 669.6M401.5 672.1L404.9 671.5M400.1 669.6L403.4 667.0M404.9 671.5L404.9 671.5M404.9 671.5L403.5 667.0M403.5 667.0L403.4 667.0M399.9 675.9L401.5 672.1M398.5 669.5L400.1 669.6M403.9 676.9L404.9 671.5M403.2 666.5L403.4 667.0M407.6 671.7L404.9 671.5M407.3 666.5L403.5 667.0M429.3 701.5L426.9 700.3M432.7 697.8L429.2 694.7M426.9 700.3L429.0 694.8M429.2 694.7L429.0 694.8M422.3 718.6L425.5 701.1M420.3 702.3L422.5 700.3M425.5 701.1L422.5 700.3M415.8 702.0L418.5 701.2M418.5 701.2L420.3 702.3M426.9 700.3L426.9 700.3M426.9 700.3L425.5 701.1M426.9 700.3L424.3 696.3M422.5 700.3L422.1 698.9M422.1 698.9L424.3 696.3M429.0 694.8L425.6 693.9M425.6 693.9L424.5 694.1M424.3 696.3L424.5 694.1M472.0 698.3L475.5 702.3M472.0 698.3L474.5 697.0M474.5 697.0L477.2 701.1M476.0 702.5L477.1 701.5M477.1 701.5L477.2 701.1M469.1 698.5L472.0 698.3M474.9 694.2L474.5 697.0M480.9 697.0L477.2 701.1M480.0 702.9L477.1 701.5M442.2 688.1L442.0 685.4M442.2 688.1L436.3 688.7M442.0 685.4L437.3 686.0M436.3 688.7L437.3 686.0M435.6 689.5L434.5 689.2M435.6 689.5L436.4 690.9M436.4 690.9L434.2 694.3M434.5 689.2L430.8 692.0M434.2 694.3L430.7 692.3M430.8 692.0L430.7 692.3M431.9 685.8L436.6 682.4M431.9 685.8L434.5 689.2M436.6 682.4L437.3 686.0M436.3 688.7L435.6 689.5M442.7 689.0L442.2 688.1M436.8 691.4L436.4 690.9M434.7 697.6L434.2 694.3M429.5 685.4L429.2 690.1M429.5 685.4L430.3 685.0M430.3 685.0L431.9 685.8M429.2 690.1L430.8 692.0M429.2 694.7L430.7 692.3M429.2 690.1L426.5 689.8M425.6 693.9L426.5 689.8M425.7 679.7L429.8 680.7M428.5 675.6L430.2 676.2M429.8 680.7L430.2 676.2M429.5 685.4L427.4 685.5M430.3 685.0L430.6 681.6M424.6 681.0L427.4 685.5M429.8 680.7L430.6 681.6M428.5 671.7L433.3 671.1M433.3 671.1L431.6 676.0M430.2 676.2L431.6 676.0M433.5 669.4L433.7 670.3M427.8 667.6L428.2 667.3M433.3 671.1L433.4 671.0M433.7 670.3L433.4 671.0M473.8 652.1L475.1 653.4M478.9 650.0L476.0 646.0M478.9 650.0L479.0 653.1M475.1 653.4L479.0 653.1M482.6 660.9L478.5 660.3M481.2 653.6L479.9 653.6M479.9 653.6L478.5 660.3M477.5 660.9L477.6 660.8M478.5 660.3L477.6 660.8M471.1 656.3L474.4 655.2M471.1 656.3L469.0 658.6M469.0 658.6L470.1 661.1M474.5 656.3L474.4 655.2M474.5 656.3L470.9 661.3M470.1 661.1L470.4 661.3M470.4 661.3L470.9 661.3M469.7 652.6L471.1 656.3M475.1 653.4L474.4 655.2M467.3 657.3L469.0 658.6M466.9 661.6L470.1 661.1M479.0 653.1L479.9 653.6M477.6 660.8L474.5 656.3M475.6 662.4L470.9 661.3M468.6 664.8L469.5 664.1M469.5 664.1L470.4 661.3M484.6 648.0L480.2 648.6M484.6 648.0L480.4 645.3M480.4 645.3L480.2 648.6M478.9 650.0L480.2 648.6M480.0 644.7L480.4 645.3M452.7 653.9L450.8 657.3M456.7 657.1L455.0 659.3M455.0 659.3L450.8 657.3M456.7 663.4L454.7 660.7M455.0 659.3L454.7 660.7M457.0 664.4L454.9 666.7M459.4 668.6L455.0 668.7M454.9 666.7L455.0 668.7M458.9 672.5L454.8 669.6M455.0 668.7L454.8 669.6M453.0 671.2L453.6 672.9M453.0 671.2L453.1 670.9M454.8 669.6L453.1 670.9M448.0 635.8L449.6 635.5M448.0 635.8L448.6 640.1M449.6 635.5L452.6 638.1M448.6 640.1L449.4 640.9M449.4 640.9L451.9 639.5M451.9 639.5L452.6 638.1M443.5 639.0L448.6 640.1M446.9 635.3L448.0 635.8M449.0 643.8L449.4 640.9M454.6 642.1L451.9 639.5M454.4 636.9L452.6 638.1M447.8 631.8L451.5 632.6M447.8 631.8L448.7 628.6M449.6 628.6L448.7 628.6M449.6 628.6L452.2 631.6M451.5 632.6L452.3 632.2M452.2 631.6L452.3 632.2M446.6 632.4L447.8 631.8M449.6 635.5L451.5 632.6M446.8 627.1L448.7 628.6M452.7 625.5L449.6 628.6M454.1 626.8L452.2 631.6M455.1 633.8L452.3 632.2M402.2 648.3L402.1 647.7M402.1 647.7L399.0 644.3M402.7 628.3L402.4 631.5M402.7 628.3L402.8 628.3M402.8 628.3L406.7 630.6M402.4 631.5L404.6 633.1M404.6 633.1L406.3 631.8M406.3 631.8L406.7 630.6M399.0 633.1L402.4 631.5M398.7 627.0L402.7 628.3M404.3 626.6L402.8 628.3M407.7 629.4L406.7 630.6M398.7 634.0L400.2 636.4M405.3 637.2L404.6 633.1M405.3 637.2L405.1 637.5M405.1 637.5L403.8 637.6M400.2 636.4L403.8 637.6M405.3 637.2L408.4 636.3M409.6 633.2L406.3 631.8M430.9 643.7L429.9 647.1M430.9 643.7L431.1 642.2M431.1 642.2L427.1 642.5M427.1 642.5L426.9 645.8M429.9 647.1L426.9 645.8M434.4 646.0L430.9 643.7M430.4 649.0L429.9 647.1M431.5 641.6L431.1 642.2M419.6 653.6L424.1 653.4M419.6 653.6L418.7 656.7M419.3 657.8L422.8 658.7M419.3 657.8L418.7 656.7M422.8 658.7L424.9 658.1M424.9 658.1L424.6 653.5M424.1 653.4L424.6 653.5M413.9 653.2L418.3 651.8M416.1 657.1L418.7 656.7M418.3 651.8L419.6 653.6M418.6 661.7L419.3 657.8M421.5 663.1L422.8 658.7M419.0 640.2L423.4 642.2M419.0 640.2L421.5 637.3M421.5 637.3L423.7 636.8M424.3 641.3L425.0 638.1M424.3 641.3L423.4 642.2M423.7 636.8L425.0 638.1M416.4 639.5L418.3 640.3M416.9 634.6L421.5 637.3M418.3 640.3L419.0 640.2M423.6 635.0L423.7 636.8M428.1 637.5L425.0 638.1M427.1 642.5L424.3 641.3M426.9 645.8L425.7 645.9M423.1 643.6L425.7 645.9M423.1 643.6L423.4 642.2M407.7 647.9L408.5 644.8M411.7 650.5L412.3 649.5M412.3 649.5L412.1 646.8M412.1 646.8L408.5 644.8M415.5 639.9L413.7 641.3M410.5 637.3L411.8 641.1M411.8 641.1L413.7 641.3M418.3 651.4L421.0 647.4M418.3 651.4L416.0 649.1M416.0 649.1L416.0 645.6M421.0 647.4L420.7 646.0M420.7 646.0L418.6 645.0M418.6 645.0L416.0 645.6M418.3 651.8L418.3 651.4M424.1 653.4L421.2 647.6M421.2 647.6L421.0 647.4M412.3 649.5L416.0 649.1M412.1 646.8L415.0 645.0M415.0 645.0L416.0 645.6M423.1 643.6L420.7 646.0M424.6 648.5L425.7 645.9M424.6 648.5L421.2 647.6M418.3 640.3L418.6 645.0M415.0 645.0L413.7 641.3M426.3 650.9L430.4 649.1M426.3 650.9L424.9 653.3M424.9 653.3L429.5 655.2M430.4 649.1L431.4 653.1M431.4 653.1L429.5 655.2M430.4 649.0L430.4 649.1M424.6 648.5L426.3 650.9M424.6 653.5L424.9 653.3M434.2 654.5L431.4 653.1M431.5 658.0L429.8 660.5M431.5 658.0L429.6 655.9M429.6 655.9L426.1 659.1M429.8 660.5L428.4 661.5M428.4 661.5L427.1 661.1M427.1 661.1L426.1 659.1M434.3 661.5L429.8 660.5M434.2 657.6L431.5 658.0M429.5 655.2L429.6 655.9M424.9 658.1L426.1 659.1M429.9 664.0L428.4 661.5M426.2 661.9L427.1 661.1M473.4 668.8L473.1 668.9M473.4 668.8L476.1 673.7M473.1 668.9L472.7 669.2M472.7 669.2L471.5 672.0M471.5 672.0L476.1 673.7M473.7 668.7L473.4 668.8M469.5 664.1L473.1 668.9M477.3 674.8L476.1 673.7M467.4 668.3L472.7 669.2M471.1 672.5L471.5 672.0M414.6 717.4L410.8 701.1M415.8 702.0L413.9 700.3M413.9 700.3L410.8 701.1M405.3 696.0L406.6 695.8M406.8 701.7L409.9 700.7M406.6 695.8L409.8 698.3M409.8 698.3L409.9 700.7M409.9 700.7L410.8 701.1M413.5 689.3L412.9 692.3M413.5 689.3L411.3 689.8M411.3 689.8L409.6 692.0M412.9 692.3L410.9 693.4M410.9 693.4L409.9 692.8M409.9 692.8L409.6 692.0M416.0 692.1L412.9 692.3M416.0 692.1L416.3 688.0M416.3 688.0L415.9 687.6M415.9 687.6L413.5 689.3M415.9 687.4L415.9 687.6M410.2 686.0L411.3 689.8M406.2 689.5L409.6 692.0M406.6 695.8L409.9 692.8M411.9 695.3L409.8 698.3M411.9 695.3L410.9 693.4M419.8 688.6L422.1 686.2M419.8 688.6L421.7 691.9M421.7 691.9L425.5 688.1M422.1 686.2L425.5 687.2M425.5 687.2L425.5 688.1M421.6 683.8L422.1 686.2M416.3 688.0L419.8 688.6M426.5 689.8L425.5 688.1M421.8 693.0L424.5 694.1M421.8 693.0L421.7 691.9M427.4 685.5L425.5 687.2M418.3 698.3L419.8 697.1M418.3 698.3L415.0 697.4M419.8 697.1L420.2 694.1M420.2 694.1L416.7 693.6M416.7 693.6L414.7 696.4M415.0 697.4L414.7 696.4M418.5 701.2L418.3 698.3M422.1 698.9L419.8 697.1M413.9 700.3L415.0 697.4M421.8 693.0L420.2 694.1M416.0 692.1L416.7 693.6M411.9 695.3L414.7 696.4M451.2 685.0L448.9 680.8M447.5 686.2L445.6 683.2M445.6 683.2L448.9 680.8M442.0 685.4L442.2 684.8M442.2 684.8L444.6 683.1M445.6 683.2L444.6 683.1M452.3 680.0L449.0 680.5M449.0 680.5L448.9 680.8M430.6 681.6L434.7 679.4M431.6 676.0L434.6 678.1M434.7 679.4L434.6 678.1M436.6 682.4L436.9 681.4M434.7 679.4L436.9 681.4M442.2 684.8L437.9 681.3M436.9 681.4L437.9 681.3M439.0 666.0L438.5 665.3M439.0 666.0L439.1 668.4M433.7 670.3L437.5 670.1M439.1 668.4L437.5 670.1M454.7 660.7L451.9 662.2M454.9 666.7L451.9 665.9M451.9 662.2L451.9 665.9M450.3 668.0L450.2 666.9M450.3 668.0L453.1 670.9M450.2 666.9L451.9 665.9M404.5 645.0L403.1 642.6M404.5 645.0L408.4 644.4M408.4 644.4L408.6 643.1M408.6 643.1L405.7 639.6M405.7 639.6L403.1 642.6M402.1 647.7L404.5 645.0M408.5 644.8L408.4 644.4M411.8 641.1L408.6 643.1M405.1 637.5L405.7 639.6M399.3 642.7L398.9 644.1M399.3 642.7L399.3 642.5M399.3 642.5L397.8 640.0M403.1 642.6L399.3 642.7M403.8 637.6L399.3 642.5M400.2 636.4L397.8 640.0M451.7 675.9L450.6 675.7M453.0 671.2L449.9 672.4M450.6 675.7L449.9 672.4M449.0 680.5L447.8 677.4M450.6 675.7L447.8 677.4M439.0 666.0L445.1 666.1M445.1 666.1L444.6 669.7M439.1 668.4L442.9 670.5M444.6 669.7L442.9 670.5M451.9 662.2L449.5 661.7M450.2 666.9L446.7 665.1M449.5 661.7L446.7 665.1M445.1 666.1L445.6 665.3M440.5 660.8L445.3 664.7M445.3 664.7L445.6 665.3M445.4 670.3L446.2 675.7M445.4 670.3L448.0 670.8M446.2 675.7L449.3 672.2M448.0 670.8L449.3 672.2M450.3 668.0L448.0 670.8M444.6 669.7L445.4 670.3M446.7 665.1L445.6 665.3M447.8 677.4L446.0 676.5M449.9 672.4L449.3 672.2M446.0 676.5L446.2 675.7M444.6 683.1L444.0 681.7M446.0 676.5L444.1 676.9M444.1 676.9L444.0 681.7M437.9 681.3L439.6 679.9M444.0 681.7L439.6 679.9M441.3 673.4L442.0 676.2M441.3 673.4L438.9 672.8M438.9 672.8L436.4 674.6M441.1 676.9L442.0 676.2M441.1 676.9L436.3 675.8M436.4 674.6L436.3 675.8M442.9 670.5L441.3 673.4M444.1 676.9L442.0 676.2M437.5 670.1L438.9 672.8M433.4 671.0L436.4 674.6M439.6 679.9L441.1 676.9M434.6 678.1L436.3 675.8M448.2 657.6L448.5 659.3M448.2 657.6L447.5 657.0M448.5 659.3L445.6 661.6M447.5 657.0L444.3 658.7M444.3 658.7L445.6 661.6M450.8 657.3L448.2 657.6M449.5 661.7L448.5 659.3M447.0 654.0L447.5 657.0M445.3 664.7L445.6 661.6M441.7 658.9L444.3 658.7"/>
<path stroke="#7e4432" stroke-width="0.8" stroke-linecap="round" d="M475.4 695.6h0M413.4 646.9h0M416.9 663.6h0M422.3 670.7h0M406.1 684.0h0M410.3 648.6h0M461.7 647.7h0M412.4 692.8h0M439.2 649.2h0M428.2 664.9h0M435.1 651.5h0M410.9 670.3h0M462.2 647.4h0M442.4 653.9h0M406.3 679.2h0M454.8 672.1h0M470.0 641.0h0M408.1 671.8h0M425.6 653.5h0M415.1 692.6h0M437.9 645.3h0M461.0 639.4h0M449.8 660.7h0M422.6 675.6h0M410.5 692.0h0"/>
<path stroke="#7e4432" stroke-width="1.3" stroke-linecap="round" d="M474.4 645.9h0M421.1 679.9h0M431.9 664.4h0M414.0 658.7h0M451.5 662.8h0M473.3 669.7h0M429.4 681.4h0M453.7 682.9h0M431.2 694.6h0M443.3 679.3h0M472.2 649.5h0M420.9 683.9h0M462.4 661.7h0M464.6 662.9h0M419.9 686.7h0M421.7 649.2h0M456.6 694.3h0M433.1 666.2h0M461.7 678.8h0M454.4 663.2h0M436.8 692.3h0M449.5 639.3h0"/>
<path stroke="#7e4432" stroke-width="1.8" stroke-linecap="round" d="M433.5 641.1h0M468.6 639.8h0M465.4 673.9h0M431.1 687.3h0M422.8 685.5h0M437.4 675.4h0M407.4 690.4h0M420.9 649.6h0M414.9 654.1h0M429.6 651.3h0M410.7 672.8h0M475.6 641.0h0M417.8 692.4h0M463.2 681.0h0M414.2 644.9h0M441.7 646.1h0M419.0 652.6h0M420.6 682.3h0M437.0 687.5h0M434.8 678.0h0M406.7 695.8h0M413.5 662.5h0M406.6 674.9h0"/>
</g>
<clipPath id="c7"><rect x="479" y="566.5" width="71.5" height="64"/></clipPath>
<g clip-path="url(#c7)">
<rect x="479" y="566.5" width="71.5" height="64" fill="#dcd0d6"/>
<path fill="none" stroke="#9a7a7c" stroke-width="0.62" stroke-linecap="round" d="M540.7 586.6L538.4 585.6M540.7 586.6L542.4 584.7M541.5 582.5L542.4 584.7M541.5 582.5L538.1 583.2M538.1 583.2L538.4 585.6M539.7 590.4L541.2 589.9M539.7 590.4L537.2 589.6M541.2 589.9L540.7 586.6M537.2 589.6L536.4 587.8M536.4 587.8L538.4 585.6M553.9 596.2L556.7 597.9M553.9 596.2L555.7 593.5M554.1 588.5L557.5 589.7M554.1 588.5L552.0 589.1M555.7 593.5L552.2 592.3M552.2 592.3L552.0 589.1M545.4 585.7L546.7 583.1M545.4 585.7L542.4 584.7M541.5 582.5L541.8 581.8M546.7 583.1L541.8 581.8M558.1 563.6L553.7 564.5M557.0 568.6L554.8 567.2M554.8 567.2L553.7 564.5M552.6 561.1L553.3 564.4M553.3 564.4L553.7 564.5M556.5 570.1L553.7 570.6M554.8 567.2L551.8 568.7M551.8 568.7L552.7 569.9M552.7 569.9L553.7 570.6M555.6 575.0L552.9 573.4M555.6 575.0L554.9 578.1M554.9 578.1L554.7 578.3M554.7 578.3L550.9 578.6M550.9 578.6L550.8 573.8M550.8 573.8L552.9 573.4M553.7 570.6L552.9 573.4M565.2 581.0L554.9 578.1M565.2 581.0L555.1 582.4M555.1 582.4L554.7 578.3M552.7 569.9L550.0 573.0M550.8 573.8L550.1 573.4M550.0 573.0L550.1 573.4M550.3 579.1L550.9 578.6M550.3 579.1L547.6 577.7M547.6 577.7L547.3 574.7M550.1 573.4L547.3 574.7M539.7 590.4L538.9 593.9M541.2 589.9L544.1 590.6M544.1 590.6L544.1 592.9M538.9 593.9L540.8 594.6M544.1 592.9L540.8 594.6M476.7 581.5L474.5 584.7M476.7 581.5L478.6 583.4M478.6 583.4L479.4 586.0M474.5 584.7L475.1 586.3M475.1 586.3L477.6 586.7M479.4 586.0L477.6 586.7M481.0 580.5L478.6 583.4M481.0 580.5L483.8 583.0M480.5 586.1L482.9 585.5M480.5 586.1L479.4 586.0M483.8 583.0L482.9 585.5M471.4 582.6L474.5 584.7M473.9 587.7L475.1 586.3M536.4 587.8L533.5 586.4M538.1 583.2L536.5 582.1M533.5 586.4L535.7 582.4M536.5 582.1L535.7 582.4M555.1 582.5L549.7 581.7M555.1 582.5L555.0 584.4M555.0 584.4L554.0 585.0M554.0 585.0L551.0 584.8M551.0 584.8L549.7 581.7M549.7 581.7L549.7 581.7M550.3 579.1L549.7 581.7M555.1 582.4L555.1 582.5M560.6 587.3L555.0 584.4M554.1 588.5L554.0 585.0M550.7 593.3L549.1 592.4M550.7 593.3L550.5 595.9M549.1 592.4L545.5 596.2M550.5 595.9L545.6 596.3M545.6 596.3L545.5 596.2M552.1 597.7L553.9 596.2M552.1 597.7L550.5 595.9M552.2 592.3L550.7 593.3M548.3 591.3L551.8 589.0M548.3 591.3L545.5 589.5M546.1 588.0L550.2 587.0M546.1 588.0L545.5 589.5M550.2 587.0L551.8 589.0M552.0 589.1L551.8 589.0M549.1 592.4L548.3 591.3M544.1 590.6L545.5 589.5M544.1 592.9L545.5 596.2M545.4 585.7L546.1 588.0M547.0 582.7L546.7 583.1M547.0 582.7L549.7 581.7M551.0 584.8L550.2 587.0M547.6 577.7L543.3 578.3M547.3 574.7L544.9 573.5M544.9 573.5L543.1 575.2M543.1 575.2L543.3 578.3M547.0 582.7L543.2 578.4M541.8 581.8L542.3 579.0M542.3 579.0L543.2 578.4M543.2 578.4L543.3 578.3M550.0 573.0L548.5 570.3M544.9 573.5L545.4 570.8M548.5 570.3L545.4 570.8M551.8 568.7L550.0 567.8M548.5 570.3L550.0 567.8M540.6 572.0L543.5 568.9M540.6 572.0L541.2 574.1M541.2 574.1L543.1 575.2M545.4 570.8L543.5 568.9M473.3 563.7L474.9 561.1M523.1 657.3L522.0 634.8M523.1 657.3L526.3 634.9M526.3 634.9L523.6 633.8M522.0 634.8L523.6 633.8M499.6 572.3L501.0 570.2M499.6 572.3L499.1 574.2M501.0 570.2L504.4 571.1M504.4 571.1L504.5 571.2M499.1 574.2L500.8 575.4M500.8 575.4L503.3 575.4M503.3 575.4L504.5 571.2M503.3 575.4L504.7 576.9M507.2 574.3L507.3 571.6M507.2 574.3L506.2 577.2M504.5 571.2L507.3 571.6M506.2 577.2L504.7 576.9M528.3 588.6L531.2 586.2M528.3 588.6L528.0 589.7M531.2 586.2L532.8 586.6M532.8 586.6L532.8 590.3M528.0 589.7L529.6 591.9M529.6 591.9L532.8 590.3M537.2 589.6L534.9 591.9M533.5 586.4L532.8 586.6M532.8 590.3L534.9 591.9M538.9 593.9L538.0 594.6M538.0 594.6L534.9 592.2M534.9 591.9L534.9 592.2M528.0 589.7L527.2 590.0M527.2 590.0L525.5 592.8M525.5 592.8L528.6 595.4M529.6 591.9L529.7 593.1M528.6 595.4L529.7 593.1M534.9 592.2L533.6 593.9M529.7 593.1L533.6 593.9M527.2 590.0L522.1 589.9M525.5 592.8L524.3 593.0M522.1 589.9L521.6 590.3M521.6 590.3L521.5 590.4M524.3 593.0L521.5 590.4M471.5 618.7L474.4 620.6M474.4 620.6L472.2 624.9M476.6 639.6L473.9 634.7M480.5 586.1L480.5 589.4M482.9 585.5L484.1 586.9M485.2 589.3L484.1 586.9M485.2 589.3L484.4 590.1M484.4 590.1L480.5 589.4M484.4 590.1L482.4 592.8M482.4 592.8L480.1 593.1M480.5 589.4L479.6 592.8M479.6 592.8L480.1 593.1M531.2 586.2L529.5 582.4M535.7 582.4L533.6 581.4M533.6 581.4L529.5 582.4M549.0 561.3L548.3 562.1M553.3 564.4L550.3 566.2M548.3 562.1L550.3 566.2M550.0 567.8L549.9 567.5M550.3 566.2L549.9 567.5M543.5 568.9L543.2 567.7M549.9 567.5L545.7 566.1M543.2 567.7L545.7 566.1M538.3 571.0L540.6 572.0M538.3 571.0L541.0 566.2M543.2 567.7L541.0 566.2M534.3 562.6L536.6 563.4M534.3 562.6L532.9 566.6M536.6 563.4L537.5 566.3M532.9 566.6L534.9 567.6M537.5 566.3L534.9 567.6M533.8 560.3L534.3 562.6M536.6 559.5L539.8 561.6M539.8 561.6L536.6 563.4M533.8 560.3L530.2 561.6M532.2 566.7L530.2 561.6M532.2 566.7L532.9 566.6M530.5 569.0L531.6 566.9M530.5 569.0L533.1 572.8M533.1 572.8L535.9 570.8M535.9 570.8L534.9 567.6M532.2 566.7L531.6 566.9M538.3 571.0L536.7 571.3M536.7 571.3L535.9 570.8M540.9 566.1L541.0 566.2M540.9 566.1L537.5 566.3M481.0 580.5L479.9 578.6M479.9 578.6L478.7 578.2M476.7 581.5L476.7 579.2M478.7 578.2L476.7 579.2M472.2 580.2L476.2 579.1M476.2 579.1L476.7 579.2M474.9 561.1L476.4 561.7M476.4 561.7L479.7 558.3M481.8 563.8L481.8 567.1M481.8 563.8L480.2 562.4M480.2 562.4L477.9 562.8M477.9 562.8L476.9 567.1M476.9 567.1L479.9 567.6M481.8 567.1L479.9 567.6M476.4 561.7L477.9 562.8M480.7 559.3L480.2 562.4M473.7 566.1L476.5 567.2M476.5 567.2L476.9 567.1M476.5 567.2L475.7 571.2M479.1 571.6L475.7 571.2M479.1 571.6L479.9 567.6M496.8 563.3L495.8 564.4M496.8 563.3L496.5 560.9M495.8 564.4L491.1 562.5M491.1 562.5L492.4 559.8M515.6 581.1L513.3 583.4M515.6 581.1L517.6 582.1M517.6 582.1L518.2 584.8M513.1 584.3L513.3 583.4M513.1 584.3L515.1 587.8M515.1 587.8L518.0 585.3M518.0 585.3L518.2 584.8M510.3 581.8L513.3 583.4M510.3 581.8L509.1 582.3M509.1 582.3L510.3 585.3M510.3 585.3L513.1 584.3M522.4 582.6L522.0 585.0M522.4 582.6L524.7 582.2M525.4 585.6L526.4 583.4M525.4 585.6L523.3 586.3M523.3 586.3L522.0 585.0M526.4 583.4L524.7 582.2M520.4 580.4L522.4 582.6M520.4 580.4L517.6 582.1M518.2 584.8L522.0 585.0M528.3 588.6L525.4 585.6M529.5 582.4L529.1 582.1M529.1 582.1L526.4 583.4M522.1 589.9L523.3 586.3M521.6 590.3L518.0 585.3M524.2 578.7L525.8 577.6M524.2 578.7L524.7 582.2M525.8 577.6L529.1 581.7M529.1 581.7L529.1 582.1M520.4 580.4L520.5 580.1M524.2 578.7L522.6 578.8M520.5 580.1L522.6 578.8M516.4 576.5L515.5 572.9M516.4 576.5L518.7 576.4M516.7 571.7L515.5 572.9M516.7 571.7L520.6 572.1M518.7 576.4L520.5 574.4M520.6 572.1L520.5 574.4M520.5 580.1L518.7 576.4M522.6 578.8L521.2 575.0M520.5 574.4L521.2 575.0M508.0 636.4L510.7 633.9M515.3 642.1L512.4 635.0M510.7 633.9L512.4 635.0M514.7 754.6L503.4 635.1M503.4 635.1L505.1 635.0M505.1 635.0L508.0 636.4M499.8 635.7L500.6 634.9M496.0 636.2L494.8 634.0M495.9 631.8L494.8 634.0M495.9 631.8L498.1 632.0M498.1 632.0L500.6 634.9M503.4 635.1L502.7 634.6M500.6 634.9L502.7 634.6M524.4 600.9L525.4 597.3M524.4 600.9L528.0 603.0M528.0 603.0L530.5 598.7M525.4 597.3L528.3 596.6M528.3 596.6L530.5 598.7M530.5 598.7L530.5 598.7M528.6 595.4L528.3 596.6M524.2 596.6L524.3 593.0M524.2 596.6L525.4 597.3M533.9 595.4L533.6 593.9M533.9 595.4L530.5 598.7M533.9 595.4L536.3 596.7M531.4 599.3L534.8 599.6M531.4 599.3L530.5 598.7M534.8 599.6L536.3 596.7M538.0 594.6L537.4 596.4M536.3 596.7L537.4 596.4M552.1 597.7L552.1 598.4M556.7 597.9L555.1 600.6M552.1 598.4L555.1 600.6M545.6 596.3L545.4 596.9M545.4 596.9L548.1 600.7M548.1 600.7L549.4 600.9M552.1 598.4L549.4 600.9M563.9 600.2L555.2 600.9M555.1 600.6L555.2 600.9M515.3 642.1L518.5 635.2M512.4 635.0L515.6 632.5M518.5 635.2L515.6 632.5M522.0 634.8L518.6 635.1M518.5 635.2L518.6 635.1M518.6 635.1L519.6 629.9M515.6 632.0L515.6 632.5M515.6 632.0L518.3 629.6M518.3 629.6L519.6 629.9M536.5 630.8L539.7 629.5M536.5 630.8L535.0 628.0M535.0 628.0L537.5 625.5M537.5 625.5L539.2 626.2M539.7 629.5L539.2 626.2M510.7 575.3L511.4 573.9M510.7 575.3L510.1 577.2M510.1 577.2L512.2 579.0M511.7 573.9L515.3 577.7M511.7 573.9L511.4 573.9M512.2 579.0L514.6 579.2M514.6 579.2L515.3 577.7M509.0 570.9L507.3 571.6M509.0 570.9L511.4 573.9M507.2 574.3L510.7 575.3M507.2 578.0L506.2 577.2M507.2 578.0L510.1 577.2M510.3 581.8L512.2 579.0M509.1 582.3L507.1 581.7M507.2 578.0L507.1 581.7M516.4 576.5L515.3 577.7M514.0 572.8L515.5 572.9M514.0 572.8L511.7 573.9M515.6 581.1L514.6 579.2M502.9 564.1L499.3 564.3M502.9 564.1L501.8 567.4M501.8 567.4L500.4 568.7M499.2 564.3L499.6 568.2M499.2 564.3L499.3 564.3M499.6 568.2L500.4 568.7M501.3 560.0L504.2 562.0M501.3 560.0L499.3 564.3M504.2 562.0L504.1 563.5M504.1 563.5L502.9 564.1M505.0 567.4L501.8 567.4M505.0 567.4L506.1 565.7M506.1 565.7L504.1 563.5M501.0 570.2L500.4 568.7M504.4 571.1L505.0 567.4M496.8 563.3L499.2 564.3M516.0 559.1L514.0 563.7M510.2 562.4L509.5 560.6M510.2 562.4L511.7 563.7M514.0 563.7L511.7 563.7M506.1 565.7L506.4 565.8M506.4 565.8L510.2 562.4M504.2 562.0L506.8 559.8M510.3 585.3L509.8 586.4M507.1 581.7L505.4 583.1M509.8 586.4L505.3 584.0M505.4 583.1L505.3 584.0M499.3 604.0L499.1 600.9M499.3 604.0L495.8 605.9M495.7 605.7L495.8 605.9M495.7 605.7L494.4 600.8M499.1 600.9L496.5 599.7M496.5 599.7L494.4 600.8M496.6 596.6L494.8 594.9M496.6 596.6L496.5 599.7M494.8 594.9L490.7 597.6M490.7 597.6L492.6 600.7M492.6 600.7L494.4 600.8M476.0 620.3L474.4 620.6M476.0 620.3L476.5 619.9M476.5 619.9L476.9 619.3M476.9 619.3L477.6 616.0M477.6 616.0L473.7 614.5M475.6 608.3L472.3 604.7M475.6 608.3L474.0 610.8M472.3 625.2L474.4 626.5M474.4 626.5L474.3 630.1M474.3 630.1L472.0 631.3M477.6 586.7L477.7 591.2M477.7 591.2L473.5 589.8M479.6 592.8L478.7 592.7M477.7 591.2L478.7 592.7M489.5 581.2L485.6 581.4M489.5 581.2L491.2 582.2M491.2 582.2L490.8 585.8M484.9 582.3L488.8 585.4M484.9 582.3L485.6 581.4M488.8 585.4L490.8 585.8M483.8 583.0L484.9 582.3M484.1 586.9L488.8 585.4M487.1 590.0L489.8 588.4M487.1 590.0L488.1 593.9M489.8 588.4L492.7 591.8M488.1 593.9L488.7 594.3M488.7 594.3L492.7 592.0M492.7 592.0L492.7 591.8M485.2 589.3L487.1 590.0M490.9 586.0L489.8 588.4M490.9 586.0L490.8 585.8M482.4 592.8L484.7 594.9M484.7 594.9L488.1 593.9M495.5 589.2L492.7 591.8M495.5 589.2L493.2 586.5M493.2 586.5L490.9 586.0M494.8 594.9L494.8 594.9M494.8 594.9L492.7 592.0M490.7 597.6L489.8 597.2M489.8 597.2L488.7 594.3M494.8 594.9L496.8 592.5M495.5 589.2L495.9 589.2M495.9 589.2L496.8 592.5M536.5 582.1L537.5 578.4M542.3 579.0L537.8 578.2M537.5 578.4L537.8 578.2M541.2 574.1L538.3 575.3M537.8 578.2L538.3 575.3M536.7 571.3L537.2 574.0M538.3 575.3L537.2 574.0M529.8 575.0L532.3 574.4M529.8 575.0L530.7 578.7M532.3 574.4L533.8 575.7M530.7 578.7L533.2 578.8M533.8 575.7L534.5 577.3M533.2 578.8L534.5 577.3M533.1 572.8L532.3 574.4M537.2 574.0L533.8 575.7M533.6 581.4L533.2 578.8M529.1 581.7L530.7 578.7M537.5 578.4L534.5 577.3M539.8 561.6L539.8 561.6M539.8 561.6L542.3 559.2M540.9 566.1L540.9 565.8M539.8 561.6L540.9 565.8M530.2 561.6L529.8 561.6M529.1 559.3L529.8 561.6M531.6 566.9L527.8 565.1M527.8 565.1L527.7 562.8M529.8 561.6L527.7 562.8M525.8 560.6L526.1 561.7M526.1 561.7L523.1 563.5M523.1 563.5L521.4 562.3M521.4 561.1L521.4 562.3M527.7 562.8L526.1 561.7M525.2 567.1L527.8 565.1M525.2 567.1L523.6 566.7M523.6 566.7L523.1 563.5M516.0 559.1L519.0 563.6M519.0 563.6L521.4 562.3M475.7 571.3L476.1 573.8M475.7 571.3L472.2 571.4M476.1 573.8L474.0 575.6M480.5 573.0L478.6 575.6M480.5 573.0L479.1 571.6M478.6 575.6L476.1 573.8M475.7 571.2L475.7 571.3M478.6 575.6L478.7 578.2M476.2 579.1L474.0 575.6M481.8 563.8L481.9 563.7M481.9 563.7L485.5 558.9M515.8 565.6L515.7 567.6M515.8 565.6L518.7 564.2M515.7 567.6L521.2 568.5M518.7 564.2L521.5 567.9M521.2 568.5L521.5 567.9M519.0 563.6L518.7 564.2M514.0 563.7L515.8 565.6M516.7 571.7L515.6 567.8M515.6 567.8L515.7 567.6M520.9 571.8L520.6 572.1M520.9 571.8L521.2 568.5M523.6 566.7L521.5 567.9M513.3 570.7L514.6 568.1M513.3 570.7L509.6 569.6M514.6 568.1L510.3 568.1M510.3 568.1L509.8 568.5M509.6 569.6L509.8 568.5M514.0 572.8L513.3 570.7M515.6 567.8L514.6 568.1M509.0 570.9L509.6 569.6M511.7 563.7L510.3 568.1M506.4 565.8L509.8 568.5M524.8 572.3L524.9 575.8M524.8 572.3L527.2 571.0M527.2 571.0L527.4 571.1M527.4 571.1L529.8 574.9M529.8 574.9L525.9 577.5M525.9 577.5L524.9 575.8M520.9 571.8L524.8 572.3M521.2 575.0L524.9 575.8M525.2 567.1L527.2 571.0M530.5 569.0L527.4 571.1M529.8 575.0L529.8 574.9M525.8 577.6L525.9 577.5M515.4 619.6L516.0 619.9M515.4 619.6L516.1 615.9M516.0 619.9L521.2 619.9M516.1 615.9L516.9 614.9M516.9 614.9L520.1 615.8M520.1 615.8L521.2 619.9M549.1 606.0L551.2 604.7M549.1 606.0L544.9 604.6M548.1 600.7L545.3 603.3M551.2 604.7L549.4 600.9M545.3 603.3L544.9 604.6M548.8 607.2L549.1 606.0M548.8 607.2L546.3 609.1M546.3 609.1L543.5 607.8M543.5 607.8L544.5 604.9M544.9 604.6L544.5 604.9M531.4 599.3L532.7 603.3M528.0 603.0L528.2 604.2M532.7 603.3L528.2 604.2M530.0 612.2L531.6 611.3M530.0 612.2L531.2 615.8M531.2 615.8L531.6 616.1M535.6 613.9L531.6 616.1M535.6 613.9L535.6 613.6M531.6 611.3L535.6 613.6M542.1 613.7L543.0 611.5M542.1 613.7L537.9 609.9M543.0 611.5L542.2 608.7M542.2 608.7L539.5 608.5M539.5 608.5L538.0 609.3M538.0 609.3L537.9 609.9M541.9 614.6L541.1 615.1M541.9 614.6L542.1 613.7M541.1 615.1L537.4 611.6M537.4 611.6L537.9 609.9M531.6 611.3L532.9 607.8M535.6 613.6L537.4 611.6M534.0 607.2L532.9 607.8M534.0 607.2L538.0 609.3M548.8 607.2L550.4 610.5M550.4 610.5L550.0 611.8M546.3 609.1L547.7 611.8M550.0 611.8L547.7 611.8M543.5 607.8L542.2 608.7M543.0 611.5L546.7 612.8M547.7 611.8L546.7 612.8M545.6 615.9L541.9 614.6M545.6 615.9L546.0 615.5M546.0 615.5L546.7 612.8M554.8 619.6L551.7 620.5M554.8 619.6L553.4 616.1M551.7 620.5L549.9 617.9M553.4 616.1L551.6 615.3M549.9 617.9L550.9 615.8M550.9 615.8L551.6 615.3M556.4 614.1L553.4 616.1M556.3 620.4L554.8 619.6M546.1 619.7L549.9 617.9M546.1 619.7L548.2 622.7M548.2 622.7L549.8 622.9M549.8 622.9L551.7 620.5M554.2 611.6L551.0 612.8M554.2 611.6L556.4 614.1M551.0 612.8L551.6 615.3M546.1 619.7L545.7 619.5M545.7 619.5L545.6 615.9M546.0 615.5L550.9 615.8M551.0 612.8L550.0 611.8M553.7 627.1L555.7 623.6M553.7 627.1L551.9 627.3M555.7 623.6L550.7 624.0M550.7 624.0L551.0 626.5M551.9 627.3L551.0 626.5M556.2 629.4L553.7 627.1M549.8 622.9L550.7 624.0M548.2 622.7L546.1 625.6M547.8 627.9L545.7 626.8M547.8 627.9L551.0 626.5M546.1 625.6L545.7 626.8M552.9 605.2L554.8 604.0M552.9 605.2L553.3 607.8M554.8 604.0L556.7 604.7M553.3 607.8L555.1 609.4M560.0 609.4L555.1 609.4M551.2 604.7L552.9 605.2M555.2 600.9L554.8 604.0M550.4 610.5L553.3 607.8M554.2 611.6L555.1 609.4M536.5 630.8L536.5 631.0M531.0 631.3L532.8 627.4M531.0 631.3L532.2 632.6M535.0 628.0L532.8 627.4M532.2 632.6L536.5 631.0M547.8 627.9L548.6 630.1M545.7 626.8L544.1 627.7M548.6 630.1L545.0 632.6M544.1 627.7L543.2 630.1M545.0 632.6L543.2 630.1M539.7 629.5L542.4 630.3M544.1 627.7L541.6 625.5M541.6 625.5L539.2 626.2M542.4 630.3L543.2 630.1M536.5 631.0L537.5 634.0M537.5 634.0L538.9 634.9M542.4 630.3L538.9 634.9M534.8 623.0L532.4 624.7M534.8 623.0L534.7 619.5M532.4 624.7L530.0 622.2M530.0 622.2L530.9 620.2M530.9 620.2L532.3 619.1M534.7 619.5L532.3 619.1M532.8 627.4L532.5 627.0M532.5 627.0L532.4 624.7M537.3 624.5L537.5 625.5M537.3 624.5L534.8 623.0M527.5 627.3L528.9 622.6M527.5 627.3L532.5 627.0M528.9 622.6L530.0 622.2M531.2 615.8L528.9 616.4M527.8 618.0L528.9 616.4M527.8 618.0L530.9 620.2M531.6 616.1L532.3 619.1M546.1 625.6L542.9 622.5M541.6 625.5L541.7 624.0M542.9 622.5L541.7 624.0M545.7 619.5L543.5 620.2M542.9 622.5L543.5 620.2M537.3 624.5L538.7 622.2M541.7 624.0L538.7 622.2M493.2 586.5L496.1 584.3M495.9 589.2L498.0 588.3M498.0 588.3L496.1 584.3M496.8 592.5L500.8 592.7M498.0 588.3L498.8 588.3M498.8 588.3L501.0 591.9M501.0 591.9L500.8 592.7M496.6 596.6L499.6 595.4M499.6 595.4L500.9 593.1M500.8 592.7L500.9 593.1M500.9 605.1L499.3 604.0M500.9 605.1L505.0 600.8M499.1 600.9L501.4 599.7M505.0 600.8L501.4 599.7M499.6 595.4L501.3 598.2M501.4 599.7L501.3 598.2M492.6 600.7L491.4 602.2M495.7 605.7L491.2 604.0M491.4 602.2L491.2 604.0M487.5 598.9L484.1 597.9M487.5 598.9L487.3 601.6M487.3 601.6L487.1 601.8M487.1 601.8L483.7 600.6M483.7 600.6L484.0 597.9M484.0 597.9L484.1 597.9M484.7 594.9L484.1 597.9M489.8 597.2L487.5 598.9M491.4 602.2L487.3 601.6M486.6 603.6L486.5 603.6M486.6 603.6L490.5 605.1M486.5 603.6L487.1 601.8M491.2 604.0L490.5 605.1M484.0 604.1L486.5 603.6M484.0 604.1L482.4 603.4M482.4 603.4L482.4 602.3M482.4 602.3L483.7 600.6M480.6 597.7L479.5 598.9M480.6 597.7L484.0 597.9M482.4 602.3L479.5 599.1M479.5 599.1L479.5 598.9M480.6 597.7L480.1 593.1M476.0 620.3L477.3 624.4M474.4 626.5L476.2 626.2M477.3 624.4L476.2 626.2M487.4 623.2L485.0 623.8M487.4 623.2L490.2 624.9M490.2 624.9L490.4 625.8M490.4 625.8L486.8 628.5M486.8 628.5L483.5 626.7M485.0 623.8L483.5 626.7M476.5 619.9L480.1 623.1M476.9 619.3L482.5 620.5M482.5 620.5L482.6 621.0M482.6 621.0L480.1 623.1M477.3 624.4L479.8 624.4M480.1 623.1L479.8 624.4M484.0 604.1L484.4 608.8M482.4 603.4L479.5 605.2M484.4 608.8L482.1 608.9M482.1 608.9L479.5 605.2M475.6 608.3L477.3 607.9M474.0 610.8L478.7 611.8M477.3 607.9L478.7 611.8M478.7 605.1L478.7 605.2M478.7 605.1L477.9 601.2M479.5 599.1L477.9 601.2M479.5 605.2L478.7 605.2M477.6 616.0L477.8 615.8M478.7 611.8L479.2 612.2M477.8 615.8L479.2 612.2M482.1 608.9L479.5 612.1M477.3 607.9L478.7 605.2M479.2 612.2L479.5 612.1M494.8 634.0L491.1 634.3M491.1 634.3L489.9 643.1M490.4 625.8L490.9 626.4M490.9 626.4L491.3 630.0M491.3 630.0L489.7 632.2M486.8 628.5L487.7 631.5M487.7 631.5L489.7 632.2M495.9 631.8L495.2 630.4M491.1 634.3L489.7 632.3M495.2 630.4L491.3 630.0M489.7 632.2L489.7 632.3M489.7 632.3L487.0 635.6M473.9 634.7L476.8 632.6M477.9 637.0L476.8 632.6M474.3 630.1L477.4 631.4M477.4 631.4L476.8 632.6M478.7 605.1L472.7 604.3M477.9 601.2L475.9 600.9M475.9 600.9L472.7 604.3M479.9 578.6L483.5 576.7M485.6 581.4L485.6 580.9M485.6 580.9L483.5 576.7M480.5 573.0L480.8 573.0M483.5 576.7L483.9 576.1M480.8 573.0L483.9 576.1M489.5 581.2L489.3 578.4M485.6 580.9L487.3 577.7M489.3 578.4L487.3 577.7M483.9 576.1L484.2 575.9M484.2 575.9L486.8 576.3M487.3 577.7L486.8 576.3M499.6 572.3L496.0 570.1M499.6 568.2L496.5 568.4M496.0 570.1L496.5 568.4M495.8 564.4L494.9 566.4M496.5 568.4L494.9 566.4M544.3 560.5L543.6 563.4M544.3 560.5L547.5 562.2M543.6 563.4L546.1 564.3M547.5 562.2L546.1 564.3M540.9 565.8L543.6 563.4M548.3 562.1L547.5 562.2M545.7 566.1L546.1 564.3M510.7 633.9L510.1 632.2M515.6 632.0L513.9 630.3M513.9 630.3L510.1 632.2M517.3 623.3L515.1 625.8M517.3 623.3L519.8 623.9M519.8 623.9L519.5 625.5M519.5 625.5L516.5 627.0M516.5 627.0L515.2 626.6M515.2 626.6L515.1 625.8M514.5 619.9L513.6 623.5M514.5 619.9L515.4 619.6M516.0 619.9L517.3 623.3M513.6 623.5L515.1 625.8M518.3 629.6L516.5 627.0M513.9 630.3L513.9 627.7M513.9 627.7L515.2 626.6M513.6 623.5L511.4 623.9M513.9 627.7L511.7 627.4M511.4 623.9L511.7 627.4M514.5 619.9L512.7 619.4M511.4 623.9L508.7 622.9M508.7 622.9L509.4 621.1M512.7 619.4L509.4 621.1M506.4 605.0L504.6 609.4M506.4 605.0L501.5 606.3M504.6 609.4L501.5 609.3M501.5 606.3L501.3 609.1M501.3 609.1L501.5 609.3M500.9 605.1L501.5 606.3M506.6 602.3L505.2 600.8M506.6 602.3L506.9 604.6M506.9 604.6L506.4 605.0M505.0 600.8L505.2 600.8M495.5 607.9L495.8 605.9M495.5 607.9L497.3 609.4M497.3 609.4L501.3 609.1M516.7 612.4L514.0 611.8M516.7 612.4L516.9 614.9M516.1 615.9L512.6 615.0M514.0 611.8L512.6 615.0M512.7 619.4L510.6 615.6M512.6 615.0L510.6 615.6M530.0 612.2L528.2 612.0M528.9 616.4L527.2 613.8M527.2 613.8L528.2 612.0M544.5 604.9L541.0 603.3M539.5 608.5L539.3 604.9M539.3 604.9L541.0 603.3M534.3 604.6L534.0 607.2M534.3 604.6L536.3 602.9M539.3 604.9L536.3 602.9M534.8 599.6L536.5 601.7M534.3 604.6L532.7 603.3M536.3 602.9L536.5 601.7M544.2 597.6L543.5 600.8M544.2 597.6L541.6 597.6M543.5 600.8L540.8 601.5M541.6 597.6L539.7 598.6M539.7 598.6L539.4 600.1M539.4 600.1L540.8 601.5M545.4 596.9L544.2 597.6M545.3 603.3L543.5 600.8M540.8 594.6L541.6 597.6M541.0 603.3L540.8 601.5M537.4 596.4L539.7 598.6M536.5 601.7L539.4 600.1M528.2 604.2L528.0 604.9M532.9 607.8L529.5 606.6M528.0 604.9L529.5 606.6M523.2 601.6L525.6 606.2M523.2 601.6L524.4 600.9M528.0 604.9L525.6 606.2M521.4 620.0L525.2 617.3M521.4 620.0L521.9 621.7M521.9 621.7L523.7 623.0M526.4 618.1L525.2 617.3M526.4 618.1L526.7 622.0M526.7 622.0L523.7 623.0M521.2 619.9L521.4 620.0M519.8 623.9L521.9 621.7M527.8 618.0L526.4 618.1M525.1 615.7L527.2 613.8M525.1 615.7L525.2 617.3M528.9 622.6L526.7 622.0M521.4 627.6L524.1 624.8M521.4 627.6L521.4 629.5M522.8 630.4L521.4 629.5M522.8 630.4L526.9 627.9M524.1 624.8L527.0 627.6M526.9 627.9L527.0 627.6M519.5 625.5L521.4 627.6M523.7 623.0L524.1 624.8M519.6 629.9L521.4 629.5M523.6 633.8L522.8 630.4M526.5 634.8L528.6 631.4M526.5 634.8L526.3 634.9M528.6 631.4L526.9 627.9M527.5 627.3L527.0 627.6M531.0 631.3L528.6 631.4M532.3 634.1L533.8 635.8M532.3 634.1L528.8 635.7M532.2 632.6L532.3 634.1M537.5 634.0L533.8 635.8M526.5 634.8L528.8 635.7M538.9 634.9L539.4 635.8M556.3 635.1L549.0 678.7M540.1 616.7L542.8 619.9M540.1 616.7L537.1 617.5M542.8 619.9L538.7 621.5M538.7 621.5L536.4 618.7M536.4 618.7L537.1 617.5M541.1 615.1L540.1 616.7M543.5 620.2L542.8 619.9M535.6 613.9L537.1 617.5M538.7 622.2L538.7 621.5M534.7 619.5L536.4 618.7M500.5 586.3L499.5 583.1M500.5 586.3L498.8 588.3M496.1 584.3L496.2 584.0M496.2 584.0L499.5 583.1M493.7 580.7L491.2 582.2M493.7 580.7L493.7 580.7M496.2 584.0L493.7 580.7M500.5 586.3L504.0 586.6M501.0 591.9L503.1 590.7M503.1 590.7L504.0 586.6M509.8 586.4L509.8 587.7M509.8 587.7L507.8 589.0M505.3 584.0L504.4 586.4M504.4 586.4L507.8 589.0M506.4 597.2L506.2 597.6M506.4 597.2L506.6 595.0M506.2 597.6L502.8 596.7M506.6 595.0L502.8 594.3M502.8 594.3L502.8 596.7M506.6 602.3L511.2 600.6M505.2 600.8L506.2 597.6M511.2 600.6L510.3 598.3M510.3 598.3L506.4 597.2M501.3 598.2L502.8 596.7M500.9 593.1L502.8 594.3M524.2 596.6L521.0 596.3M523.2 601.6L521.5 601.9M521.0 596.3L519.9 597.0M519.9 597.0L521.5 601.9M515.1 587.8L514.8 588.6M509.8 587.7L513.3 589.4M514.8 588.6L513.3 589.4M506.9 604.6L508.7 606.1M508.7 606.1L512.8 604.2M511.2 600.6L511.5 600.7M511.5 600.7L512.8 604.2M519.9 597.0L518.7 597.0M518.7 597.0L516.6 601.1M520.6 602.9L521.5 601.9M520.6 602.9L516.8 601.5M516.8 601.5L516.6 601.1M512.1 609.6L514.2 607.5M512.1 609.6L512.1 610.2M516.7 612.4L517.4 611.5M517.4 611.5L516.5 608.9M512.1 610.2L514.0 611.8M516.5 608.9L514.2 607.5M512.1 609.6L509.0 606.9M509.0 606.9L508.7 606.1M512.8 604.2L514.4 605.0M514.2 607.5L514.4 605.0M511.5 600.7L513.8 599.5M513.8 599.5L516.6 601.1M516.8 601.5L514.7 604.9M514.7 604.9L514.4 605.0M521.8 606.1L521.0 608.9M521.8 606.1L520.6 604.1M521.0 608.9L518.1 607.4M520.6 604.1L518.0 605.7M518.0 605.7L518.1 607.4M525.6 606.2L525.5 606.3M525.5 606.3L521.8 606.1M520.6 602.9L520.6 604.1M514.7 604.9L518.0 605.7M516.5 608.9L518.1 607.4M487.0 680.4L483.0 634.7M477.9 637.0L481.2 634.2M481.2 634.2L483.0 634.7M487.7 631.5L484.8 632.4M487.0 635.6L483.8 634.2M484.8 632.4L483.8 634.2M483.0 634.7L483.8 634.2M483.4 626.8L481.6 626.9M483.4 626.8L483.7 630.4M481.6 626.9L479.1 628.8M483.7 630.4L479.2 631.5M479.1 628.8L478.6 631.0M478.6 631.0L479.2 631.5M485.0 623.8L482.6 621.0M483.5 626.7L483.4 626.8M479.8 624.4L481.6 626.9M484.8 632.4L483.7 630.4M476.2 626.2L479.1 628.8M481.2 634.2L479.2 631.5M477.4 631.4L478.6 631.0M495.5 607.9L493.3 608.9M490.5 605.1L490.4 606.7M493.3 608.9L490.4 606.7M475.9 600.9L474.0 597.8M474.0 597.8L471.6 599.3M480.8 573.0L483.7 570.3M484.2 575.9L485.7 571.1M485.7 571.1L483.7 570.3M481.8 567.1L482.3 567.5M482.3 567.5L483.7 570.3M493.7 580.7L492.0 575.9M489.3 578.4L491.8 575.8M492.0 575.9L491.8 575.8M496.9 575.0L497.0 579.2M496.9 575.0L496.2 574.7M497.0 579.2L493.7 580.7M492.0 575.9L496.2 574.7M496.9 575.0L499.1 574.2M496.0 570.1L495.0 571.2M496.2 574.7L495.0 571.2M498.1 632.0L500.6 628.7M502.7 634.6L503.1 630.9M500.6 628.7L503.1 630.9M495.2 630.4L496.0 628.2M500.6 628.7L500.4 628.3M500.4 628.3L500.0 627.9M500.0 627.9L496.0 628.2M490.9 626.4L495.2 626.5M496.0 628.2L495.2 626.5M512.1 610.2L510.1 612.0M510.6 615.6L510.1 615.3M510.1 615.3L510.1 612.0M509.0 606.9L506.7 610.7M510.1 612.0L506.7 610.7M504.6 609.4L506.6 610.8M506.7 610.7L506.6 610.8M510.1 615.3L507.5 616.4M506.6 610.8L505.3 613.9M505.3 613.9L507.5 616.4M509.4 621.1L507.2 617.2M507.2 617.2L507.5 616.4M520.1 615.8L521.8 614.0M525.1 615.7L523.1 614.2M521.8 614.0L523.1 614.2M517.4 611.5L520.5 610.8M521.8 614.0L520.5 610.8M521.0 608.9L521.1 609.8M520.5 610.8L521.1 609.8M525.5 609.0L527.7 610.9M525.5 609.0L523.4 610.0M523.4 610.0L524.3 612.1M524.3 612.1L528.2 611.9M528.2 611.9L527.7 610.9M529.5 606.6L527.7 610.9M525.5 606.3L525.5 609.0M521.1 609.8L523.4 610.0M523.1 614.2L524.3 612.1M528.2 612.0L528.2 611.9M545.1 632.9L543.4 635.3M545.1 632.9L548.2 634.8M543.4 635.3L548.1 645.9M548.2 634.8L549.1 639.6M545.0 632.6L545.1 632.9M539.4 635.8L543.4 635.3M499.7 582.7L497.6 579.5M499.7 582.7L502.4 581.5M502.4 579.9L502.4 581.5M502.4 579.9L500.4 578.3M500.4 578.3L497.6 579.5M497.0 579.2L497.6 579.5M499.5 583.1L499.7 582.7M505.4 583.1L502.4 581.5M504.0 586.6L504.4 586.4M504.7 576.9L502.4 579.9M500.8 575.4L500.4 578.3M503.1 590.7L506.1 591.6M507.8 589.0L507.7 589.3M507.7 589.3L506.1 591.6M506.6 595.0L506.9 594.6M506.1 591.6L506.9 594.6M521.5 590.4L521.3 590.6M514.8 588.6L516.9 590.4M516.9 590.4L521.3 590.6M521.0 596.3L521.1 591.3M521.3 590.6L521.1 591.3M516.7 595.6L516.6 595.0M516.7 595.6L514.3 597.2M514.3 597.2L511.4 595.5M516.6 595.0L516.4 594.6M516.4 594.6L512.2 592.5M511.4 595.5L510.8 593.9M512.2 592.5L511.0 593.4M510.8 593.9L511.0 593.4M518.7 597.0L516.7 595.6M521.1 591.3L516.6 595.0M513.8 599.5L514.3 597.2M510.3 598.3L511.4 595.5M516.9 590.4L516.4 594.6M513.3 589.4L512.2 592.5M506.9 594.6L510.8 593.9M507.7 589.3L511.0 593.4M482.5 620.5L483.0 619.3M477.8 615.8L481.3 616.9M481.3 616.9L483.0 619.3M487.4 623.2L488.3 618.9M488.3 618.9L484.6 618.3M483.0 619.3L484.6 618.3M481.3 616.9L483.0 615.0M484.6 618.3L484.5 615.7M484.5 615.7L483.0 615.0M479.5 612.1L482.5 613.5M482.5 613.5L483.0 615.0M477.2 597.6L474.0 597.8M477.2 597.6L477.7 593.4M474.0 597.8L473.8 594.7M477.7 593.4L474.2 594.2M474.2 594.2L473.8 594.7M479.5 598.9L477.2 597.6M474.0 597.8L474.0 597.8M478.7 592.7L477.7 593.4M473.3 590.1L474.2 594.2M491.8 575.8L490.2 573.7M495.0 571.2L492.4 570.9M492.4 570.9L490.2 573.7M486.8 576.3L489.7 573.6M485.7 571.1L486.7 571.0M486.7 571.0L489.7 573.6M489.7 573.6L490.2 573.7M505.1 635.0L508.3 631.4M503.1 630.9L503.3 630.8M503.3 630.8L508.3 631.4M510.1 632.2L509.0 631.1M511.7 627.4L508.8 628.2M508.8 628.2L509.0 631.1M508.3 631.4L509.0 631.1M508.7 622.9L508.4 623.1M508.8 628.2L508.7 628.1M508.4 623.1L508.7 628.1M500.4 628.3L504.1 625.7M503.3 630.8L505.6 627.8M504.1 625.7L505.6 627.8M508.7 628.1L505.6 627.8M499.8 614.8L501.3 615.9M499.8 614.8L501.5 610.6M501.3 615.9L504.7 614.0M501.5 610.6L504.7 614.0M497.3 609.4L497.3 610.0M501.5 609.3L501.5 610.6M497.3 610.0L498.7 614.8M498.7 614.8L499.8 614.8M505.3 613.9L504.7 614.0M495.1 613.1L496.5 615.5M495.1 613.1L492.1 611.6M496.5 615.5L494.0 616.3M494.0 616.3L491.9 616.0M491.9 616.0L491.8 611.8M492.1 611.6L491.8 611.8M497.3 610.0L495.1 613.1M498.7 614.8L496.8 615.6M496.8 615.6L496.5 615.5M493.3 608.9L492.1 611.6M548.7 634.3L553.6 634.7M548.7 634.3L550.8 631.2M551.4 631.0L554.3 632.4M551.4 631.0L550.8 631.2M554.3 632.4L554.8 633.9M554.8 633.9L553.6 634.7M548.2 634.8L548.7 634.3M549.1 639.6L553.6 634.7M548.6 630.1L550.8 631.2M556.2 629.4L554.3 632.4M551.9 627.3L551.4 631.0M556.3 635.1L554.8 633.9M490.4 611.7L487.3 608.4M490.4 611.7L487.3 614.0M487.3 614.0L487.0 613.9M487.0 613.9L485.5 611.9M485.5 611.9L485.3 609.2M485.3 609.2L487.3 608.4M487.3 608.4L487.3 608.4M490.4 606.7L487.3 608.4M491.8 611.8L490.4 611.7M489.4 617.9L487.3 614.0M489.4 617.9L491.9 616.0M488.3 618.9L489.4 617.9M489.4 617.9L489.4 617.9M484.5 615.7L487.0 613.9M482.5 613.5L485.5 611.9M484.4 608.8L485.3 609.2M486.6 603.6L487.3 608.4M491.9 566.9L491.5 567.7M491.9 566.9L490.0 563.6M491.5 567.7L487.9 568.9M487.9 568.9L486.6 565.6M490.0 563.6L487.5 563.5M486.6 565.6L487.4 563.6M487.4 563.6L487.5 563.5M494.9 566.4L491.9 566.9M492.4 570.9L491.5 567.7M491.1 562.5L490.0 563.6M486.7 571.0L487.9 568.9M482.3 567.5L486.6 565.6M485.8 559.1L487.5 563.5M481.9 563.7L487.4 563.6M501.7 617.6L504.7 618.9M501.7 617.6L500.0 620.1M500.0 620.1L502.5 623.0M504.7 618.9L504.8 622.8M502.5 623.0L504.2 623.2M504.8 622.8L504.2 623.2M507.2 617.2L504.7 618.9M501.3 615.9L501.7 617.6M508.4 623.1L504.8 622.8M500.0 627.9L499.5 624.9M504.1 625.7L504.2 623.2M499.5 624.9L502.5 623.0M496.4 623.5L496.9 623.3M496.4 623.5L492.9 622.1M496.9 623.3L497.9 620.4M494.1 619.5L497.1 619.4M494.1 619.5L492.7 620.7M497.1 619.4L497.9 620.4M492.7 620.7L492.9 622.1M495.2 626.5L496.4 623.5M499.5 624.9L496.9 623.3M490.2 624.9L492.9 622.1M500.0 620.1L497.9 620.4M496.8 615.6L497.1 619.4M494.0 616.3L494.1 619.5M489.4 617.9L492.7 620.7"/>
<path stroke="#955a48" stroke-width="0.6" stroke-linecap="round" d="M485.5 596.1h0M528.6 570.8h0M519.3 584.7h0M523.2 612.4h0M502.4 587.5h0M512.8 579.1h0M483.8 577.7h0M497.5 607.8h0M535.3 626.7h0M514.3 601.7h0M537.8 608.3h0M489.6 618.1h0M480.7 606.1h0M511.5 581.8h0M518.5 605.7h0M535.2 595.7h0M532.3 619.7h0M488.5 586.1h0M544.2 626.2h0M516.5 576.4h0M512.7 598.9h0M505.9 603.5h0"/>
<path stroke="#955a48" stroke-width="1.1" stroke-linecap="round" d="M492.1 566.8h0M491.1 599.2h0M494.0 622.7h0M503.2 593.2h0M493.1 600.5h0M511.7 619.7h0M537.3 570.2h0M523.1 575.1h0M527.0 614.1h0M519.5 614.7h0M493.5 624.0h0M522.1 574.9h0M543.7 622.2h0M506.3 601.2h0M546.2 580.6h0M495.0 580.4h0M512.0 588.8h0M536.0 611.8h0M537.1 572.5h0M503.9 574.3h0M501.6 618.2h0"/>
<path stroke="#955a48" stroke-width="1.6" stroke-linecap="round" d="M515.3 585.0h0M503.9 590.1h0M487.2 585.1h0M539.6 605.0h0M505.2 629.5h0M494.9 566.7h0M508.0 581.4h0M494.7 628.0h0M507.7 569.2h0M529.2 615.8h0M515.4 586.6h0M517.2 612.4h0M500.5 579.4h0M484.8 606.5h0M545.8 628.7h0M491.7 619.5h0M510.5 619.6h0M483.7 571.1h0M530.4 569.7h0M499.9 584.3h0M522.1 628.6h0M545.2 618.4h0M499.5 586.2h0M480.9 614.7h0M494.0 588.7h0M525.7 582.4h0M497.2 619.7h0"/>
</g>
<clipPath id="c8"><rect x="479" y="632.5" width="71.5" height="64.5"/></clipPath>
<g clip-path="url(#c8)">
<rect x="479" y="632.5" width="71.5" height="64.5" fill="#dcd0d4"/>
<path fill="none" stroke="#a27468" stroke-width="0.75" stroke-linecap="round" d="M553.6 623.7L556.2 629.4M478.1 670.3L475.6 667.2M478.1 670.3L477.5 671.8M475.6 667.2L473.2 667.3M477.5 671.8L473.1 672.3M474.4 660.9L477.5 664.2M474.4 660.9L473.8 661.1M475.6 667.2L477.5 664.2M497.2 633.3L497.2 635.6M497.2 633.3L492.7 632.4M497.2 635.6L493.7 636.4M493.7 636.4L492.7 632.4M474.4 660.9L476.7 657.6M476.7 657.6L473.2 655.1M563.8 686.7L555.3 684.5M553.0 686.4L555.3 684.5M553.0 686.4L552.9 688.8M557.8 691.1L552.9 688.8M546.1 631.9L548.2 632.9M546.1 631.9L543.7 636.9M548.2 638.1L543.7 636.9M548.2 638.1L549.7 637.4M549.7 637.4L548.2 632.9M548.9 644.4L546.4 641.9M548.9 644.4L552.4 640.9M548.2 638.1L546.4 641.9M549.7 637.4L551.5 638.0M552.4 640.9L551.5 638.0M549.9 627.2L545.3 628.1M547.4 624.0L545.1 627.9M545.1 627.9L545.3 628.1M541.9 623.8L545.0 627.8M545.0 627.8L545.1 627.9M540.6 629.4L542.2 632.2M540.6 629.4L545.0 627.8M542.2 632.2L545.5 631.1M545.5 631.1L545.3 628.1M474.8 629.2L476.0 626.1M474.8 629.2L470.6 628.8M471.7 633.9L476.3 632.0M476.3 632.0L474.8 629.2M477.0 632.8L476.3 632.0M477.0 632.8L481.5 633.2M476.3 632.0L479.5 628.7M481.5 633.2L480.9 628.9M479.5 628.7L480.9 628.9M482.2 637.6L477.4 637.3M482.2 637.6L483.0 634.5M477.4 637.3L477.0 632.8M483.0 634.5L481.5 633.2M471.7 633.9L474.3 637.2M471.5 641.1L474.3 637.2M477.4 637.3L477.4 637.3M476.3 632.0L476.3 632.0M477.4 637.3L474.3 637.2M498.9 627.7L496.9 624.4M498.9 627.7L499.1 627.6M499.1 627.6L502.2 624.7M496.8 629.0L498.9 627.7M496.8 629.0L497.4 632.8M497.4 632.8L502.4 632.0M499.1 627.6L502.3 631.0M502.4 632.0L502.3 631.0M502.2 624.7L504.3 628.8M502.3 631.0L504.3 628.8M508.8 625.7L509.2 628.1M504.3 628.8L509.2 628.1M497.2 635.6L498.9 636.9M494.8 641.3L492.8 640.5M494.8 641.3L496.0 641.0M492.8 640.5L492.6 637.5M492.6 637.5L493.7 636.4M498.9 636.9L496.0 641.0M489.0 636.0L492.6 637.5M489.0 636.0L488.8 635.4M492.7 632.4L492.2 631.6M492.2 631.6L488.8 635.4M483.0 634.5L485.9 632.8M482.1 628.2L480.9 628.9M482.1 628.2L486.3 631.3M485.9 632.8L486.3 631.3M492.7 668.1L490.2 670.5M492.7 668.1L488.7 663.7M490.2 670.5L487.0 666.4M487.0 666.4L488.7 663.7M500.0 645.1L502.5 648.2M500.0 645.1L496.9 646.3M502.5 648.2L502.4 648.7M502.4 648.7L498.9 651.3M498.9 651.3L496.3 649.0M496.3 649.0L496.9 646.3M500.0 645.1L500.3 643.3M494.8 641.3L495.4 645.4M500.3 643.3L496.0 641.0M495.4 645.4L496.9 646.3M498.5 653.8L498.9 651.3M498.5 653.8L494.2 655.1M496.3 649.0L493.2 650.3M493.2 650.3L494.2 655.1M498.5 653.8L501.0 655.7M500.8 657.8L501.0 655.7M500.8 657.8L498.1 659.5M494.2 655.1L494.1 655.4M494.1 655.4L498.1 659.5M557.1 694.0L551.6 694.5M556.6 699.4L551.6 694.5M555.0 705.1L551.5 702.0M551.5 702.0L552.2 700.7M556.6 699.4L552.2 700.7M551.5 702.0L550.3 702.7M507.8 704.5L511.4 701.8M513.3 703.1L511.4 701.8M502.4 632.0L503.5 633.7M503.5 633.7L506.8 633.4M509.2 628.1L509.4 628.3M506.8 633.4L509.4 628.3M551.2 650.9L550.7 647.5M551.2 650.9L549.8 651.5M549.0 645.9L545.1 647.5M549.0 645.9L550.7 647.5M545.1 647.5L545.4 649.7M549.8 651.5L545.4 649.7M549.8 651.5L545.5 655.9M544.9 650.8L545.4 649.7M544.9 650.8L544.9 655.5M544.9 655.5L545.5 655.9M556.2 629.5L552.0 629.6M556.6 631.4L554.6 635.7M552.0 629.6L550.5 631.6M550.5 631.6L554.4 635.8M554.6 635.7L554.4 635.8M549.9 627.2L552.0 629.6M557.5 637.7L554.6 635.7M546.1 631.9L545.5 631.1M548.2 632.9L550.5 631.6M551.5 638.0L554.4 635.8M558.6 642.2L553.5 641.7M558.2 646.9L553.4 646.1M553.4 646.1L553.5 641.7M552.4 640.9L553.5 641.7M551.2 650.9L552.8 652.0M550.7 647.5L553.4 646.1M552.8 652.0L557.4 649.5M548.9 644.4L549.0 645.9M479.5 628.7L477.4 626.0M482.5 627.0L482.1 628.2M494.8 624.7L494.0 628.7M494.0 628.7L492.0 629.2M492.0 629.2L489.5 627.8M489.2 626.9L489.5 627.8M496.8 629.0L494.0 628.7M497.4 632.8L497.2 633.3M492.2 631.6L492.0 629.2M488.8 635.4L485.9 632.8M486.3 631.3L489.5 627.8M501.0 642.4L501.0 637.3M501.0 642.4L505.9 642.4M505.4 639.1L506.6 641.6M505.4 639.1L501.8 636.9M501.8 636.9L501.0 637.3M506.6 641.6L505.9 642.4M498.9 636.9L501.0 637.3M500.3 643.3L501.0 642.4M502.5 648.2L506.0 646.7M506.0 646.7L505.9 642.4M503.5 633.7L501.8 636.9M508.5 635.4L506.8 633.4M508.5 635.4L505.4 639.1M509.6 641.2L510.6 644.9M509.6 641.2L506.6 641.6M506.0 646.7L507.1 647.2M507.1 647.2L510.6 644.9M506.1 654.8L504.8 654.2M506.1 654.8L510.0 650.4M508.2 648.8L510.0 650.4M508.2 648.8L504.3 652.4M504.3 652.4L504.8 654.2M500.8 657.8L503.9 661.7M501.0 655.7L504.8 654.2M506.5 655.5L506.1 654.8M506.5 655.5L506.8 656.3M503.9 661.7L506.8 656.3M512.3 654.1L506.5 655.5M512.3 654.1L511.9 650.5M511.9 650.5L510.0 650.4M502.4 648.7L504.3 652.4M507.1 647.2L508.2 648.8M495.1 666.1L494.1 667.7M495.1 666.1L500.4 666.8M494.1 667.7L495.9 671.1M500.4 666.8L496.9 671.7M496.9 671.7L495.9 671.1M492.7 668.1L494.1 667.7M490.2 670.5L490.1 671.7M490.1 671.7L491.5 672.5M491.5 672.5L495.9 671.1M493.1 675.4L491.5 672.5M493.1 675.4L497.0 675.2M497.0 675.2L497.3 672.6M497.3 672.6L496.9 671.7M488.7 663.7L488.8 663.5M495.1 666.1L494.5 664.4M488.8 663.5L494.5 664.4M478.1 670.3L482.5 668.3M477.5 664.2L480.4 664.2M480.4 664.2L482.5 668.3M490.1 671.7L487.9 673.3M487.0 666.4L485.8 666.9M483.9 671.1L487.9 673.3M483.9 671.1L482.9 668.4M485.8 666.9L482.9 668.4M477.4 637.3L476.5 642.3M476.5 642.3L473.6 643.3M491.7 657.0L491.4 658.0M491.7 657.0L488.4 653.5M488.3 660.6L491.4 658.0M488.3 660.6L487.8 660.4M487.8 660.4L486.3 655.0M488.4 653.5L486.3 655.0M476.2 682.7L475.9 683.6M476.2 682.7L469.1 681.3M475.9 683.6L470.7 685.0M471.0 677.1L476.5 682.1M476.5 682.1L476.2 682.7M472.3 689.6L474.9 689.0M475.9 683.6L476.2 685.2M476.2 685.2L474.9 689.0M499.3 702.6L501.7 701.6M501.7 701.6L504.4 702.0M505.6 698.9L504.4 702.0M505.6 698.9L504.5 697.5M504.5 697.5L501.3 698.5M501.3 698.5L501.7 701.6M505.6 698.9L509.1 698.0M509.1 698.0L511.2 699.3M511.4 701.8L511.2 699.3M552.7 681.0L555.1 683.7M552.7 681.0L552.7 678.1M552.7 678.1L557.4 678.7M555.1 683.7L557.4 678.7M553.0 686.4L550.8 685.2M555.3 684.5L555.1 683.7M550.8 685.2L550.7 682.4M550.7 682.4L552.7 681.0M552.2 700.7L550.0 695.3M551.6 694.5L551.5 694.5M551.5 694.5L550.0 695.3M552.9 688.8L552.9 688.9M551.5 694.5L552.9 688.9M550.8 685.2L547.6 685.5M547.6 685.5L546.4 689.9M552.9 688.9L546.4 689.9M528.3 703.6L531.2 701.0M531.2 701.0L531.5 701.0M534.3 703.3L531.5 701.0M547.6 685.5L547.5 685.4M547.5 685.4L542.4 685.5M542.3 686.3L544.1 689.9M542.3 686.3L542.4 685.5M546.4 689.9L545.8 690.6M544.1 689.9L545.8 690.6M531.3 689.8L528.4 688.9M531.3 689.8L532.7 693.7M532.7 693.7L530.0 695.1M527.0 690.2L528.4 688.9M527.0 690.2L527.8 694.6M527.8 694.6L530.0 695.1M511.5 629.1L512.8 631.3M511.5 629.1L514.0 627.9M514.0 627.9L516.3 627.9M516.3 627.9L516.2 633.2M512.8 631.3L515.2 633.1M516.2 633.2L515.2 633.1M508.5 635.4L509.7 636.0M509.4 628.3L511.5 629.1M509.7 636.0L512.8 631.3M514.4 624.1L514.0 627.9M519.1 626.6L516.3 627.9M511.4 637.8L515.2 633.1M511.4 637.8L509.7 636.0M525.5 664.3L526.9 667.3M525.5 664.3L520.3 665.7M526.9 667.3L523.5 669.2M523.5 669.2L520.7 668.9M520.7 668.9L520.0 667.7M520.0 667.7L520.3 665.7M525.6 663.8L528.3 661.3M525.6 663.8L525.5 664.3M528.3 661.3L532.2 665.3M528.4 668.0L532.2 666.6M528.4 668.0L526.9 667.3M532.2 665.3L532.2 666.6M528.4 671.1L528.4 668.0M528.4 671.1L524.9 673.4M524.9 673.4L523.5 669.2M537.2 672.5L535.2 671.9M537.2 672.5L537.6 676.4M535.2 671.9L531.4 674.6M531.4 674.6L531.1 675.4M531.1 675.4L535.3 678.4M537.6 676.4L535.3 678.4M550.7 682.4L547.7 680.6M547.5 685.4L545.9 680.9M545.9 680.9L547.7 680.6M542.4 685.5L542.0 681.5M542.0 681.5L545.4 680.7M545.9 680.9L545.4 680.7M552.7 678.1L551.8 677.2M547.7 680.6L551.8 677.2M532.2 665.3L533.8 662.1M532.2 666.6L533.0 667.1M538.7 663.5L533.8 662.1M538.7 663.5L538.8 664.5M538.8 664.5L533.0 667.1M528.4 671.1L531.4 674.6M535.2 671.9L533.7 668.2M533.0 667.1L533.7 668.2M538.7 663.5L539.6 660.9M544.2 661.2L539.6 660.9M544.2 661.2L544.5 661.8M538.8 664.5L540.7 666.9M544.5 661.8L540.7 666.9M546.4 656.5L549.8 660.2M546.4 656.5L545.6 656.2M549.8 660.2L546.7 663.5M544.2 661.2L545.6 656.2M544.5 661.8L546.7 663.5M533.7 668.2L540.8 667.2M540.7 666.9L540.8 667.2M552.3 655.9L552.3 660.3M552.3 655.9L553.3 654.3M553.3 654.3L557.5 656.1M552.3 660.3L553.1 661.0M557.7 659.1L553.7 661.3M553.1 661.0L553.7 661.3M546.4 656.5L552.3 655.9M549.8 660.2L552.3 660.3M552.8 652.0L553.3 654.3M545.6 656.2L545.5 655.9M546.7 663.5L547.5 665.9M547.5 665.9L553.1 661.0M554.4 664.3L557.6 665.5M554.4 664.3L553.7 661.3M542.2 632.2L539.7 634.3M543.7 636.9L543.1 637.1M543.1 637.1L540.0 634.9M539.7 634.3L540.0 634.9M512.1 658.4L513.5 662.4M512.1 658.4L510.3 658.8M510.3 658.8L508.9 661.7M508.9 661.7L511.0 663.7M511.0 663.7L513.5 662.4M516.2 659.1L512.7 657.9M516.2 659.1L518.5 661.8M518.5 661.8L515.5 663.3M512.7 657.9L512.1 658.4M515.5 663.3L513.5 662.4M512.3 654.1L513.2 655.7M513.2 655.7L512.7 657.9M506.8 656.3L510.3 658.8M503.9 661.7L504.1 662.9M505.3 663.1L504.1 662.9M505.3 663.1L508.9 661.7M477.5 671.8L478.3 674.1M483.9 671.1L482.3 674.2M482.5 668.3L482.9 668.4M482.3 674.2L478.3 674.1M471.6 676.3L477.5 676.7M476.5 682.1L478.8 680.6M478.8 680.6L479.0 679.7M479.0 679.7L477.5 676.7M478.3 674.1L477.5 676.7M494.8 663.6L493.8 660.3M494.8 663.6L498.1 661.9M493.8 660.3L497.9 660.2M498.1 661.9L497.9 660.2M488.3 660.6L488.8 663.5M491.4 658.0L493.8 660.3M494.5 664.4L494.8 663.6M500.4 666.8L501.0 666.6M501.6 665.1L501.0 666.6M501.6 665.1L498.1 661.9M494.1 655.4L491.7 657.0M498.1 659.5L497.9 660.2M504.1 662.9L501.6 665.1M483.2 661.5L480.7 663.5M483.2 661.5L484.6 659.9M484.6 659.9L484.5 659.8M484.5 659.8L478.7 659.2M478.7 659.2L480.7 663.5M480.4 664.2L480.7 663.5M485.8 666.9L483.2 661.5M487.8 660.4L484.6 659.9M486.3 655.0L484.0 655.3M483.3 657.2L484.0 655.3M483.3 657.2L484.5 659.8M477.0 657.5L478.1 656.1M477.0 657.5L478.7 659.2M478.1 656.1L483.3 657.2M476.7 657.6L477.0 657.5M482.3 637.8L482.2 641.2M482.3 637.8L487.2 638.6M482.2 641.2L488.5 642.6M487.2 638.6L488.5 642.6M482.2 637.6L482.3 637.8M489.0 636.0L487.2 638.6M492.8 640.5L489.1 643.3M489.1 643.3L488.5 642.6M476.5 642.3L479.0 643.2M482.2 641.2L482.1 641.4M479.0 643.2L482.1 641.4M491.2 646.5L492.1 649.6M491.2 646.5L489.0 644.5M489.0 644.5L485.5 647.3M492.1 649.6L488.1 651.9M485.5 647.3L486.2 650.4M488.1 651.9L486.2 650.4M495.4 645.4L491.2 646.5M493.2 650.3L492.1 649.6M489.1 643.3L489.0 644.5M484.5 647.0L482.1 641.4M484.5 647.0L485.5 647.3M488.4 653.5L488.1 651.9M483.2 652.9L484.0 655.3M483.2 652.9L486.2 650.4M485.3 680.9L488.7 679.2M485.3 680.9L482.7 678.1M482.7 678.1L483.3 676.9M483.3 676.9L487.5 675.9M487.5 675.9L489.0 678.2M489.0 678.2L488.7 679.2M489.1 684.8L490.4 683.3M489.1 684.8L484.9 682.9M490.4 683.3L488.7 679.2M484.9 682.9L485.3 680.9M482.6 684.5L478.8 680.6M482.6 684.5L484.9 682.9M479.0 679.7L482.7 678.1M482.3 674.2L483.3 676.9M487.9 673.3L487.5 675.9M491.9 677.6L489.0 678.2M491.9 677.6L493.1 675.4M491.9 677.6L494.4 680.2M494.4 680.2L491.9 683.2M491.9 683.2L490.4 683.3M495.7 684.6L499.0 686.7M495.7 684.6L497.8 680.1M500.9 681.1L500.6 684.6M500.9 681.1L498.9 679.6M500.6 684.6L499.0 686.7M498.9 679.6L497.8 680.1M494.1 685.2L495.7 684.6M494.1 685.2L493.8 689.2M493.8 689.2L496.4 690.4M496.4 690.4L498.6 689.3M498.6 689.3L499.0 686.7M494.4 680.2L497.8 680.1M491.9 683.2L494.1 685.2M498.8 677.9L497.0 675.2M498.8 677.9L498.9 679.6M518.7 661.8L518.5 661.8M518.7 661.8L520.3 665.7M520.0 667.7L514.9 668.1M515.5 663.3L514.4 667.2M514.9 668.1L514.4 667.2M511.0 663.7L510.9 665.9M514.4 667.2L510.9 665.9M505.3 663.1L508.7 667.3M510.9 665.9L508.7 667.3M501.0 666.6L503.0 669.4M503.0 669.4L508.5 667.8M508.7 667.3L508.5 667.8M505.3 675.6L508.9 672.2M505.3 675.6L503.0 674.0M508.9 672.2L503.2 670.6M503.0 674.0L502.6 672.3M502.6 672.3L503.2 670.6M503.0 669.4L503.2 670.6M509.9 671.9L508.5 667.8M509.9 671.9L508.9 672.2M498.8 677.9L503.0 674.0M497.3 672.6L502.6 672.3M537.8 703.0L537.7 698.6M531.5 701.0L533.6 698.7M537.7 698.6L533.6 698.7M531.2 701.0L530.1 699.5M532.7 693.7L533.6 694.1M530.1 699.5L530.0 695.1M533.6 694.1L533.6 698.7M550.0 695.3L549.9 695.3M545.8 690.6L546.0 691.7M549.9 695.3L546.0 691.7M527.0 690.2L523.6 690.6M527.8 694.6L525.4 696.3M525.4 696.3L522.2 694.1M523.6 690.6L522.2 694.1M513.2 693.9L516.4 690.9M513.2 693.9L513.6 697.3M513.6 697.3L516.1 697.6M516.1 697.6L518.9 696.6M516.4 690.9L519.6 695.0M518.9 696.6L519.6 695.0M508.4 694.4L510.1 692.7M508.4 694.4L509.1 698.0M511.2 699.3L513.6 697.3M510.1 692.7L513.2 693.9M516.4 702.5L516.1 697.6M510.1 692.7L510.0 691.5M516.4 689.8L516.4 690.9M516.4 689.8L514.7 688.1M510.0 691.5L514.7 688.1M520.8 700.8L524.8 702.4M520.8 700.8L520.7 700.1M520.7 700.1L525.4 696.8M524.8 702.4L525.9 697.9M525.9 697.9L525.4 696.8M518.6 703.2L520.8 700.8M518.9 696.6L520.7 700.1M525.4 696.3L525.4 696.8M522.2 694.1L519.6 695.0M530.1 699.5L525.9 697.9M533.0 629.4L536.5 632.4M533.0 629.4L532.4 628.6M532.4 628.6L537.3 624.7M536.8 632.4L536.5 632.4M536.8 632.4L538.4 629.0M538.4 629.0L538.0 625.0M540.6 629.4L538.4 629.0M539.7 634.3L536.8 632.4M532.4 628.6L529.0 627.2M510.6 644.9L512.2 645.8M511.9 650.5L512.3 650.3M512.3 650.3L512.2 645.8M513.2 655.7L517.7 654.3M516.2 659.1L518.0 654.6M517.7 654.3L518.0 654.6M512.3 650.3L517.0 649.9M517.7 654.3L517.0 649.9M509.6 641.2L509.7 641.1M511.4 637.8L511.4 637.9M509.7 641.1L511.4 637.9M539.1 660.1L539.6 660.9M539.1 660.1L540.1 656.0M544.9 655.5L540.9 654.9M540.9 654.9L540.1 656.0M519.1 626.6L521.8 630.4M521.8 630.4L522.1 630.4M523.7 624.7L525.7 628.8M522.1 630.4L525.7 628.8M529.0 627.2L527.4 628.7M527.4 628.7L525.7 628.8M535.2 681.5L536.2 683.1M535.2 681.5L529.9 680.0M529.8 684.2L535.6 685.2M529.8 684.2L529.9 680.0M535.6 685.2L536.2 683.1M541.1 681.2L540.3 678.4M541.1 681.2L536.2 683.1M540.3 678.4L537.6 676.4M535.3 678.4L535.2 681.5M528.5 678.1L529.9 680.0M528.5 678.1L531.1 675.4M534.9 687.0L535.6 685.3M534.9 687.0L531.3 689.8M535.6 685.3L535.6 685.2M527.9 686.0L528.4 688.9M527.9 686.0L529.8 684.2M528.5 678.1L528.3 678.1M527.9 686.0L525.1 684.3M528.3 678.1L524.9 683.7M525.1 684.3L524.9 683.7M538.9 687.0L535.6 685.3M538.9 687.0L542.3 686.3M542.0 681.5L541.1 681.2M545.4 680.7L545.5 678.6M551.8 677.2L551.6 676.3M545.5 678.6L548.3 675.2M551.6 676.3L548.3 675.2M541.2 668.0L542.6 668.4M541.2 668.0L537.2 672.5M542.6 668.4L544.4 673.1M537.2 672.5L542.7 674.6M544.4 673.1L543.3 674.4M542.7 674.6L543.3 674.4M547.5 665.9L547.6 666.4M547.6 666.4L542.6 668.4M540.8 667.2L541.2 668.0M537.2 672.5L537.2 672.5M540.3 678.4L542.7 674.6M545.5 678.6L543.3 674.4M548.3 675.2L546.6 673.0M546.6 673.0L544.4 673.1M481.2 647.8L479.5 645.8M481.2 647.8L479.1 651.8M479.5 645.8L475.2 647.8M479.0 651.9L479.1 651.8M479.0 651.9L476.4 650.6M476.4 650.6L475.2 647.8M484.5 647.0L481.2 647.8M479.0 643.2L479.5 645.8M483.2 652.9L479.1 651.8M473.1 646.0L475.2 647.8M478.1 656.1L479.0 651.9M473.1 652.4L476.4 650.6M471.9 691.2L474.1 695.9M474.1 695.9L471.4 698.4M490.3 689.9L492.3 694.3M490.3 689.9L493.8 689.2M496.4 690.4L496.3 693.1M496.3 693.1L494.7 694.1M492.3 694.3L494.7 694.1M504.9 690.4L504.9 693.4M504.9 690.4L503.8 689.4M503.8 689.4L499.6 689.8M499.6 689.8L501.7 694.4M504.9 693.4L503.7 694.5M503.7 694.5L501.7 694.4M508.4 694.4L504.9 693.4M508.2 689.0L510.0 691.5M508.2 689.0L504.9 690.4M498.6 689.3L499.6 689.8M503.9 686.8L500.6 684.6M503.9 686.8L503.8 689.4M499.1 696.3L501.7 694.4M499.1 696.3L498.6 696.3M498.6 696.3L496.3 693.1M504.5 697.5L503.7 694.5M501.3 698.5L499.1 696.3M524.9 673.4L524.6 674.0M524.6 674.0L521.8 674.2M520.7 668.9L519.5 672.6M519.5 672.6L521.8 674.2M534.9 687.0L536.6 690.5M533.6 694.1L535.3 693.8M535.3 693.8L536.6 690.5M538.9 687.0L539.9 690.6M536.6 690.5L539.9 690.6M544.1 689.9L540.3 690.9M539.9 690.6L540.3 690.9M549.9 695.3L547.2 697.8M547.2 697.8L547.9 702.3M518.9 688.7L522.7 689.4M518.9 688.7L520.0 685.2M520.0 685.2L523.1 686.6M522.7 689.4L523.1 686.6M523.6 690.6L522.7 689.4M516.4 689.8L518.9 688.7M525.1 684.3L523.1 686.6M518.7 661.8L521.2 659.8M518.0 654.6L520.7 655.7M520.7 655.7L521.2 659.8M525.6 663.8L522.0 660.0M521.2 659.8L522.0 660.0M517.0 649.9L517.5 649.4M517.5 649.4L520.1 649.5M520.7 655.7L523.8 653.2M520.1 649.5L523.8 653.2M512.2 645.8L514.0 644.8M517.5 649.4L517.1 645.1M517.1 645.1L514.0 644.8M509.7 641.1L513.3 642.7M514.0 644.8L513.3 642.7M533.8 662.1L533.6 659.4M539.1 660.1L534.5 659.1M533.6 659.4L534.5 659.1M540.1 656.0L535.7 656.4M534.5 659.1L535.7 656.4M553.8 672.1L553.4 672.6M553.8 672.1L554.1 671.7M553.4 672.6L547.7 671.7M554.1 671.7L554.0 671.4M554.0 671.4L551.7 667.7M551.7 667.7L548.4 667.1M548.4 667.1L547.7 671.7M558.7 678.3L553.8 672.1M551.6 676.3L553.4 672.6M561.5 671.2L554.1 671.7M546.6 673.0L547.7 671.7M557.7 665.7L554.0 671.4M554.4 664.3L551.7 667.7M547.6 666.4L548.4 667.1M522.1 630.4L526.0 635.4M527.4 628.7L529.2 634.1M526.0 635.4L529.2 634.1M474.9 689.0L476.0 689.7M476.0 689.7L478.0 694.0M474.1 695.9L475.8 695.8M478.0 694.0L475.8 695.8M476.2 685.2L479.2 686.2M476.0 689.7L478.9 689.0M478.9 689.0L479.2 686.2M482.6 684.5L482.5 685.2M482.5 685.2L479.2 686.2M510.5 672.2L513.7 671.7M510.5 672.2L510.3 677.0M510.3 677.0L513.8 676.9M513.7 671.7L516.2 674.0M513.8 676.9L516.2 675.2M516.2 674.0L516.2 675.2M509.9 671.9L510.5 672.2M514.9 668.1L513.7 671.7M519.5 672.6L516.2 674.0M505.3 675.6L505.9 677.5M510.3 677.0L509.8 677.7M509.8 677.7L505.9 677.5M500.9 681.1L504.1 680.7M504.1 680.7L505.9 677.5M544.1 698.0L543.4 700.6M544.1 698.0L542.8 695.8M542.8 695.8L539.3 695.6M542.5 700.9L543.4 700.6M542.5 700.9L538.6 697.4M538.6 697.4L539.0 695.7M539.3 695.6L539.0 695.7M547.2 697.8L544.1 698.0M546.3 702.9L543.4 700.6M546.0 691.7L542.8 695.8M540.3 690.9L539.3 695.6M539.4 704.2L542.5 700.9M537.7 698.6L538.6 697.4M535.3 693.8L539.0 695.7M533.6 659.4L531.4 658.4M535.7 656.4L534.4 653.0M534.4 653.0L531.9 654.6M531.9 654.6L531.4 658.4M528.3 661.3L528.7 659.1M528.7 659.1L531.4 658.4M525.7 651.7L524.1 653.1M525.7 651.7L528.6 652.1M524.1 653.1L527.0 657.8M528.6 652.1L529.5 653.4M529.5 653.4L527.3 657.9M527.0 657.8L527.3 657.9M522.9 646.8L520.1 649.5M522.9 646.8L525.7 648.5M525.7 648.5L525.7 651.7M523.8 653.2L524.1 653.1M522.0 660.0L527.0 657.8M531.9 654.6L529.5 653.4M528.7 659.1L527.3 657.9M522.9 646.8L522.9 646.5M517.1 645.1L517.7 644.2M517.7 644.2L522.9 646.5M520.9 637.1L518.5 641.7M520.9 637.1L519.3 633.9M514.8 639.0L515.5 639.9M514.8 639.0L518.1 633.9M515.5 639.9L518.5 641.7M518.5 641.7L518.5 641.7M518.1 633.9L519.3 633.9M521.8 630.4L519.3 633.9M524.4 637.9L526.0 635.4M524.4 637.9L520.9 637.1M511.4 637.9L514.8 639.0M513.3 642.7L515.5 639.9M516.2 633.2L518.1 633.9M517.7 644.2L518.5 641.7M522.9 646.5L523.8 643.0M523.8 643.0L518.5 641.7M540.9 654.9L539.5 652.4M534.4 653.0L535.0 651.8M535.0 651.8L539.5 652.4M544.9 650.8L540.3 650.7M539.5 652.4L540.3 650.7M528.6 652.1L532.1 648.6M535.0 651.8L535.0 651.7M535.0 651.7L532.1 648.6M532.1 648.6L532.1 648.6M525.7 648.5L529.2 645.6M532.1 648.6L529.2 645.6M524.4 637.9L526.0 640.6M523.8 643.0L525.9 641.8M525.9 641.8L526.0 640.6M529.2 645.6L529.1 645.0M525.9 641.8L529.1 645.0M530.4 634.0L535.0 634.0M530.4 634.0L529.4 634.3M529.4 634.3L530.4 638.3M535.0 634.0L534.6 637.3M534.6 637.3L532.4 639.3M532.4 639.3L530.4 638.3M533.0 629.4L530.4 634.0M536.5 632.4L535.0 634.0M529.2 634.1L529.4 634.3M526.0 640.6L530.4 638.3M540.0 634.9L537.8 638.7M537.8 638.7L534.6 637.3M529.1 645.0L533.0 641.6M533.0 641.6L532.4 639.3M478.0 694.0L478.6 694.1M475.8 695.8L476.8 697.8M480.4 695.7L478.6 694.1M480.4 695.7L480.5 698.8M476.8 697.8L480.5 698.8M483.7 698.9L480.7 699.2M483.7 698.9L483.4 695.3M480.4 695.7L483.4 695.3M480.5 698.8L480.7 699.2M519.0 680.1L520.3 681.5M519.0 680.1L521.0 678.1M521.0 678.1L526.6 677.4M521.7 681.9L520.3 681.5M521.7 681.9L526.7 677.4M526.6 677.4L526.7 677.4M521.8 674.2L521.0 678.1M518.8 680.0L519.0 680.1M518.8 680.0L516.2 675.2M524.6 674.0L526.6 677.4M524.9 683.7L521.7 681.9M520.0 685.2L519.8 684.4M519.8 684.4L520.3 681.5M528.3 678.1L526.7 677.4M514.7 688.1L514.2 686.9M519.8 684.4L514.9 686.0M514.2 686.9L514.9 686.0M518.8 680.0L517.2 680.8M514.9 686.0L517.2 680.8M513.8 676.9L513.4 680.6M513.4 680.6L517.2 680.8M545.1 647.5L542.5 646.2M540.3 650.7L540.6 647.4M542.5 646.2L540.6 647.4M546.4 641.9L542.8 642.3M542.5 646.2L542.8 642.3M535.0 651.7L538.0 646.5M540.6 647.4L538.0 646.5M543.1 637.1L542.1 641.4M542.8 642.3L542.1 641.4M537.8 638.7L538.6 641.0M542.1 641.4L538.6 641.0M486.4 693.3L485.8 693.3M486.4 693.3L489.2 689.7M485.8 693.3L482.0 690.8M488.7 688.6L489.2 689.7M488.7 688.6L483.1 686.8M483.1 686.8L481.7 689.8M481.7 689.8L482.0 690.8M483.7 698.9L486.0 700.1M483.4 695.3L485.8 693.3M486.0 700.1L489.0 698.2M489.0 698.2L486.4 693.3M478.6 694.1L482.0 690.8M489.1 684.8L488.7 688.6M490.3 689.9L489.2 689.7M482.5 685.2L483.1 686.8M478.9 689.0L481.7 689.8M492.9 703.1L496.7 701.0M492.2 702.8L489.3 698.3M494.2 697.3L490.7 697.4M494.2 697.3L496.8 698.7M490.7 697.4L489.3 698.3M496.7 701.0L496.8 698.7M499.3 702.6L496.7 701.0M488.3 705.0L485.6 701.4M485.6 701.4L486.0 700.1M489.0 698.2L489.3 698.3M492.3 694.3L490.7 697.4M494.7 694.1L494.2 697.3M498.6 696.3L496.8 698.7M476.6 702.3L479.9 701.4M479.9 701.4L482.8 703.9M476.8 697.8L476.6 702.3M480.7 699.2L479.9 701.4M485.6 701.4L482.8 703.9M511.5 685.4L512.2 681.2M511.5 685.4L509.2 685.8M509.2 685.8L507.1 684.5M510.4 679.7L506.2 682.6M510.4 679.7L512.2 681.2M507.1 684.5L506.2 682.6M514.2 686.9L511.5 685.4M513.4 680.6L512.2 681.2M508.2 689.0L509.2 685.8M503.9 686.8L507.1 684.5M509.8 677.7L510.4 679.7M504.1 680.7L506.2 682.6M534.6 646.4L533.9 642.1M534.6 646.4L537.8 646.3M537.8 646.3L537.3 642.1M533.9 642.1L537.3 642.1M532.1 648.6L534.6 646.4M533.0 641.6L533.9 642.1M538.0 646.5L537.8 646.3M538.6 641.0L537.3 642.1"/>
<path stroke="#7e4432" stroke-width="0.8" stroke-linecap="round" d="M535.1 668.0h0M514.0 634.9h0M497.5 675.4h0M544.5 645.0h0M491.4 679.7h0M505.7 670.5h0M505.3 640.2h0M522.5 638.9h0M492.4 678.4h0M489.6 666.6h0M523.5 688.0h0M493.3 667.7h0M538.4 644.6h0M546.7 694.2h0M516.8 687.1h0M498.3 635.2h0M512.0 645.9h0M526.5 670.1h0M513.8 655.8h0M539.1 679.7h0"/>
<path stroke="#7e4432" stroke-width="1.3" stroke-linecap="round" d="M525.3 664.6h0M523.6 687.1h0M543.9 696.2h0M503.5 638.7h0M500.7 681.5h0M498.3 689.5h0M479.9 653.8h0M534.7 683.9h0M501.1 633.4h0M509.5 638.1h0M534.4 679.2h0M509.1 672.7h0M519.2 663.2h0M544.2 648.3h0M538.6 655.1h0M523.8 659.9h0M485.1 655.0h0M500.7 670.1h0M512.6 692.6h0M535.1 645.9h0M480.4 664.2h0M495.0 681.8h0M482.1 692.7h0M536.6 662.4h0M522.3 633.5h0M510.4 670.9h0M508.0 641.3h0"/>
<path stroke="#7e4432" stroke-width="1.8" stroke-linecap="round" d="M502.3 682.6h0M524.5 661.1h0M517.3 671.1h0M533.7 676.3h0M503.6 675.0h0M543.2 634.0h0M488.8 656.1h0M514.7 656.1h0M542.4 634.7h0M516.4 640.9h0M505.7 636.2h0M547.2 673.2h0M528.3 662.2h0M547.5 639.1h0M530.7 653.0h0M484.6 639.2h0M537.1 651.9h0M484.7 687.9h0M520.6 644.6h0M498.7 634.4h0M496.4 634.3h0M510.1 677.5h0M550.3 639.2h0"/>
</g>
<rect x="330.6" y="565.5" width="220.2" height="131.7" fill="none" stroke="#000" stroke-width="2.6"/>
<rect x="401.6" y="565" width="2.7" height="133" fill="#000"/>
<rect x="476.8" y="565" width="2.5" height="133" fill="#000"/>
<rect x="330" y="630" width="221" height="2.7" fill="#000"/>
<rect x="371.4" y="621.3" width="22.9" height="3.6" fill="#000"/>
<rect x="371.4" y="687.1" width="22.9" height="3.9" fill="#000"/>
<rect x="445.6" y="621.3" width="23.2" height="3.6" fill="#000"/>
<rect x="445.6" y="687.1" width="23.2" height="3.9" fill="#000"/>
<rect x="520.2" y="621.3" width="22.9" height="3.6" fill="#000"/>
<rect x="520.2" y="687.1" width="22.9" height="3.9" fill="#000"/>
<defs><filter id="n1" x="0" y="0" width="1" height="1" filterUnits="objectBoundingBox" color-interpolation-filters="sRGB"><feTurbulence type="fractalNoise" baseFrequency="0.6" numOctaves="2" seed="3"/><feColorMatrix type="matrix" values="1 0 0 0 0 1 0 0 0 0 1 0 0 0 0 0 0 0 0 1"/><feComponentTransfer><feFuncR type="linear" slope="1.75" intercept="-0.38"/><feFuncG type="linear" slope="1.75" intercept="-0.38"/><feFuncB type="linear" slope="1.75" intercept="-0.38"/></feComponentTransfer><feComponentTransfer><feFuncR type="table" tableValues="0.47 0.65 0.74 0.87 0.97"/><feFuncG type="table" tableValues="0.2 0.38 0.55 0.78 0.95"/><feFuncB type="table" tableValues="0.53 0.7 0.8 0.92 0.98"/></feComponentTransfer></filter><filter id="n2" x="0" y="0" width="1" height="1" filterUnits="objectBoundingBox" color-interpolation-filters="sRGB"><feTurbulence type="fractalNoise" baseFrequency="0.8" numOctaves="2" seed="5"/><feColorMatrix type="matrix" values="1 0 0 0 0 1 0 0 0 0 1 0 0 0 0 0 0 0 0 1"/><feComponentTransfer><feFuncR type="linear" slope="2" intercept="-0.5"/><feFuncG type="linear" slope="2" intercept="-0.5"/><feFuncB type="linear" slope="2" intercept="-0.5"/></feComponentTransfer><feComponentTransfer><feFuncR type="table" tableValues="0.63 0.74 0.78 0.86"/><feFuncG type="table" tableValues="0.37 0.51 0.6 0.75"/><feFuncB type="table" tableValues="0.69 0.79 0.83 0.9"/></feComponentTransfer></filter><filter id="n3" x="0" y="0" width="1" height="1" filterUnits="objectBoundingBox" color-interpolation-filters="sRGB"><feTurbulence type="fractalNoise" baseFrequency="0.7" numOctaves="2" seed="11"/><feColorMatrix type="matrix" values="1 0 0 0 0 1 0 0 0 0 1 0 0 0 0 0 0 0 0 1"/><feComponentTransfer><feFuncR type="linear" slope="1.6" intercept="-0.3"/><feFuncG type="linear" slope="1.6" intercept="-0.3"/><feFuncB type="linear" slope="1.6" intercept="-0.3"/></feComponentTransfer><feComponentTransfer><feFuncR type="table" tableValues="0.55 0.67 0.75 0.85 0.95"/><feFuncG type="table" tableValues="0.41 0.54 0.64 0.8 0.93"/><feFuncB type="table" tableValues="0.39 0.53 0.63 0.81 0.95"/></feComponentTransfer></filter><filter id="n4" x="0" y="0" width="1" height="1" filterUnits="objectBoundingBox" color-interpolation-filters="sRGB"><feTurbulence type="fractalNoise" baseFrequency="0.6" numOctaves="2" seed="13"/><feColorMatrix type="matrix" values="1 0 0 0 0 1 0 0 0 0 1 0 0 0 0 0 0 0 0 1"/><feComponentTransfer><feFuncR type="linear" slope="1.4" intercept="-0.2"/><feFuncG type="linear" slope="1.4" intercept="-0.2"/><feFuncB type="linear" slope="1.4" intercept="-0.2"/></feComponentTransfer><feComponentTransfer><feFuncR type="table" tableValues="0.66 0.73 0.77 0.83"/><feFuncG type="table" tableValues="0.52 0.61 0.67 0.75"/><feFuncB type="table" tableValues="0.49 0.58 0.64 0.74"/></feComponentTransfer></filter></defs>
</svg></body></html>
